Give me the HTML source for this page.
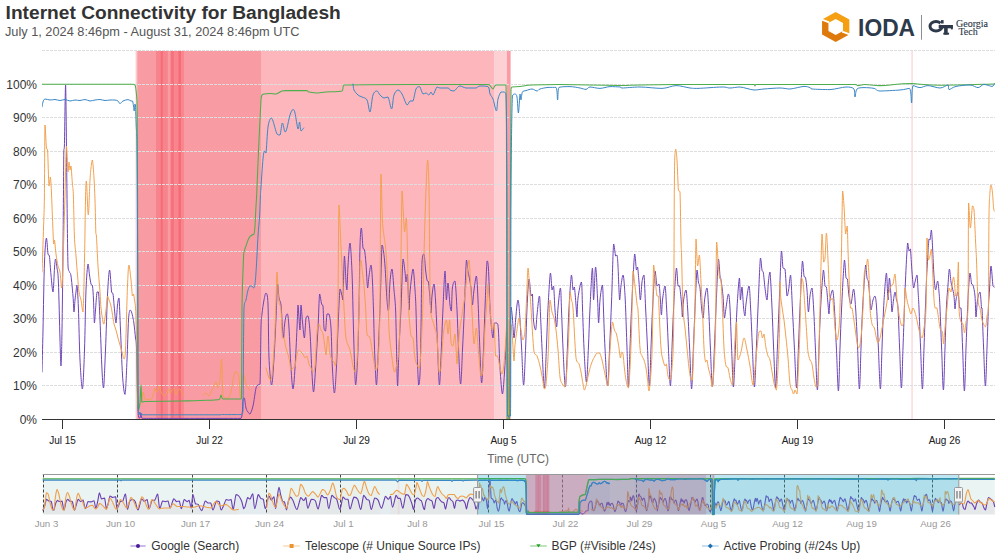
<!DOCTYPE html>
<html><head><meta charset="utf-8"><title>IODA</title>
<style>
html,body{margin:0;padding:0;background:#fff;}
body{width:1000px;height:560px;overflow:hidden;position:relative;font-family:"Liberation Sans",sans-serif;}
svg{position:absolute;left:0;top:0;}
svg text{font-family:"Liberation Sans",sans-serif;}
svg text.serif{font-family:"Liberation Serif",serif;}
</style></head><body>
<svg width="1000" height="560" viewBox="0 0 1000 560"><defs><clipPath id="plotclip"><rect x="42" y="40" width="953.5" height="380"/></clipPath><linearGradient id="bandedge" x1="0" x2="1" y1="0" y2="0"><stop offset="0" stop-color="#f99ba3" stop-opacity="0"/><stop offset="1" stop-color="#f99ba3" stop-opacity="1"/></linearGradient><clipPath id="navmaskclip"><rect x="477.6" y="470" width="481.2" height="50"/></clipPath></defs>
<text x="5.6" y="18.8" font-size="19.2" font-weight="bold" fill="#333" textLength="335.2" lengthAdjust="spacingAndGlyphs">Internet Connectivity for Bangladesh</text>
<text x="4.9" y="35.6" font-size="12.8" fill="#555" textLength="294.6" lengthAdjust="spacingAndGlyphs">July 1, 2024 8:46pm - August 31, 2024 8:46pm UTC</text>

<rect x="138" y="51" width="123" height="368.5" fill="#f99ba3"/>
<rect x="134.8" y="51" width="3.2" height="368.5" fill="url(#bandedge)"/>
<rect x="261" y="51" width="233.5" height="368.5" fill="#fdb6bc"/>
<rect x="494.4" y="51" width="12.5" height="368.5" fill="#fdd0d4"/>
<rect x="506.9" y="51" width="3.7" height="368.5" fill="#fb9ba3"/>
<rect x="911.2" y="51" width="1.8" height="368.5" fill="#fde0e2"/>
<rect x="156" y="51" width="5" height="368.5" fill="#f7838c"/>
<rect x="160.8" y="51" width="2.1" height="368.5" fill="#f56b76"/>
<rect x="162.9" y="51" width="4.9" height="368.5" fill="#f7838c"/>
<rect x="170.6" y="51" width="3.5" height="368.5" fill="#f6737e"/>
<rect x="174.1" y="51" width="4.2" height="368.5" fill="#f8858e"/>
<rect x="178.3" y="51" width="2.8" height="368.5" fill="#f56b76"/>
<rect x="181.1" y="51" width="2.8" height="368.5" fill="#f8858e"/>

<g stroke="#dedede" stroke-width="1" stroke-dasharray="3,1"><line x1="42" x2="995" y1="50.5" y2="50.5"/><line x1="42" x2="995" y1="84.5" y2="84.5"/><line x1="42" x2="995" y1="117.5" y2="117.5"/><line x1="42" x2="995" y1="151.5" y2="151.5"/><line x1="42" x2="995" y1="184.5" y2="184.5"/><line x1="42" x2="995" y1="218.5" y2="218.5"/><line x1="42" x2="995" y1="251.5" y2="251.5"/><line x1="42" x2="995" y1="285.5" y2="285.5"/><line x1="42" x2="995" y1="318.5" y2="318.5"/><line x1="42" x2="995" y1="352.5" y2="352.5"/><line x1="42" x2="995" y1="385.5" y2="385.5"/></g>
<g fill="none" stroke-linejoin="round" stroke-linecap="round" clip-path="url(#plotclip)">
<path d="M42.0 372.0 C42.2 365.0 42.6 348.3 43.0 330.0 C43.4 311.7 43.9 277.3 44.5 262.0 C45.1 246.7 45.8 239.3 46.4 238.0 C47.0 238.0 47.5 251.0 48.0 254.0 C48.5 256.0 48.9 254.0 49.4 256.0 C49.9 259.5 50.4 269.0 51.0 275.0 C51.6 281.0 52.4 292.0 53.0 292.0 C53.6 290.8 54.1 273.5 54.5 268.0 C54.9 262.5 55.2 259.0 55.6 259.0 C56.0 259.0 56.5 264.2 57.0 268.0 C57.5 271.8 57.9 270.0 58.4 282.0 C58.9 294.0 59.6 326.0 60.0 340.0 C60.4 354.0 60.7 366.0 61.0 366.0 C61.3 364.3 61.7 349.3 62.0 330.0 C62.3 310.7 62.7 279.7 63.0 250.0 C63.3 220.3 63.6 169.3 63.8 152.0 C64.0 146.0 64.1 152.0 64.4 146.0 C64.7 134.8 65.2 85.0 65.6 85.0 C65.9 85.7 66.3 131.5 66.5 150.0 C66.7 168.5 66.8 176.7 67.0 196.0 C67.2 215.3 67.6 253.3 68.0 266.0 C68.4 272.0 69.0 270.3 69.5 272.0 C70.0 273.7 70.4 272.0 71.0 276.0 C71.6 280.0 72.5 290.0 73.0 296.0 C73.5 302.0 73.7 311.3 74.0 312.0 C74.3 312.0 74.7 303.3 75.0 300.0 C75.3 296.7 75.7 294.5 76.0 292.0 C76.3 289.5 76.6 285.0 77.0 285.0 C77.4 287.7 77.9 295.5 78.4 308.0 C78.9 320.5 79.3 346.5 80.0 360.0 C80.7 373.5 81.7 389.0 82.4 389.0 C83.2 387.3 83.9 366.5 84.5 350.0 C85.1 333.5 85.4 304.3 86.0 290.0 C86.6 275.7 87.4 266.5 88.0 264.0 C88.6 264.0 89.0 271.7 89.5 275.0 C90.0 278.3 90.5 282.2 91.0 284.0 C91.5 285.8 92.1 284.0 92.5 286.0 C92.9 288.7 93.2 293.8 93.5 300.0 C93.8 306.2 94.1 321.3 94.4 323.0 C94.7 323.0 95.1 315.2 95.5 310.0 C95.9 304.8 96.5 295.0 97.0 292.0 C97.5 292.0 98.0 292.0 98.5 292.0 C99.0 296.7 99.4 307.0 100.0 320.0 C100.6 333.0 101.4 358.7 102.0 370.0 C102.6 381.3 103.0 388.0 103.6 388.0 C104.2 384.7 104.8 365.5 105.5 350.0 C106.2 334.5 106.8 308.3 107.5 295.0 C108.2 281.7 108.9 270.5 109.6 270.0 C110.3 270.0 111.0 288.0 111.6 292.0 C112.2 294.0 112.5 292.0 113.0 294.0 C113.5 297.0 114.0 305.2 114.5 310.0 C115.0 314.8 115.5 323.0 116.0 323.0 C116.5 322.2 117.0 309.2 117.5 305.0 C118.0 300.8 118.5 298.0 119.0 298.0 C119.5 302.2 119.9 317.2 120.5 330.0 C121.1 342.8 121.8 364.3 122.5 375.0 C123.2 385.7 124.2 394.4 125.0 394.4 C125.8 391.9 126.4 372.4 127.0 360.0 C127.6 347.6 128.0 328.3 128.5 320.0 C129.0 311.7 129.5 311.3 130.0 310.0 C130.5 310.0 131.0 310.7 131.5 312.0 C132.0 313.3 132.6 316.0 133.0 318.0 C133.4 320.0 133.6 320.7 134.0 324.0 C134.4 327.3 135.1 334.0 135.5 338.0 C135.9 342.0 136.2 338.5 136.5 348.0 C136.8 357.5 137.2 383.5 137.5 395.0 C137.8 406.5 138.1 413.2 138.5 417.0 C138.9 418.0 139.6 418.0 140.0 418.0 C140.4 417.3 140.7 413.0 141.0 413.0 C141.3 413.1 141.0 417.4 142.0 418.3 C145.2 418.4 150.3 418.4 160.0 418.4 C169.7 418.4 186.5 418.4 200.0 418.4 C213.5 418.4 233.8 418.4 241.0 418.4 C243.0 415.3 242.4 403.4 243.0 400.0 C243.6 398.0 243.9 398.0 244.4 398.0 C244.9 399.3 245.4 405.7 246.0 408.0 C246.6 410.3 247.3 411.0 248.0 412.0 C248.7 413.0 249.2 414.0 250.0 414.0 C250.8 413.0 252.0 410.3 253.0 406.0 C254.0 401.7 255.2 391.5 256.0 388.0 C256.8 385.0 257.3 385.7 258.0 385.0 C258.7 384.3 259.5 385.0 260.0 384.0 C260.5 374.5 260.7 339.7 261.0 328.0 C261.3 316.3 261.5 318.7 262.0 314.0 C262.5 309.3 263.3 303.5 264.0 300.0 C264.7 296.5 265.3 293.0 266.0 293.0 C266.7 293.7 267.5 293.2 268.0 304.0 C268.5 314.8 268.4 344.5 269.0 358.0 C269.6 371.5 270.8 385.0 271.6 385.0 C272.4 385.0 273.3 369.2 274.0 358.0 C274.7 346.8 275.4 330.3 276.0 318.0 C276.6 305.7 277.1 287.3 277.6 284.0 C278.1 284.0 278.4 294.5 279.0 298.0 C279.6 301.5 280.4 300.0 281.0 305.0 C281.6 310.0 282.0 322.5 282.4 328.0 C282.8 333.5 283.3 338.0 283.6 338.0 C283.9 337.7 284.0 329.7 284.4 326.0 C284.8 322.3 285.5 318.0 286.0 316.0 C286.5 314.0 287.1 314.0 287.6 314.0 C288.1 316.0 288.4 319.0 289.0 328.0 C289.6 337.0 290.3 357.8 291.0 368.0 C291.7 378.2 292.3 389.0 293.0 389.0 C293.7 389.0 294.3 378.2 295.0 368.0 C295.7 357.8 296.5 338.5 297.0 328.0 C297.5 317.5 297.7 306.7 298.0 305.0 C298.3 305.0 298.7 313.8 299.0 318.0 C299.3 322.2 299.7 330.0 300.0 330.0 C300.3 327.8 300.6 306.3 301.0 305.0 C301.4 305.0 301.9 316.5 302.5 322.0 C303.1 327.5 303.8 338.0 304.4 338.0 C305.0 337.3 305.4 321.7 306.0 318.0 C306.6 316.0 307.3 316.0 308.0 316.0 C308.7 318.3 309.3 322.3 310.0 332.0 C310.7 341.7 311.4 364.0 312.0 374.0 C312.6 384.0 313.0 392.0 313.6 392.0 C314.2 391.0 314.9 378.7 315.6 368.0 C316.3 357.3 317.3 340.3 318.0 328.0 C318.7 315.7 319.0 298.0 319.6 294.0 C320.2 294.0 321.0 302.0 321.6 304.0 C322.2 306.0 322.6 304.0 323.0 306.0 C323.4 310.0 323.6 323.8 324.0 328.0 C324.4 331.0 325.1 331.0 325.6 331.0 C326.1 328.7 326.4 316.8 327.0 314.0 C327.6 314.0 328.3 314.0 329.0 314.0 C329.7 316.3 330.4 319.0 331.0 328.0 C331.6 337.0 331.8 357.2 332.4 368.0 C333.0 378.8 333.7 393.0 334.4 393.0 C335.1 393.0 335.8 378.8 336.4 368.0 C337.0 357.2 337.4 341.2 338.0 328.0 C338.6 314.8 339.3 294.3 340.0 289.0 C340.7 289.0 341.5 294.2 342.0 296.0 C342.5 297.8 342.6 300.0 343.0 300.0 C343.4 293.3 343.9 259.0 344.4 256.0 C344.9 256.0 345.6 276.3 346.0 282.0 C346.4 287.7 346.7 290.0 347.0 290.0 C347.3 287.3 347.5 273.8 348.0 266.0 C348.5 258.2 349.3 243.0 350.0 243.0 C350.7 244.0 351.5 260.8 352.0 272.0 C352.5 283.2 352.7 297.3 353.0 310.0 C353.3 322.7 353.6 335.5 354.0 348.0 C354.4 360.5 355.0 383.3 355.6 385.0 C356.2 385.0 357.0 370.8 357.6 358.0 C358.2 345.2 358.6 326.7 359.0 308.0 C359.4 289.3 359.6 259.3 360.0 246.0 C360.4 232.7 360.9 228.0 361.4 228.0 C361.9 228.3 362.5 244.3 363.0 248.0 C363.5 250.0 364.0 248.0 364.5 250.0 C365.0 252.7 365.5 257.7 366.0 264.0 C366.5 270.3 367.1 286.0 367.6 288.0 C368.1 288.0 368.4 279.8 369.0 276.0 C369.6 272.2 370.4 265.0 371.0 265.0 C371.6 265.7 372.0 272.5 372.4 280.0 C372.8 287.5 373.1 298.7 373.5 310.0 C373.9 321.3 374.0 335.5 374.5 348.0 C375.0 360.5 375.8 383.3 376.4 385.0 C377.0 385.0 377.4 370.8 378.0 358.0 C378.6 345.2 379.3 326.8 380.0 308.0 C380.7 289.2 381.4 254.3 382.0 245.0 C382.6 245.0 383.1 248.5 383.6 252.0 C384.1 255.5 384.4 258.0 385.0 266.0 C385.6 274.0 386.4 292.5 387.0 300.0 C387.6 307.5 388.0 311.0 388.5 311.0 C389.0 308.0 389.4 289.0 390.0 282.0 C390.6 275.0 391.3 269.0 392.0 269.0 C392.7 270.3 393.4 283.2 394.0 290.0 C394.6 296.8 395.2 300.3 395.6 310.0 C396.0 319.7 396.2 335.3 396.5 348.0 C396.8 360.7 397.2 386.0 397.6 386.0 C398.0 386.0 398.4 361.0 399.0 348.0 C399.6 335.0 400.3 322.8 401.0 308.0 C401.7 293.2 402.3 265.0 403.0 259.0 C403.7 259.0 404.5 268.2 405.0 272.0 C405.5 275.8 405.6 281.7 406.0 282.0 C406.4 282.0 406.9 274.0 407.4 274.0 C407.9 278.7 408.6 307.0 409.0 310.0 C409.4 310.0 409.3 298.8 410.0 292.0 C410.7 285.2 412.2 269.3 413.0 269.0 C413.8 269.0 414.5 283.2 415.0 290.0 C415.5 296.8 415.7 300.3 416.0 310.0 C416.3 319.7 416.6 335.5 417.0 348.0 C417.4 360.5 418.1 380.7 418.6 385.0 C419.1 385.0 419.6 383.2 420.0 374.0 C420.4 364.8 420.7 348.7 421.0 330.0 C421.3 311.3 421.5 274.7 422.0 262.0 C422.5 254.0 423.4 254.0 424.0 254.0 C424.6 255.3 425.1 265.7 425.6 270.0 C426.1 274.3 426.5 278.0 427.0 280.0 C427.5 282.0 427.9 280.0 428.5 282.0 C429.1 286.2 430.0 299.8 430.4 305.0 C430.8 310.2 430.7 313.0 431.0 313.0 C431.3 311.5 431.5 300.8 432.0 296.0 C432.5 291.2 433.4 284.0 434.0 284.0 C434.6 284.7 435.1 294.0 435.5 300.0 C435.9 306.0 436.1 312.0 436.5 320.0 C436.9 328.0 437.1 337.2 437.6 348.0 C438.1 358.8 438.8 383.3 439.4 385.0 C440.0 385.0 440.4 370.8 441.0 358.0 C441.6 345.2 442.3 322.5 443.0 308.0 C443.7 293.5 444.4 272.3 445.0 271.0 C445.6 271.0 445.9 298.0 446.4 300.0 C446.9 300.0 447.4 283.0 448.0 283.0 C448.6 283.8 449.4 300.3 450.0 305.0 C450.6 309.7 451.0 311.0 451.4 311.0 C451.8 308.2 451.8 293.0 452.4 288.0 C453.0 283.0 454.2 281.0 455.0 281.0 C455.8 284.7 456.4 298.8 457.0 310.0 C457.6 321.2 457.9 335.7 458.5 348.0 C459.1 360.3 459.9 383.7 460.6 384.0 C461.3 384.0 461.9 362.7 462.5 350.0 C463.1 337.3 463.8 323.0 464.4 308.0 C465.0 293.0 465.8 266.0 466.4 260.0 C467.0 260.0 467.6 269.3 468.0 272.0 C468.4 274.7 468.5 273.3 469.0 276.0 C469.5 278.7 470.4 283.2 471.0 288.0 C471.6 292.8 471.9 304.7 472.4 305.0 C472.9 305.0 473.3 294.8 474.0 290.0 C474.7 285.2 475.7 276.0 476.4 276.0 C477.1 277.7 477.5 289.3 478.0 300.0 C478.5 310.7 478.9 326.2 479.5 340.0 C480.1 353.8 480.9 381.3 481.6 383.0 C482.3 383.0 482.9 362.5 483.5 350.0 C484.1 337.5 484.4 322.8 485.0 308.0 C485.6 293.2 486.4 267.7 487.0 261.0 C487.6 261.0 487.9 261.0 488.4 268.0 C488.9 275.8 489.5 298.0 490.0 308.0 C490.5 318.0 491.1 323.0 491.6 328.0 C492.1 333.0 492.5 338.0 493.0 338.0 C493.5 337.2 493.7 325.5 494.4 323.0 C495.1 323.0 496.3 323.0 497.0 323.0 C497.7 324.2 497.9 323.0 498.4 330.0 C498.9 337.5 499.3 357.3 500.0 368.0 C500.7 378.7 501.7 393.0 502.4 394.0 C503.1 394.0 503.7 383.3 504.4 374.0 C505.1 364.7 505.9 345.7 506.4 338.0 C506.9 330.3 507.1 328.0 507.4 328.0 C507.7 340.7 507.9 399.0 508.3 414.0 C508.7 418.0 509.2 418.0 509.5 418.0 C509.8 404.0 510.1 348.5 510.3 330.0 C510.6 311.5 510.6 309.0 511.0 307.0 C511.4 307.0 511.9 312.8 512.4 318.0 C512.9 323.2 513.5 337.7 514.0 338.0 C514.5 338.0 515.1 325.5 515.6 320.0 C516.1 314.5 516.6 308.3 517.0 305.0 C517.4 301.7 517.7 300.0 518.0 300.0 C518.3 300.2 518.7 302.7 519.0 306.0 C519.3 309.3 519.6 313.0 520.0 320.0 C520.4 327.0 521.0 337.2 521.6 348.0 C522.2 358.8 522.9 385.0 523.6 385.0 C524.3 385.0 525.0 360.8 525.6 348.0 C526.2 335.2 526.4 319.5 527.0 308.0 C527.6 296.5 528.3 281.0 529.0 279.0 C529.7 279.0 530.4 293.5 531.0 296.0 C531.6 296.0 532.0 294.0 532.4 294.0 C532.8 298.0 533.0 314.0 533.5 320.0 C534.0 326.0 535.0 330.0 535.6 330.0 C536.2 329.2 536.4 320.7 537.0 315.0 C537.6 309.3 538.8 296.0 539.4 296.0 C540.0 296.0 540.1 306.3 540.5 315.0 C540.9 323.7 541.4 335.8 542.0 348.0 C542.6 360.2 543.7 388.0 544.4 388.0 C545.1 388.0 545.8 361.3 546.4 348.0 C547.0 334.7 547.3 320.5 548.0 308.0 C548.7 295.5 549.7 276.0 550.4 273.0 C551.1 273.0 551.5 287.8 552.0 290.0 C552.5 290.0 553.1 286.0 553.6 286.0 C554.1 289.3 554.5 303.2 555.0 310.0 C555.5 316.8 556.1 327.0 556.6 327.0 C557.1 326.7 557.4 314.5 558.0 308.0 C558.6 301.5 559.8 288.0 560.4 288.0 C561.0 288.3 561.1 300.0 561.5 310.0 C561.9 320.0 562.4 335.2 563.0 348.0 C563.6 360.8 564.7 387.0 565.4 387.0 C566.1 387.0 566.8 361.2 567.4 348.0 C568.0 334.8 568.3 320.2 569.0 308.0 C569.7 295.8 570.7 278.0 571.4 275.0 C572.1 275.0 572.5 288.0 573.0 290.0 C573.5 290.0 573.9 287.0 574.4 287.0 C574.9 289.5 575.6 300.0 576.0 305.0 C576.4 310.0 576.7 317.0 577.0 317.0 C577.3 315.8 577.3 303.8 578.0 298.0 C578.7 292.2 580.6 282.0 581.4 282.0 C582.1 283.7 582.1 297.0 582.5 308.0 C582.9 319.0 583.4 335.7 584.0 348.0 C584.6 360.3 585.7 382.0 586.4 382.0 C587.1 382.0 587.8 360.3 588.4 348.0 C589.0 335.7 589.3 321.3 590.0 308.0 C590.7 294.7 591.8 269.3 592.4 268.0 C593.0 268.0 593.1 300.0 593.6 300.0 C594.1 299.8 594.9 267.0 595.6 267.0 C596.3 267.0 597.1 290.7 597.6 300.0 C598.1 309.3 598.2 323.0 598.6 323.0 C599.0 323.0 599.4 306.3 600.0 300.0 C600.6 293.7 601.8 285.0 602.4 285.0 C603.0 286.7 603.1 299.5 603.5 310.0 C603.9 320.5 604.3 335.3 605.0 348.0 C605.7 360.7 606.8 386.0 607.6 386.0 C608.4 386.0 608.9 362.3 609.6 348.0 C610.3 333.7 610.9 317.3 611.6 300.0 C612.3 282.7 612.9 251.3 613.6 244.0 C614.3 244.0 615.0 254.2 615.6 256.0 C616.2 256.0 616.6 255.0 617.0 255.0 C617.4 256.7 617.6 258.5 618.0 266.0 C618.4 273.5 619.1 296.7 619.6 300.0 C620.1 300.0 620.4 290.2 621.0 286.0 C621.6 281.8 622.4 275.0 623.0 275.0 C623.6 275.0 624.0 280.5 624.4 286.0 C624.8 291.5 625.2 297.7 625.6 308.0 C626.0 318.3 626.5 334.8 627.0 348.0 C627.5 361.2 627.9 387.0 628.4 387.0 C628.9 387.0 629.5 361.2 630.0 348.0 C630.5 334.8 630.8 323.7 631.6 308.0 C632.4 292.3 633.8 260.3 634.6 254.0 C635.4 254.0 635.9 267.8 636.4 270.0 C636.9 270.0 637.2 267.0 637.6 267.0 C638.0 269.0 638.5 276.5 639.0 282.0 C639.5 287.5 639.9 300.0 640.4 300.0 C640.9 300.0 641.4 286.2 642.0 282.0 C642.6 277.8 643.4 275.0 644.0 275.0 C644.6 279.3 645.0 295.8 645.6 308.0 C646.2 320.2 646.9 335.0 647.5 348.0 C648.1 361.0 648.8 386.0 649.4 386.0 C650.0 386.0 650.5 361.0 651.0 348.0 C651.5 335.0 651.9 320.8 652.6 308.0 C653.3 295.2 654.3 274.7 655.0 271.0 C655.7 271.0 656.3 283.8 657.0 286.0 C657.7 286.0 658.4 284.0 659.0 284.0 C659.6 286.3 660.0 294.8 660.4 300.0 C660.8 305.2 661.0 315.0 661.4 315.0 C661.8 315.0 661.9 304.8 662.5 300.0 C663.1 295.2 664.3 286.0 665.0 286.0 C665.7 287.3 666.0 297.7 666.6 308.0 C667.2 318.3 667.8 335.0 668.4 348.0 C669.0 361.0 669.8 386.0 670.4 386.0 C671.0 386.0 671.5 361.0 672.0 348.0 C672.5 335.0 672.9 321.3 673.6 308.0 C674.3 294.7 675.7 271.7 676.4 268.0 C677.1 268.0 677.5 283.0 678.0 286.0 C678.5 286.0 679.0 286.0 679.6 286.0 C680.2 289.0 681.1 298.8 681.6 304.0 C682.1 309.2 682.1 317.0 682.4 317.0 C682.7 316.3 683.0 304.5 683.6 300.0 C684.2 295.5 685.3 290.0 686.0 290.0 C686.7 291.3 687.0 298.3 687.6 308.0 C688.2 317.7 688.9 334.5 689.6 348.0 C690.3 361.5 691.0 389.0 691.6 389.0 C692.2 389.0 692.8 361.5 693.4 348.0 C694.0 334.5 694.4 321.0 695.0 308.0 C695.6 295.0 696.4 274.3 697.0 270.0 C697.6 270.0 697.9 279.0 698.4 282.0 C698.9 285.0 699.5 283.7 700.0 288.0 C700.5 292.3 701.1 303.0 701.6 308.0 C702.1 313.0 702.7 318.0 703.2 318.0 C703.7 316.7 704.0 305.0 704.6 300.0 C705.2 295.0 706.3 288.0 707.0 288.0 C707.7 289.3 708.0 298.0 708.6 308.0 C709.2 318.0 709.8 334.8 710.4 348.0 C711.0 361.2 711.7 387.0 712.4 387.0 C713.1 387.0 713.8 361.2 714.4 348.0 C715.0 334.8 715.3 322.8 716.0 308.0 C716.7 293.2 717.7 264.3 718.4 259.0 C719.1 259.0 719.6 272.5 720.0 276.0 C720.4 279.5 720.5 276.7 721.0 280.0 C721.5 283.3 722.4 289.7 723.0 296.0 C723.6 302.3 723.9 316.0 724.4 318.0 C724.9 318.0 725.3 312.0 726.0 308.0 C726.7 304.0 727.7 294.0 728.4 294.0 C729.1 294.0 729.5 299.0 730.0 308.0 C730.5 317.0 731.0 334.8 731.6 348.0 C732.2 361.2 732.8 387.0 733.4 387.0 C734.0 387.0 734.8 361.2 735.4 348.0 C736.0 334.8 736.3 319.7 737.0 308.0 C737.7 296.3 738.8 279.3 739.4 278.0 C740.0 278.0 740.0 298.5 740.4 300.0 C740.8 300.0 741.5 287.0 742.0 287.0 C742.5 288.3 743.1 303.2 743.6 308.0 C744.1 312.8 744.6 316.0 745.0 316.0 C745.4 315.3 745.3 309.0 746.0 304.0 C746.7 299.0 748.2 286.0 749.0 286.0 C749.8 286.7 750.0 297.7 750.6 308.0 C751.2 318.3 751.8 334.8 752.4 348.0 C753.0 361.2 753.7 387.0 754.4 387.0 C755.1 387.0 755.8 361.2 756.4 348.0 C757.0 334.8 757.3 323.0 758.0 308.0 C758.7 293.0 759.7 264.3 760.4 258.0 C761.1 258.0 761.5 267.5 762.0 270.0 C762.5 272.5 762.9 270.0 763.4 273.0 C763.9 276.0 764.4 283.5 765.0 288.0 C765.6 292.5 766.4 300.0 767.0 300.0 C767.6 299.0 767.9 286.7 768.4 282.0 C768.9 277.3 769.4 272.0 770.0 272.0 C770.6 276.3 771.4 295.3 772.0 308.0 C772.6 320.7 773.0 334.7 773.6 348.0 C774.2 361.3 775.0 388.0 775.6 388.0 C776.2 388.0 776.8 361.3 777.4 348.0 C778.0 334.7 778.3 324.2 779.0 308.0 C779.7 291.8 780.7 257.7 781.4 251.0 C782.1 251.0 782.4 265.0 783.0 268.0 C783.6 269.0 784.3 268.0 785.0 269.0 C785.7 273.7 786.4 292.5 787.0 296.0 C787.6 296.0 788.0 293.5 788.6 290.0 C789.2 286.5 790.0 275.0 790.6 275.0 C791.2 278.0 791.8 295.8 792.4 308.0 C793.0 320.2 793.7 334.7 794.4 348.0 C795.1 361.3 795.9 388.0 796.6 388.0 C797.3 388.0 797.8 361.3 798.4 348.0 C799.0 334.7 799.3 322.5 800.0 308.0 C800.7 293.5 801.7 266.3 802.4 261.0 C803.1 261.0 803.5 273.2 804.0 276.0 C804.5 278.0 805.1 276.0 805.6 278.0 C806.1 280.3 806.5 284.3 807.0 290.0 C807.5 295.7 807.9 311.0 808.4 312.0 C808.9 312.0 809.4 300.0 810.0 296.0 C810.6 292.0 811.4 288.0 812.0 288.0 C812.6 290.0 813.0 298.0 813.6 308.0 C814.2 318.0 814.8 334.3 815.4 348.0 C816.0 361.7 816.8 390.0 817.4 390.0 C818.0 390.0 818.5 361.7 819.0 348.0 C819.5 334.3 819.9 321.0 820.6 308.0 C821.3 295.0 822.7 273.7 823.4 270.0 C824.1 270.0 824.5 283.2 825.0 286.0 C825.5 287.0 825.9 286.0 826.4 287.0 C826.9 290.0 827.6 299.5 828.0 304.0 C828.4 308.5 828.7 314.0 829.0 314.0 C829.3 313.3 829.4 304.0 830.0 300.0 C830.6 296.0 831.9 290.0 832.6 290.0 C833.3 291.3 833.8 298.3 834.4 308.0 C835.0 317.7 835.7 334.2 836.4 348.0 C837.1 361.8 837.8 391.0 838.4 391.0 C839.0 391.0 839.5 361.8 840.0 348.0 C840.5 334.2 840.9 322.7 841.6 308.0 C842.3 293.3 843.7 265.0 844.4 260.0 C845.1 260.0 845.5 274.8 846.0 278.0 C846.5 279.0 846.9 278.0 847.4 279.0 C847.9 282.0 848.4 291.8 849.0 296.0 C849.6 300.2 850.2 304.0 851.0 304.0 C851.8 302.8 852.8 289.0 853.6 289.0 C854.4 289.7 854.9 298.2 855.6 308.0 C856.3 317.8 857.0 334.5 857.6 348.0 C858.2 361.5 858.8 389.0 859.4 389.0 C860.0 389.0 860.5 361.5 861.0 348.0 C861.5 334.5 861.8 321.8 862.6 308.0 C863.4 294.2 864.9 270.0 865.6 265.0 C866.3 265.0 866.5 275.2 867.0 278.0 C867.5 280.8 867.9 278.3 868.4 282.0 C868.9 285.7 869.6 295.3 870.0 300.0 C870.4 304.7 870.5 310.0 871.0 310.0 C871.5 310.0 872.3 302.3 873.0 300.0 C873.7 297.7 874.4 296.0 875.0 296.0 C875.6 297.3 876.0 299.3 876.6 308.0 C877.2 316.7 877.8 334.5 878.4 348.0 C879.0 361.5 879.8 389.0 880.4 389.0 C881.0 389.0 881.5 361.5 882.0 348.0 C882.5 334.5 882.9 320.5 883.6 308.0 C884.3 295.5 885.7 274.3 886.4 273.0 C887.1 273.0 887.5 299.2 888.0 300.0 C888.5 300.0 888.9 278.7 889.4 278.0 C889.9 278.0 890.6 290.3 891.0 296.0 C891.4 301.7 891.6 311.3 892.0 312.0 C892.4 312.0 893.0 303.3 893.5 300.0 C894.0 296.7 894.5 292.0 895.0 292.0 C895.5 292.0 896.0 297.3 896.5 300.0 C897.0 302.7 897.5 300.0 898.0 308.0 C898.5 316.0 899.0 334.7 899.6 348.0 C900.2 361.3 900.8 388.0 901.4 388.0 C902.0 388.0 902.5 361.3 903.0 348.0 C903.5 334.7 904.0 319.3 904.4 308.0 C904.8 296.7 905.0 290.8 905.5 280.0 C906.0 269.2 907.0 247.8 907.6 243.0 C908.2 243.0 908.5 250.0 909.0 251.0 C909.5 251.0 909.9 249.0 910.4 249.0 C910.9 252.5 911.5 265.5 912.0 272.0 C912.5 278.5 913.1 286.3 913.6 288.0 C914.1 288.0 914.4 284.2 915.0 282.0 C915.6 279.8 916.5 275.0 917.0 275.0 C917.5 276.3 917.7 284.5 918.0 290.0 C918.3 295.5 918.6 298.3 919.0 308.0 C919.4 317.7 920.0 334.5 920.6 348.0 C921.2 361.5 921.8 389.0 922.4 389.0 C923.0 389.0 923.5 361.5 924.0 348.0 C924.5 334.5 925.0 319.3 925.4 308.0 C925.8 296.7 926.1 289.3 926.5 280.0 C926.9 270.7 927.6 258.8 928.0 252.0 C928.4 245.2 928.7 241.0 929.0 239.0 C929.3 239.0 929.6 240.0 930.0 240.0 C930.4 238.5 931.0 230.0 931.4 230.0 C931.8 231.3 932.2 240.3 932.6 248.0 C933.0 255.7 933.5 269.0 934.0 276.0 C934.5 283.0 935.0 289.2 935.6 290.0 C936.2 290.0 937.0 281.0 937.6 281.0 C938.2 281.3 938.6 287.5 939.0 292.0 C939.4 296.5 939.6 298.7 940.0 308.0 C940.4 317.3 941.0 334.3 941.6 348.0 C942.2 361.7 942.8 390.0 943.4 390.0 C944.0 390.0 944.5 361.7 945.0 348.0 C945.5 334.3 945.9 318.5 946.4 308.0 C946.9 297.5 947.5 291.5 948.0 285.0 C948.5 278.5 948.9 269.5 949.4 269.0 C949.9 269.0 950.5 278.8 951.0 282.0 C951.5 285.2 951.9 285.7 952.4 288.0 C952.9 290.3 953.6 292.5 954.0 296.0 C954.4 299.5 954.7 308.3 955.0 309.0 C955.3 309.0 955.5 302.8 956.0 300.0 C956.5 297.2 957.4 292.0 958.0 292.0 C958.6 293.3 959.1 305.3 959.6 308.0 C960.1 308.0 960.5 308.0 961.0 308.0 C961.5 314.7 962.0 334.2 962.6 348.0 C963.2 361.8 963.8 391.0 964.4 391.0 C965.0 391.0 965.5 361.8 966.0 348.0 C966.5 334.2 967.2 317.7 967.6 308.0 C968.0 298.3 968.1 295.8 968.5 290.0 C968.9 284.2 969.5 274.0 970.0 273.0 C970.5 273.0 971.1 282.0 971.6 284.0 C972.1 285.0 972.4 284.0 973.0 285.0 C973.6 287.0 974.5 290.7 975.0 296.0 C975.5 301.3 975.6 316.3 976.0 317.0 C976.4 317.0 976.8 304.2 977.5 300.0 C978.2 295.8 979.3 292.0 980.0 292.0 C980.7 293.3 981.2 305.3 981.5 308.0 C981.8 308.0 981.6 308.0 982.0 308.0 C982.4 314.7 983.0 335.0 983.6 348.0 C984.2 361.0 984.8 386.0 985.4 386.0 C986.0 386.0 986.5 361.0 987.0 348.0 C987.5 335.0 988.0 317.7 988.4 308.0 C988.8 298.3 989.1 297.0 989.5 290.0 C989.9 283.0 990.4 266.7 991.0 266.0 C991.6 266.0 992.4 282.5 993.0 286.0 C993.6 287.0 994.2 286.8 994.4 287.0" stroke="#6d45b8" stroke-width="1.0"/>
<path d="M42.0 272.0 C42.3 264.3 43.2 238.7 43.6 226.0 C44.0 213.3 44.2 212.8 44.4 196.0 C44.6 179.2 44.7 133.0 45.0 125.0 C45.3 125.0 46.0 143.8 46.4 148.0 C46.8 150.0 47.2 148.0 47.6 150.0 C48.0 156.3 48.5 181.5 49.0 186.0 C49.5 186.0 50.0 177.0 50.4 177.0 C50.8 178.7 51.1 184.8 51.6 196.0 C52.1 207.2 53.1 236.7 53.6 244.0 C54.1 244.0 54.1 240.0 54.5 240.0 C54.9 241.7 55.4 249.7 56.0 254.0 C56.6 258.3 57.3 263.0 58.0 266.0 C58.7 269.0 59.4 268.3 60.0 272.0 C60.6 275.7 61.2 286.7 61.6 288.0 C62.0 288.0 62.0 288.0 62.4 280.0 C62.8 270.3 63.6 244.0 64.0 230.0 C64.4 216.0 64.6 210.0 65.0 196.0 C65.4 182.0 65.9 150.0 66.4 146.0 C66.9 146.0 67.6 169.3 68.0 172.0 C68.4 172.0 68.7 162.3 69.0 162.0 C69.3 162.0 69.7 169.3 70.0 170.0 C70.3 170.0 70.6 166.0 71.0 166.0 C71.4 168.3 72.0 179.0 72.4 184.0 C72.8 189.0 73.1 187.3 73.4 196.0 C73.7 204.7 74.0 226.0 74.4 236.0 C74.8 246.0 75.5 249.3 76.0 256.0 C76.5 262.7 77.1 270.0 77.6 276.0 C78.1 282.0 78.4 288.0 79.0 292.0 C79.6 296.0 80.3 296.7 81.0 300.0 C81.7 303.3 82.4 312.0 83.0 312.0 C83.6 305.3 84.1 278.7 84.5 260.0 C84.9 241.3 85.2 213.2 85.5 200.0 C85.8 186.8 85.9 181.0 86.4 181.0 C86.9 183.5 87.7 215.0 88.3 215.0 C88.9 214.8 89.5 187.8 90.0 180.0 C90.5 172.2 90.6 171.3 91.0 168.0 C91.4 164.7 91.9 160.0 92.4 160.0 C92.9 161.7 93.6 171.3 94.0 178.0 C94.4 184.7 94.7 191.0 95.0 200.0 C95.3 209.0 95.6 226.0 95.8 232.0 C96.0 236.0 96.0 232.0 96.4 236.0 C96.8 241.7 97.4 256.7 98.0 266.0 C98.6 275.3 99.5 285.0 100.0 292.0 C100.5 299.0 100.5 303.0 101.0 308.0 C101.5 313.0 102.5 319.3 103.0 322.0 C103.5 324.0 103.5 324.0 104.0 324.0 C104.5 322.0 105.4 314.7 106.0 310.0 C106.6 305.3 107.1 297.7 107.6 296.0 C108.1 296.0 108.4 298.3 109.0 300.0 C109.6 301.7 110.3 303.0 111.0 306.0 C111.7 309.0 112.5 315.0 113.0 318.0 C113.5 321.0 113.5 322.0 114.0 324.0 C114.5 326.0 115.3 327.7 116.0 330.0 C116.7 332.3 117.3 335.5 118.0 338.0 C118.7 340.5 119.3 342.7 120.0 345.0 C120.7 347.3 121.3 349.7 122.0 352.0 C122.7 354.3 123.4 359.0 124.0 359.0 C124.6 358.7 125.0 359.0 125.5 350.0 C126.0 340.2 126.6 312.5 127.0 300.0 C127.4 287.5 127.7 280.8 128.0 275.0 C128.3 269.2 128.5 265.0 129.0 265.0 C129.5 265.8 130.4 274.8 131.0 280.0 C131.6 285.2 132.0 293.7 132.4 296.0 C132.8 296.0 133.2 294.0 133.5 294.0 C133.8 294.7 134.2 297.7 134.5 300.0 C134.8 302.3 135.3 304.0 135.6 308.0 C135.9 312.0 136.0 318.7 136.2 324.0 C136.4 329.3 136.6 327.3 136.8 340.0 C137.0 352.7 137.1 388.7 137.5 400.0 C137.9 408.0 138.6 407.2 139.0 408.0 C139.4 408.0 139.5 406.7 140.0 405.0 C140.5 403.3 141.5 400.2 142.0 398.0 C142.5 395.8 142.6 392.0 143.0 392.0 C143.4 392.0 144.0 396.7 144.5 398.0 C145.0 399.3 145.4 399.8 146.0 400.0 C146.6 400.0 147.3 399.0 148.0 399.0 C148.7 399.0 149.3 400.0 150.0 400.0 C150.7 399.8 151.3 399.3 152.0 398.0 C152.7 396.7 153.5 393.7 154.0 392.0 C154.5 390.3 154.6 388.0 155.0 388.0 C155.4 388.0 156.0 391.7 156.5 392.0 C157.0 392.0 157.5 391.0 158.0 390.0 C158.5 389.0 159.0 386.0 159.5 386.0 C160.0 386.3 160.4 390.5 161.0 392.0 C161.6 393.5 162.3 394.3 163.0 395.0 C163.7 395.7 164.3 396.0 165.0 396.0 C165.7 395.5 166.3 393.2 167.0 392.0 C167.7 390.8 168.4 389.0 169.0 389.0 C169.6 389.2 170.0 392.8 170.5 393.0 C171.0 393.0 171.4 390.8 172.0 390.0 C172.6 389.2 173.3 388.0 174.0 388.0 C174.7 388.8 175.3 394.7 176.0 395.0 C176.7 395.0 177.3 391.0 178.0 390.0 C178.7 389.0 179.3 389.0 180.0 389.0 C180.7 389.5 181.3 391.8 182.0 393.0 C182.7 394.2 183.7 395.5 184.0 396.0 M203.0 395.0 C203.5 394.7 205.0 393.0 206.0 393.0 C207.0 393.2 208.0 396.0 209.0 396.0 C210.0 395.5 211.0 392.0 212.0 390.0 C213.0 388.0 214.3 385.3 215.0 384.0 C215.7 382.7 215.5 382.0 216.0 382.0 C216.5 382.7 217.3 388.0 218.0 388.0 C218.7 387.7 219.4 384.8 220.0 380.0 C220.6 375.2 221.2 359.0 221.6 359.0 C222.0 359.8 222.3 378.8 222.5 385.0 C222.7 391.2 222.5 393.8 223.0 396.0 C223.6 398.0 225.0 397.8 226.0 398.0 C227.0 398.0 228.2 398.0 229.0 397.0 C229.8 396.0 230.3 394.8 231.0 392.0 C231.7 389.2 232.3 383.3 233.0 380.0 C233.7 376.7 234.3 373.3 235.0 372.0 C235.7 372.0 236.3 372.0 237.0 372.0 C237.7 373.0 238.4 373.7 239.0 378.0 C239.6 382.3 240.0 396.0 240.4 398.0 C240.8 398.0 241.0 394.0 241.5 390.0 C242.0 386.0 242.8 375.0 243.6 374.0 C244.3 374.0 245.1 381.5 246.0 384.0 C246.9 386.5 248.3 388.0 249.0 389.0 C249.7 390.0 249.8 389.8 250.0 390.0 M266.0 368.0 C266.5 369.7 268.2 376.0 269.0 378.0 C269.8 380.0 270.3 380.0 271.0 380.0 C271.7 377.7 272.3 372.7 273.0 364.0 C273.7 355.3 274.5 338.7 275.0 328.0 C275.5 317.3 275.7 309.3 276.0 300.0 C276.3 290.7 276.7 273.7 277.0 272.0 C277.3 272.0 277.7 285.0 278.0 290.0 C278.3 295.0 278.5 298.7 279.0 302.0 C279.5 305.3 280.4 304.0 281.0 310.0 C281.6 316.0 281.9 333.3 282.4 338.0 C282.9 338.0 283.4 338.0 284.0 338.0 C284.6 339.7 285.2 344.7 286.0 348.0 C286.8 351.3 288.2 354.3 289.0 358.0 C289.8 361.7 290.3 368.3 291.0 370.0 C291.7 370.0 292.3 368.7 293.0 368.0 C293.7 367.3 294.3 368.0 295.0 366.0 C295.7 363.7 296.3 356.7 297.0 354.0 C297.7 351.3 298.3 350.3 299.0 350.0 C299.7 350.0 300.3 351.3 301.0 352.0 C301.7 352.7 302.3 353.0 303.0 354.0 C303.7 355.0 304.3 357.7 305.0 358.0 C305.7 358.0 306.3 356.0 307.0 356.0 C307.7 357.0 308.3 362.0 309.0 364.0 C309.7 366.0 310.3 366.7 311.0 368.0 C311.7 369.3 312.3 372.0 313.0 372.0 C313.7 371.7 314.3 372.0 315.0 366.0 C315.7 359.3 316.3 339.0 317.0 332.0 C317.7 325.0 318.3 324.3 319.0 324.0 C319.7 324.0 320.3 328.3 321.0 330.0 C321.7 331.7 322.3 331.0 323.0 334.0 C323.7 337.0 324.5 344.5 325.0 348.0 C325.5 351.5 325.5 355.0 326.0 355.0 C326.5 353.0 327.3 336.2 328.0 336.0 C328.7 336.0 329.3 350.0 330.0 354.0 C330.7 358.0 331.3 358.7 332.0 360.0 C332.7 361.3 333.4 361.0 334.0 362.0 C334.6 363.0 335.1 366.0 335.6 366.0 C336.1 362.3 336.6 351.0 337.0 340.0 C337.4 329.0 337.7 322.5 338.0 300.0 C338.3 277.5 338.5 213.7 339.0 205.0 C339.5 205.0 340.3 234.5 341.0 248.0 C341.7 261.5 342.5 276.0 343.0 286.0 C343.5 296.0 343.5 299.3 344.0 308.0 C344.5 316.7 345.0 331.0 346.0 338.0 C347.0 345.0 348.8 345.3 350.0 350.0 C351.2 354.7 352.2 362.3 353.0 366.0 C353.8 369.7 354.3 372.0 355.0 372.0 C355.7 371.0 356.4 367.3 357.0 360.0 C357.6 352.7 358.0 339.7 358.4 328.0 C358.8 316.3 359.3 301.0 359.6 290.0 C359.9 279.0 359.8 267.0 360.0 262.0 C360.2 260.0 360.6 260.0 361.0 260.0 C361.4 261.7 361.9 267.7 362.4 272.0 C362.9 276.3 363.5 280.0 364.0 286.0 C364.5 292.0 365.1 300.0 365.6 308.0 C366.1 316.0 366.3 329.0 367.0 334.0 C367.7 338.0 369.0 334.3 370.0 338.0 C371.0 341.7 372.1 350.7 373.0 356.0 C373.9 361.3 374.8 368.3 375.6 370.0 C376.4 370.0 376.9 370.0 377.6 366.0 C378.3 359.0 379.2 347.3 379.6 328.0 C380.1 308.7 380.1 275.7 380.3 250.0 C380.5 224.3 380.6 179.0 381.0 174.0 C381.4 174.0 381.9 209.7 382.4 220.0 C382.9 230.3 383.4 230.7 384.0 236.0 C384.6 241.3 385.3 242.7 386.0 252.0 C386.7 261.3 387.5 279.0 388.0 292.0 C388.5 305.0 388.3 319.0 389.0 330.0 C389.7 341.0 391.1 351.0 392.0 358.0 C392.9 365.0 393.7 370.3 394.4 372.0 C395.1 372.0 395.2 372.0 396.0 368.0 C396.8 364.0 398.3 359.3 399.0 348.0 C399.7 336.7 399.9 326.2 400.4 300.0 C400.9 273.8 401.5 205.3 402.0 191.0 C402.5 191.0 403.0 207.2 403.4 214.0 C403.8 220.8 404.1 231.3 404.6 232.0 C405.1 232.0 405.9 218.0 406.4 218.0 C406.9 222.0 407.2 241.0 407.6 256.0 C408.0 271.0 408.0 294.7 408.6 308.0 C409.2 321.3 410.3 331.0 411.0 336.0 C411.7 338.0 412.3 336.0 413.0 338.0 C413.7 341.7 414.2 353.3 415.0 358.0 C415.8 362.7 416.8 364.3 417.6 366.0 C418.4 367.7 418.9 368.0 419.6 368.0 C420.3 363.3 421.0 349.3 421.6 338.0 C422.2 326.7 422.6 313.7 423.0 300.0 C423.4 286.3 423.6 272.7 424.0 256.0 C424.4 239.3 425.0 216.0 425.6 200.0 C426.2 184.0 427.0 161.7 427.6 160.0 C428.2 160.0 428.7 175.0 429.0 190.0 C429.3 205.0 429.4 230.3 429.6 250.0 C429.9 269.7 429.8 295.5 430.5 308.0 C431.2 320.5 432.9 320.0 434.0 325.0 C435.1 330.0 436.2 330.2 437.0 338.0 C437.8 345.8 438.3 367.0 439.0 372.0 C439.7 372.0 440.3 372.0 441.0 368.0 C441.7 362.3 442.3 345.3 443.0 338.0 C443.7 330.7 444.4 327.0 445.0 324.0 C445.6 321.0 446.1 320.0 446.6 320.0 C447.1 321.7 447.5 334.0 448.0 334.0 C448.5 334.0 449.1 320.0 449.6 320.0 C450.1 321.3 450.4 337.7 451.0 342.0 C451.6 346.0 452.3 346.0 453.0 346.0 C453.7 344.7 454.3 334.0 455.0 334.0 C455.7 337.0 456.5 361.3 457.0 364.0 C457.5 364.0 457.5 356.0 458.0 350.0 C458.5 344.0 459.3 333.8 460.0 328.0 C460.7 322.2 461.5 318.3 462.0 315.0 C462.5 311.7 462.5 311.3 463.0 308.0 C463.5 304.7 464.3 300.5 465.0 295.0 C465.7 289.5 466.3 280.8 467.0 275.0 C467.7 269.2 468.4 260.0 469.0 260.0 C469.6 260.8 469.9 271.3 470.4 280.0 C470.9 288.7 471.4 301.3 472.0 312.0 C472.6 322.7 473.3 341.3 474.0 344.0 C474.7 344.0 475.6 328.0 476.4 328.0 C477.2 330.3 478.2 350.0 479.0 358.0 C479.8 366.0 480.3 374.3 481.0 376.0 C481.7 376.0 482.3 376.0 483.0 368.0 C483.7 360.0 484.3 339.3 485.0 328.0 C485.7 316.7 486.5 307.3 487.0 300.0 C487.5 292.7 487.7 284.8 488.0 284.0 C488.3 284.0 488.7 291.0 489.0 295.0 C489.3 299.0 489.5 302.2 490.0 308.0 C490.5 313.8 491.3 327.5 492.0 330.0 C492.7 330.0 493.4 323.0 494.0 323.0 C494.6 327.3 495.0 350.5 495.6 356.0 C496.2 356.0 496.9 356.0 497.6 356.0 C498.3 357.7 498.9 363.0 499.6 366.0 C500.3 369.0 501.3 374.0 502.0 374.0 C502.7 373.7 503.3 370.3 504.0 364.0 C504.7 357.7 505.5 343.7 506.0 336.0 C506.5 328.3 506.9 318.0 507.2 318.0 C507.5 328.7 507.7 383.7 508.0 400.0 C508.3 416.0 508.6 416.0 509.0 416.0 C509.4 404.3 510.0 345.3 510.3 330.0 C510.6 324.0 510.6 324.0 511.0 324.0 C511.4 325.3 511.9 331.8 512.4 338.0 C512.9 344.2 513.6 359.8 514.0 361.0 C514.4 361.0 514.5 350.2 515.0 345.0 C515.5 339.8 516.3 334.5 517.0 330.0 C517.7 325.5 518.3 318.0 519.0 318.0 C519.7 318.0 520.3 326.3 521.0 330.0 C521.7 333.7 522.3 340.0 523.0 340.0 C523.7 340.0 524.4 336.7 525.0 330.0 C525.6 323.3 526.0 310.3 526.5 300.0 C527.0 289.7 527.5 270.0 528.0 268.0 C528.5 268.0 529.1 281.3 529.6 288.0 C530.1 294.7 530.3 297.3 531.0 308.0 C531.7 318.7 533.0 344.0 534.0 352.0 C535.0 356.0 536.0 353.7 537.0 356.0 C538.0 358.3 539.1 362.3 540.0 366.0 C540.9 369.7 541.7 374.2 542.4 378.0 C543.1 381.8 543.8 388.0 544.4 389.0 C545.0 389.0 545.4 389.0 546.0 384.0 C546.6 378.8 547.5 367.0 548.0 358.0 C548.5 349.0 548.7 339.7 549.0 330.0 C549.3 320.3 549.5 303.0 550.0 300.0 C550.5 300.0 551.3 309.0 552.0 312.0 C552.7 315.0 553.3 315.0 554.0 318.0 C554.7 321.0 555.3 324.7 556.0 330.0 C556.7 335.3 557.3 342.2 558.0 350.0 C558.7 357.8 559.3 371.3 560.0 377.0 C560.7 382.7 561.6 382.3 562.4 384.0 C563.2 385.7 564.2 387.0 565.0 387.0 C565.8 384.3 566.3 377.8 567.0 368.0 C567.7 358.2 568.5 340.7 569.0 328.0 C569.5 315.3 569.6 296.7 570.0 292.0 C570.4 292.0 571.0 297.3 571.5 300.0 C572.0 302.7 572.2 300.0 573.0 308.0 C573.8 317.7 575.0 348.7 576.0 358.0 C577.0 364.0 578.2 361.7 579.0 364.0 C579.8 366.3 580.3 368.7 581.0 372.0 C581.7 375.3 582.4 381.0 583.0 384.0 C583.6 387.0 583.8 390.0 584.4 390.0 C585.0 390.0 585.6 387.0 586.4 384.0 C587.2 381.0 588.1 375.7 589.0 372.0 C589.9 368.3 591.0 364.7 592.0 362.0 C593.0 359.3 594.2 357.5 595.0 356.0 C595.8 354.5 596.2 353.5 597.0 353.0 C597.8 353.0 598.8 353.0 599.6 353.0 C600.4 354.2 601.1 356.5 602.0 360.0 C602.9 363.5 604.0 369.7 605.0 374.0 C606.0 378.3 607.2 386.0 608.0 386.0 C608.8 382.0 609.3 360.7 610.0 350.0 C610.7 339.3 611.7 325.3 612.4 322.0 C613.1 322.0 613.7 328.0 614.4 330.0 C615.1 332.0 615.7 331.7 616.4 334.0 C617.1 336.3 617.7 340.0 618.4 344.0 C619.1 348.0 619.9 356.7 620.4 358.0 C620.9 358.0 621.2 352.7 621.6 352.0 C622.0 352.0 622.5 352.0 623.0 354.0 C623.5 356.7 623.9 363.7 624.4 368.0 C624.9 372.3 625.3 376.7 626.0 380.0 C626.7 383.3 627.7 388.0 628.4 388.0 C629.1 386.0 629.5 378.0 630.0 368.0 C630.5 358.0 631.1 344.2 631.6 328.0 C632.1 311.8 632.4 278.0 633.0 271.0 C633.6 271.0 634.3 280.5 635.0 286.0 C635.7 291.5 636.5 300.0 637.0 304.0 C637.5 308.0 637.5 304.0 638.0 310.0 C638.5 317.3 639.3 340.3 640.0 348.0 C640.7 355.7 641.3 354.0 642.0 356.0 C642.7 358.0 643.3 358.0 644.0 360.0 C644.7 362.0 645.4 364.7 646.0 368.0 C646.6 371.3 647.1 376.2 647.6 380.0 C648.1 383.8 648.4 391.0 649.0 391.0 C649.6 389.7 650.4 380.8 651.0 372.0 C651.6 363.2 652.0 355.8 652.4 338.0 C652.8 320.2 653.1 274.0 653.6 265.0 C654.1 265.0 655.0 278.8 655.6 284.0 C656.2 289.2 656.5 294.0 657.0 296.0 C657.5 296.0 658.1 296.0 658.4 296.0 C658.7 298.0 658.6 299.3 659.0 308.0 C659.4 316.7 660.3 339.3 661.0 348.0 C661.7 356.7 662.3 357.0 663.0 360.0 C663.7 363.0 664.4 365.3 665.0 366.0 C665.6 366.0 665.9 364.0 666.4 364.0 C666.9 365.7 667.4 373.3 668.0 376.0 C668.6 378.7 669.3 380.0 670.0 380.0 C670.7 378.7 671.4 376.7 672.0 368.0 C672.6 359.3 673.2 359.3 673.6 328.0 C674.0 296.7 674.1 209.8 674.4 180.0 C674.7 150.2 675.2 152.3 675.6 149.0 C676.0 149.0 676.5 153.2 677.0 160.0 C677.5 166.8 677.9 184.7 678.4 190.0 C678.9 192.0 679.6 190.0 680.0 192.0 C680.4 200.7 680.7 231.3 681.0 242.0 C681.3 252.7 681.3 245.0 681.6 256.0 C681.9 267.0 682.4 296.0 683.0 308.0 C683.6 320.0 684.3 321.3 685.0 328.0 C685.7 334.7 686.3 341.3 687.0 348.0 C687.7 354.7 688.3 362.7 689.0 368.0 C689.7 373.3 690.4 378.0 691.0 380.0 C691.6 380.0 691.9 380.0 692.4 380.0 C692.9 373.0 693.6 350.0 694.0 338.0 C694.4 326.0 694.7 324.5 695.0 308.0 C695.3 291.5 695.6 246.0 696.0 239.0 C696.4 239.0 697.0 263.3 697.6 266.0 C698.2 266.0 698.8 255.0 699.4 255.0 C700.0 257.7 700.5 273.2 701.0 282.0 C701.5 290.8 701.9 297.0 702.4 308.0 C702.9 319.0 703.5 339.0 704.0 348.0 C704.5 357.0 705.1 360.0 705.6 362.0 C706.1 362.0 706.5 360.0 707.0 360.0 C707.5 361.0 707.8 365.3 708.4 368.0 C709.0 370.7 709.7 372.8 710.4 376.0 C711.1 379.2 711.8 387.0 712.4 387.0 C713.0 385.7 713.5 377.8 714.0 368.0 C714.5 358.2 715.2 349.0 715.6 328.0 C716.0 307.0 716.1 252.3 716.6 242.0 C717.1 242.0 717.9 260.0 718.4 266.0 C718.9 272.0 719.2 275.7 719.6 278.0 C720.0 280.0 720.5 278.0 721.0 280.0 C721.5 285.0 721.9 296.7 722.4 308.0 C722.9 319.3 723.4 338.3 724.0 348.0 C724.6 357.7 725.3 362.7 726.0 366.0 C726.7 368.0 727.3 366.0 728.0 368.0 C728.7 370.0 729.3 375.2 730.0 378.0 C730.7 380.8 731.7 385.0 732.4 385.0 C733.1 382.0 733.6 367.5 734.0 360.0 C734.4 352.5 734.6 346.3 735.0 340.0 C735.4 333.7 736.0 322.0 736.5 322.0 C737.0 325.3 737.2 355.0 738.0 360.0 C738.8 360.0 740.0 355.7 741.0 352.0 C742.0 348.3 743.0 338.3 744.0 338.0 C745.0 338.0 746.0 345.3 747.0 350.0 C748.0 354.7 749.0 360.2 750.0 366.0 C751.0 371.8 752.2 384.7 753.0 385.0 C753.8 385.0 754.3 374.2 755.0 368.0 C755.7 361.8 756.3 354.0 757.0 348.0 C757.7 342.0 758.3 334.8 759.0 332.0 C759.7 331.0 760.4 331.0 761.0 331.0 C761.6 332.0 761.9 337.5 762.4 338.0 C762.9 338.0 763.4 334.0 764.0 334.0 C764.6 335.7 765.3 344.3 766.0 348.0 C766.7 351.7 767.3 354.0 768.0 356.0 C768.7 358.0 769.3 357.0 770.0 360.0 C770.7 363.0 771.7 369.8 772.4 374.0 C773.1 378.2 773.7 382.3 774.4 385.0 C775.1 387.7 775.8 390.0 776.4 390.0 C777.0 387.2 777.5 378.3 778.0 368.0 C778.5 357.7 779.3 342.3 779.6 328.0 C779.9 313.7 779.8 286.7 780.0 282.0 C780.2 282.0 780.3 293.7 781.0 300.0 C781.7 306.3 783.2 313.7 784.0 320.0 C784.8 326.3 785.3 331.7 786.0 338.0 C786.7 344.3 787.3 350.3 788.0 358.0 C788.7 365.7 789.3 378.7 790.0 384.0 C790.7 389.3 791.4 388.3 792.0 390.0 C792.6 391.7 793.1 394.0 793.6 394.0 C794.1 394.0 794.4 390.0 795.0 390.0 C795.6 390.0 796.4 394.0 797.0 394.0 C797.6 390.3 797.9 379.0 798.4 368.0 C798.9 357.0 799.6 343.0 800.0 328.0 C800.4 313.0 800.5 285.7 801.0 278.0 C801.5 278.0 802.3 278.0 803.0 282.0 C803.7 287.0 804.3 298.7 805.0 308.0 C805.7 317.3 806.5 330.7 807.0 338.0 C807.5 345.3 807.5 348.3 808.0 352.0 C808.5 355.7 809.3 358.0 810.0 360.0 C810.7 362.0 811.3 361.0 812.0 364.0 C812.7 367.0 813.3 374.2 814.0 378.0 C814.7 381.8 815.3 386.0 816.0 387.0 C816.7 387.0 817.5 387.0 818.0 384.0 C818.5 377.8 818.7 362.7 819.0 350.0 C819.3 337.3 819.5 327.3 820.0 308.0 C820.5 288.7 821.4 241.7 822.0 234.0 C822.6 234.0 823.1 258.0 823.6 262.0 C824.1 262.0 824.5 262.0 825.0 258.0 C825.5 253.2 825.9 233.0 826.4 233.0 C826.9 233.3 827.5 249.5 828.0 260.0 C828.5 270.5 829.1 289.3 829.6 296.0 C830.1 300.0 830.5 299.7 831.0 300.0 C831.5 300.0 832.0 298.0 832.4 298.0 C832.8 299.3 833.2 303.0 833.6 308.0 C834.0 313.0 834.4 322.7 835.0 328.0 C835.6 333.3 836.3 340.0 837.0 340.0 C837.7 340.0 838.5 333.3 839.0 328.0 C839.5 322.7 839.6 321.0 840.0 308.0 C840.4 295.0 841.1 269.5 841.5 250.0 C841.9 230.5 842.2 198.3 842.6 191.0 C843.0 191.0 843.5 198.8 844.0 206.0 C844.5 213.2 845.1 230.7 845.6 234.0 C846.1 234.0 846.8 226.0 847.2 226.0 C847.6 228.7 847.7 241.7 848.0 250.0 C848.3 258.3 848.6 266.3 849.0 276.0 C849.4 285.7 849.9 302.7 850.4 308.0 C850.9 308.0 851.2 308.0 852.0 308.0 C852.8 311.3 854.2 322.3 855.0 328.0 C855.8 333.7 856.4 338.7 857.0 342.0 C857.6 345.3 857.9 348.0 858.6 348.0 C859.3 347.3 860.3 344.7 861.0 338.0 C861.7 331.3 862.4 319.0 863.0 308.0 C863.6 297.0 863.9 278.3 864.4 272.0 C864.9 270.0 865.5 272.0 866.0 270.0 C866.5 267.8 867.1 259.0 867.6 259.0 C868.1 260.0 868.6 267.8 869.0 276.0 C869.4 284.2 869.5 300.0 870.0 308.0 C870.5 316.0 871.3 320.7 872.0 324.0 C872.7 327.3 873.7 325.7 874.4 328.0 C875.1 330.3 875.8 335.5 876.4 338.0 C877.0 340.5 877.4 343.0 878.0 343.0 C878.6 343.0 879.3 340.5 880.0 338.0 C880.7 335.5 881.3 331.3 882.0 328.0 C882.7 324.7 883.3 321.3 884.0 318.0 C884.7 314.7 885.3 311.7 886.0 308.0 C886.7 304.3 887.2 299.7 888.0 296.0 C888.8 292.3 890.2 288.0 891.0 286.0 C891.8 284.0 892.3 286.0 893.0 284.0 C893.7 282.0 894.3 274.0 895.0 274.0 C895.7 276.7 896.5 294.3 897.0 300.0 C897.5 305.7 897.5 304.7 898.0 308.0 C898.5 311.3 899.3 317.0 900.0 320.0 C900.7 323.0 901.3 326.0 902.0 326.0 C902.7 325.7 903.5 324.3 904.0 318.0 C904.5 311.7 904.5 291.0 905.0 288.0 C905.5 288.0 906.3 296.7 907.0 300.0 C907.7 303.3 908.3 305.7 909.0 308.0 C909.7 310.3 910.3 314.0 911.0 314.0 C911.7 314.0 912.2 308.0 913.0 308.0 C913.8 308.3 915.0 312.3 916.0 316.0 C917.0 319.7 918.0 326.3 919.0 330.0 C920.0 333.7 921.2 338.0 922.0 338.0 C922.8 337.7 923.3 333.0 924.0 328.0 C924.7 323.0 925.5 323.0 926.0 308.0 C926.5 293.0 926.6 246.0 927.0 238.0 C927.4 238.0 927.9 257.0 928.4 260.0 C928.9 260.0 929.5 257.8 930.0 256.0 C930.5 254.2 931.0 249.0 931.4 249.0 C931.8 250.7 932.0 258.2 932.4 266.0 C932.8 273.8 933.4 289.0 933.8 296.0 C934.2 303.0 934.5 306.0 935.0 308.0 C935.5 308.0 936.2 308.0 937.0 308.0 C937.8 311.3 939.1 324.0 940.0 328.0 C940.9 332.0 941.8 329.3 942.4 332.0 C943.0 334.7 943.2 344.0 943.6 344.0 C944.0 343.3 944.4 334.0 945.0 328.0 C945.6 322.0 946.3 314.7 947.0 308.0 C947.7 301.3 948.3 290.7 949.0 288.0 C949.7 288.0 950.2 292.0 951.0 292.0 C951.8 290.2 952.8 277.0 953.6 277.0 C954.4 277.7 955.0 292.8 955.6 296.0 C956.2 296.0 956.5 296.0 957.0 296.0 C957.5 290.3 958.1 262.0 958.4 262.0 C958.7 264.0 958.6 298.0 959.0 308.0 C959.4 318.0 960.3 319.3 961.0 322.0 C961.7 324.0 962.4 322.2 963.0 324.0 C963.6 325.8 964.1 333.0 964.6 333.0 C965.1 332.7 965.4 326.2 966.0 322.0 C966.6 317.8 967.6 322.0 968.0 308.0 C968.4 288.2 968.2 216.3 968.6 203.0 C969.0 203.0 969.8 227.5 970.4 228.0 C971.0 228.0 971.8 209.0 972.4 206.0 C973.0 206.0 973.5 206.0 974.0 210.0 C974.5 216.0 975.2 233.7 975.6 242.0 C976.0 250.3 976.1 250.3 976.5 260.0 C976.9 269.7 977.4 292.0 978.0 300.0 C978.6 308.0 979.4 305.0 980.0 308.0 C980.6 311.0 981.1 315.5 981.6 318.0 C982.1 320.5 982.3 321.5 983.0 323.0 C983.7 324.5 984.9 327.0 985.6 327.0 C986.3 325.8 986.5 319.2 987.0 316.0 C987.5 312.8 988.1 316.0 988.4 308.0 C988.7 291.3 988.7 235.3 989.0 216.0 C989.3 196.7 989.7 197.2 990.0 192.0 C990.3 186.8 990.6 185.0 991.0 185.0 C991.4 185.0 992.0 188.2 992.4 192.0 C992.8 195.8 993.3 204.8 993.6 208.0 C993.9 211.0 994.3 210.5 994.4 211.0" stroke="#f2a04e" stroke-width="1"/>
<path d="M42.0 84.3 C56.7 84.3 114.8 84.3 130.0 84.3 C133.0 84.3 132.2 84.3 133.0 84.3 C133.8 84.4 134.1 84.4 134.5 84.8 C134.9 85.2 135.2 84.8 135.5 86.5 C135.8 88.2 136.2 90.8 136.5 95.0 C136.8 99.2 137.0 95.0 137.2 112.0 C137.4 129.5 137.5 152.0 137.6 200.0 C137.7 248.0 137.8 365.0 137.9 400.0 C138.1 410.0 138.2 409.7 138.5 410.0 C138.8 410.0 139.6 406.2 140.0 402.0 C140.4 397.8 140.7 385.0 141.0 385.0 C141.3 385.0 141.3 399.2 142.0 402.0 C142.7 402.0 142.0 401.7 145.0 401.5 C151.3 401.3 170.8 401.2 180.0 401.0 C189.2 400.8 193.5 400.8 200.0 400.5 C206.5 400.2 215.5 400.4 219.0 399.5 C221.0 398.6 220.3 395.1 221.0 395.0 C221.7 395.0 221.0 398.3 223.0 399.0 C226.2 399.0 236.9 399.0 240.0 399.0 C241.5 398.8 241.2 399.0 241.5 398.0 C241.8 382.8 241.7 331.7 242.0 308.0 C242.3 284.3 243.2 265.7 243.6 256.0 C244.0 250.0 244.2 251.7 244.6 250.0 C245.0 248.3 245.3 248.0 246.0 246.0 C246.7 244.0 248.0 239.8 249.0 238.0 C250.0 236.2 251.2 235.7 252.0 235.0 C252.8 234.3 253.5 235.0 254.0 234.0 C254.5 232.5 254.7 230.7 255.0 226.0 C255.3 221.3 255.7 211.0 256.0 206.0 C256.3 201.0 256.4 199.2 256.6 196.0 C256.8 192.8 256.6 196.0 257.0 187.0 C257.4 177.7 258.3 154.5 259.0 140.0 C259.7 125.5 260.5 107.5 261.0 100.0 C261.5 95.0 261.5 96.0 262.0 95.0 C262.5 94.0 262.7 94.3 264.0 94.0 C265.3 93.7 268.0 93.4 270.0 93.4 C272.0 93.4 274.0 94.0 276.0 94.0 C278.0 93.6 280.0 91.6 282.0 91.0 C284.0 90.6 284.0 90.7 288.0 90.6 C292.0 90.6 302.5 90.6 306.0 90.6 C309.0 90.8 307.0 91.6 309.0 92.0 C311.0 92.4 315.2 93.0 318.0 93.0 C320.8 93.0 322.0 92.3 326.0 92.0 C330.0 91.7 339.0 92.0 342.0 91.0 C344.0 89.8 342.0 86.1 344.0 85.0 C358.7 84.4 406.0 84.5 430.0 84.4 C454.0 84.4 478.0 84.4 488.0 84.4 C490.0 84.6 489.2 84.7 490.0 85.5 C490.8 86.3 492.0 89.0 493.0 89.0 C494.0 88.9 493.8 85.7 496.0 85.0 C498.2 85.0 504.2 85.0 506.0 85.0 C506.6 104.2 506.4 144.3 506.6 200.0 C506.8 255.7 506.6 382.5 507.0 419.0 C507.5 419.0 508.9 419.0 509.5 419.0 C510.1 382.5 510.1 254.8 510.4 200.0 C510.6 145.2 510.7 108.8 511.0 90.0 C511.3 87.0 511.0 87.6 512.0 87.0 C513.5 86.6 516.7 86.9 520.0 86.6 C523.3 86.3 525.3 85.3 532.0 85.0 C538.7 84.7 545.3 84.5 560.0 84.5 C574.7 84.6 606.7 85.4 620.0 85.5 C633.3 85.5 626.7 85.2 640.0 85.0 C653.3 84.8 681.0 84.5 700.0 84.4 C719.0 84.4 744.8 84.4 754.0 84.4 C755.0 84.7 754.7 86.0 755.0 86.0 C755.3 86.0 755.0 84.7 756.0 84.4 C772.7 84.4 838.0 84.4 855.0 84.4 C858.0 84.6 856.3 85.6 858.0 85.6 C859.7 85.6 861.3 84.5 865.0 84.5 C868.7 84.5 874.2 85.6 880.0 85.6 C885.8 85.5 894.7 84.3 900.0 84.0 C905.3 83.7 905.3 83.6 912.0 83.6 C918.7 83.8 926.3 85.1 940.0 85.2 C953.7 85.2 985.3 84.2 994.4 84.0" stroke="#4cae4c" stroke-width="1.05"/>
<path d="M42.0 107.0 C42.2 106.2 42.5 103.3 43.0 102.0 C43.5 100.7 43.8 99.3 45.0 99.0 C46.2 99.0 48.3 99.9 50.0 100.0 C51.7 100.0 53.3 99.5 55.0 99.5 C56.7 99.6 58.3 100.5 60.0 100.5 C61.7 100.5 63.3 99.5 65.0 99.5 C66.7 99.6 68.3 100.9 70.0 101.0 C71.7 101.0 73.3 100.1 75.0 100.0 C76.7 100.0 78.3 100.5 80.0 100.5 C81.7 100.4 83.3 99.5 85.0 99.5 C86.7 99.6 88.3 100.9 90.0 101.0 C91.7 101.0 93.3 100.2 95.0 100.0 C96.7 99.8 98.3 99.5 100.0 99.5 C101.7 99.6 103.3 100.4 105.0 100.5 C106.7 100.5 108.3 100.1 110.0 100.0 C111.7 100.0 113.7 100.0 115.0 100.0 C116.3 100.2 117.2 100.4 118.0 101.0 C118.8 101.6 119.2 103.6 120.0 103.6 C120.8 103.6 121.7 101.7 123.0 101.0 C124.3 100.3 126.7 99.6 128.0 99.6 C129.3 99.6 130.2 100.8 131.0 101.0 C131.8 101.0 132.1 101.0 132.5 101.0 C132.9 101.8 133.2 104.3 133.5 106.0 C133.8 107.7 134.0 111.0 134.2 111.0 C134.4 110.7 134.6 104.8 134.8 104.0 C135.0 104.0 135.3 104.0 135.5 106.0 C135.7 109.5 135.9 117.7 136.2 125.0 C136.4 132.3 136.8 129.2 137.0 150.0 C137.2 170.8 137.4 208.3 137.6 250.0 C137.8 291.7 138.0 372.5 138.2 400.0 C138.4 414.8 138.7 412.8 139.0 414.8 C139.3 414.8 139.7 412.0 140.0 412.0 C140.3 412.0 140.0 414.3 141.0 414.8 C154.5 414.8 207.5 414.8 221.0 414.8 C222.0 414.7 221.7 414.0 222.0 414.0 C222.3 414.0 222.0 414.5 223.0 414.6 C226.0 414.6 236.8 414.6 240.0 414.6 C242.0 414.5 241.5 414.6 242.0 413.8 C242.5 413.0 242.7 413.8 243.0 410.0 C243.3 392.4 243.5 326.3 244.0 308.0 C244.5 300.0 245.3 303.0 246.0 300.0 C246.7 297.0 247.3 292.3 248.0 290.0 C248.7 287.7 249.3 286.7 250.0 286.0 C250.7 286.0 251.4 286.0 252.0 286.0 C252.6 286.3 253.1 288.0 253.6 288.0 C254.1 287.7 254.5 287.7 255.0 284.0 C255.5 280.3 255.9 274.0 256.4 266.0 C256.9 258.0 257.5 244.3 258.0 236.0 C258.5 227.7 259.2 222.7 259.6 216.0 C260.0 209.3 260.2 200.8 260.4 196.0 C260.6 191.2 260.6 193.2 261.0 187.0 C261.4 180.8 262.4 165.0 263.0 159.0 C263.6 153.0 263.9 152.0 264.4 151.0 C264.9 151.0 265.4 153.0 266.0 153.0 C266.6 149.0 267.2 132.8 268.0 127.0 C268.8 121.2 270.2 119.0 271.0 118.0 C271.8 118.0 272.0 118.3 273.0 121.0 C274.0 123.7 275.8 131.7 277.0 134.0 C278.2 135.0 279.1 135.0 280.0 135.0 C280.9 133.2 281.6 123.5 282.4 123.0 C283.2 123.0 284.2 131.2 285.0 132.0 C285.8 132.0 286.2 130.8 287.0 128.0 C287.8 125.2 289.0 118.1 290.0 115.0 C291.0 111.9 292.2 109.7 293.0 109.4 C293.8 109.4 294.2 109.7 295.0 113.0 C295.8 116.3 297.2 127.5 298.0 129.0 C298.8 129.0 299.1 122.0 299.6 122.0 C300.1 122.3 300.3 130.0 301.0 131.0 C301.7 131.0 303.2 128.5 303.6 128.0 M353.0 84.0 C353.2 85.0 353.2 88.2 354.0 90.0 C354.8 91.8 356.7 93.8 358.0 95.0 C359.3 96.2 360.5 96.2 362.0 97.0 C363.5 97.8 365.7 97.5 367.0 100.0 C368.3 102.5 369.0 112.0 370.0 112.0 C371.0 111.2 371.8 98.5 373.0 95.0 C374.2 91.5 375.8 91.0 377.0 91.0 C378.2 91.0 378.8 93.8 380.0 95.0 C381.2 96.2 382.7 97.7 384.0 98.0 C385.3 98.0 386.7 97.0 388.0 97.0 C389.3 98.8 390.6 109.0 391.6 109.0 C392.6 108.7 392.9 98.2 394.0 95.0 C395.1 91.8 396.7 90.2 398.0 90.0 C399.3 90.0 400.5 91.5 402.0 94.0 C403.5 96.5 405.7 103.8 407.0 105.0 C408.3 105.0 409.0 101.7 410.0 101.0 C411.0 101.0 412.0 101.0 413.0 101.0 C414.0 99.0 415.0 91.4 416.0 89.0 C417.0 86.6 418.3 86.9 419.0 86.6 C419.7 86.6 419.3 86.6 420.0 87.0 C420.7 88.2 422.0 93.0 423.0 94.0 C424.0 94.0 425.0 93.0 426.0 93.0 C427.0 93.2 428.2 95.0 429.0 95.0 C429.8 94.8 430.3 92.0 431.0 92.0 C431.7 92.0 432.0 95.0 433.0 95.0 C434.0 94.2 435.8 88.2 437.0 87.0 C438.2 87.0 438.2 87.8 440.0 88.0 C441.8 88.0 446.3 88.0 448.0 88.0 C449.7 88.3 449.0 89.5 450.0 90.0 C451.0 90.5 452.8 91.0 454.0 91.0 C455.2 90.7 456.0 88.8 457.0 88.0 C458.0 87.2 458.5 86.0 460.0 86.0 C461.5 86.0 464.0 87.7 466.0 88.0 C468.0 88.0 470.3 88.0 472.0 88.0 C473.7 88.0 474.7 88.0 476.0 88.0 C477.3 87.7 478.0 86.2 480.0 86.0 C482.0 86.0 486.3 86.0 488.0 86.6 C489.7 87.9 489.2 91.9 490.0 94.0 C490.8 96.1 491.9 96.2 493.0 99.0 C494.1 101.8 495.6 111.0 496.4 111.0 C497.2 111.0 497.2 102.2 498.0 99.0 C498.8 95.8 500.0 93.2 501.0 92.0 C502.0 92.0 503.2 92.0 504.0 92.0 C504.8 92.5 505.5 92.0 506.0 95.0 C506.5 113.0 506.8 146.5 507.0 200.0 C507.2 253.5 507.0 380.0 507.5 416.0 C508.1 416.0 509.9 416.0 510.5 416.0 C511.0 380.0 510.7 253.3 511.0 200.0 C511.3 146.7 511.7 113.7 512.4 96.0 C513.1 94.0 514.2 94.0 515.0 94.0 C515.8 94.2 516.4 94.0 517.0 97.0 C517.6 100.2 517.9 113.0 518.4 113.0 C518.9 112.5 519.6 96.2 520.0 94.0 C520.4 94.0 520.6 100.0 521.0 100.0 C521.4 99.7 521.6 93.6 522.4 92.0 C523.2 90.6 524.4 91.1 526.0 90.6 C527.6 90.1 530.2 89.0 532.0 89.0 C533.8 89.1 535.7 91.0 537.0 91.0 C538.3 91.0 538.2 89.6 540.0 89.0 C541.8 88.4 545.3 87.7 548.0 87.4 C550.7 87.4 554.4 87.4 556.0 87.4 C557.6 89.5 557.1 100.0 557.6 100.0 C558.1 100.0 557.6 89.6 559.0 87.4 C561.1 86.6 566.5 86.6 570.0 86.6 C573.5 86.7 577.3 87.5 580.0 88.0 C582.7 88.5 584.3 89.4 586.0 89.4 C587.7 89.2 587.7 87.2 590.0 87.0 C592.3 87.0 596.7 88.4 600.0 88.4 C603.3 88.3 606.7 86.8 610.0 86.6 C613.3 86.6 618.0 86.8 620.0 87.0 C622.0 87.2 620.0 88.0 622.0 88.0 C625.3 88.0 633.3 87.0 640.0 87.0 C646.7 87.1 656.0 88.4 662.0 88.4 C668.0 88.2 671.3 85.7 676.0 85.6 C680.7 85.6 686.3 87.5 690.0 88.0 C693.7 88.4 692.7 88.4 698.0 88.4 C703.3 88.2 716.7 87.1 722.0 87.0 C727.3 87.0 727.0 88.0 730.0 88.0 C733.0 88.0 736.0 87.0 740.0 87.0 C744.0 87.3 750.0 89.7 754.0 90.0 C758.0 90.0 759.7 89.3 764.0 89.0 C768.3 88.7 775.7 88.0 780.0 88.0 C784.3 88.0 786.0 89.0 790.0 89.0 C794.0 88.7 800.7 86.6 804.0 86.4 C807.3 86.4 808.7 87.2 810.0 87.6 C811.3 88.0 810.0 88.7 812.0 89.0 C815.3 89.3 824.3 89.6 830.0 89.6 C835.7 89.3 842.0 87.1 846.0 87.0 C850.0 87.0 852.5 87.3 854.0 89.0 C855.0 90.7 854.5 97.0 855.0 97.0 C855.5 97.0 855.5 90.6 857.0 89.0 C858.5 87.6 861.2 87.7 864.0 87.6 C866.8 87.6 871.3 87.8 874.0 88.4 C876.7 89.0 875.7 90.7 880.0 91.0 C884.3 91.0 895.1 90.4 900.0 90.0 C904.9 89.6 907.7 88.4 909.6 88.4 C911.5 90.6 911.0 103.0 911.6 103.0 C912.2 102.5 911.6 88.2 913.0 85.6 C914.4 85.6 917.5 87.6 920.0 87.6 C922.5 87.6 924.7 85.6 928.0 85.6 C931.3 85.7 936.7 88.0 940.0 88.0 C943.3 87.9 946.5 85.0 948.0 85.0 C949.0 85.3 948.0 89.4 949.0 89.6 C950.3 89.6 952.5 87.2 956.0 86.4 C959.5 85.6 966.3 85.0 970.0 85.0 C973.7 85.2 975.7 87.6 978.0 87.6 C980.3 87.5 981.7 84.6 984.0 84.4 C986.3 84.4 990.3 86.4 992.0 86.4 C993.7 86.3 994.0 84.1 994.4 83.6" stroke="#3a87c6" stroke-width="1"/>
</g>
<g font-size="12" fill="#333" text-anchor="end"><text x="37" y="424.1">0%</text><text x="37" y="390.1">10%</text><text x="37" y="357.1">20%</text><text x="37" y="323.1">30%</text><text x="37" y="290.1">40%</text><text x="37" y="256.1">50%</text><text x="37" y="223.1">60%</text><text x="37" y="189.1">70%</text><text x="37" y="156.1">80%</text><text x="37" y="122.1">90%</text><text x="37" y="89.1">100%</text></g>
<line x1="42" x2="995" y1="419.5" y2="419.5" stroke="#333" stroke-width="1"/>
<line x1="62.5" x2="62.5" y1="419" y2="429" stroke="#333" stroke-width="1"/><text x="62.5" y="443.6" text-anchor="middle" font-size="10" fill="#222" stroke="#222" stroke-width="0.05">Jul 15</text><line x1="209.5" x2="209.5" y1="419" y2="429" stroke="#333" stroke-width="1"/><text x="209.5" y="443.6" text-anchor="middle" font-size="10" fill="#222" stroke="#222" stroke-width="0.05">Jul 22</text><line x1="356.5" x2="356.5" y1="419" y2="429" stroke="#333" stroke-width="1"/><text x="356.5" y="443.6" text-anchor="middle" font-size="10" fill="#222" stroke="#222" stroke-width="0.05">Jul 29</text><line x1="503.5" x2="503.5" y1="419" y2="429" stroke="#333" stroke-width="1"/><text x="503.5" y="443.6" text-anchor="middle" font-size="10" fill="#222" stroke="#222" stroke-width="0.05">Aug 5</text><line x1="650.5" x2="650.5" y1="419" y2="429" stroke="#333" stroke-width="1"/><text x="650.5" y="443.6" text-anchor="middle" font-size="10" fill="#222" stroke="#222" stroke-width="0.05">Aug 12</text><line x1="797.5" x2="797.5" y1="419" y2="429" stroke="#333" stroke-width="1"/><text x="797.5" y="443.6" text-anchor="middle" font-size="10" fill="#222" stroke="#222" stroke-width="0.05">Aug 19</text><line x1="944.5" x2="944.5" y1="419" y2="429" stroke="#333" stroke-width="1"/><text x="944.5" y="443.6" text-anchor="middle" font-size="10" fill="#222" stroke="#222" stroke-width="0.05">Aug 26</text>
<text x="518.2" y="463" text-anchor="middle" font-size="11.9" fill="#666">Time (UTC)</text>
<polygon points="822.06,19.50 835.70,12.00 849.34,19.50 849.34,34.50 842.97,31.00 842.97,23.00 835.70,19.00 828.43,23.00" fill="#f4a012"/>
<polygon points="849.34,34.50 835.70,42.00 822.06,34.50 822.06,19.50 828.43,23.00 828.43,31.00 835.70,35.00 842.97,31.00" fill="#de7a0c"/>
<line x1="821.06" y1="19.30" x2="829.23" y2="22.40" stroke="#fff" stroke-width="1.9"/>
<line x1="850.34" y1="34.70" x2="842.17" y2="31.60" stroke="#fff" stroke-width="1.9"/>
<text x="858.1" y="36" font-size="23.4" font-weight="bold" fill="#2d3a4b" textLength="57" lengthAdjust="spacingAndGlyphs">IODA</text>
<line x1="921.5" x2="921.5" y1="15" y2="39.7" stroke="#8a8f96" stroke-width="1"/>
<g fill="#2e3a4b"><ellipse cx="936.0" cy="26.3" rx="6.0" ry="4.8" fill="none" stroke="#2e3a4b" stroke-width="3.0"/><rect x="940.2" y="22.9" width="4.4" height="2.1" fill="#fff"/><rect x="941.0" y="20.1" width="2.6" height="3.4"/><rect x="938.7" y="25" width="14.1" height="3.3"/><rect x="950.9" y="25" width="1.9" height="4.4"/><rect x="944.1" y="28" width="3.6" height="6.6"/><rect x="943.3" y="32.7" width="5.8" height="1.9"/></g>
<g font-size="10" fill="#2e3a4b" stroke="#2e3a4b" stroke-width="0.12"><text class="serif" x="956" y="27.1">Georgia</text><text class="serif" x="958.4" y="34.8">Tech</text></g>
<rect x="42.7" y="474.5" width="952.3" height="40.0" fill="#fff"/>
<g stroke="none">
<path d="M42.7 514.5 L42.7 478.8 L477.6 478.8 L477.6 514.5 Z M478.1 514.5 L478.1 478.6 L522.4 478.6 L523.9 478.6 L524.7 478.7 L525.2 478.8 L525.7 479.7 L526.1 481.6 L526.3 491.0 L526.4 512.4 L526.7 513.5 L527.5 512.6 L528.0 510.8 L528.5 512.6 L530.0 512.6 L547.6 512.5 L557.7 512.5 L567.3 512.4 L568.3 511.9 L569.3 512.3 L577.9 512.3 L578.6 512.2 L578.9 502.6 L579.7 497.0 L580.2 496.4 L580.9 495.9 L582.4 495.1 L583.9 494.7 L584.9 494.6 L585.4 493.8 L585.9 491.6 L586.2 490.6 L586.4 489.6 L587.5 484.6 L588.5 480.3 L589.0 479.7 L590.0 479.6 L593.0 479.6 L596.0 479.6 L599.0 479.3 L602.1 479.3 L611.1 479.3 L612.7 479.4 L617.2 479.5 L621.2 479.4 L629.3 479.3 L630.3 478.7 L673.7 478.6 L702.9 478.6 L703.9 478.7 L705.4 479.1 L706.9 478.7 L712.0 478.7 L712.3 491.0 L712.5 514.5 L713.7 514.5 L714.2 491.0 L714.5 479.2 L715.0 478.9 L719.0 478.8 L725.1 478.7 L739.2 478.6 L769.4 478.7 L779.5 478.7 L809.8 478.6 L837.0 478.6 L837.5 478.8 L838.0 478.6 L887.9 478.6 L889.4 478.7 L892.9 478.6 L900.5 478.7 L910.6 478.6 L916.6 478.5 L930.7 478.7 L958.2 478.6 L958.2 514.5 Z M958.8 514.5 L958.8 478.5 L994.8 478.5 L994.8 514.5 Z" fill="rgba(76,174,76,0.05)"/>
<path d="M42.7 514.5 L42.7 480.1 L120.0 480.1 L121.0 480.8 L122.0 480.1 L396.0 480.1 L397.6 481.8 L399.0 480.1 L421.0 480.3 L422.0 481.3 L423.0 480.3 L451.0 480.3 L452.0 481.3 L453.0 480.3 L462.0 480.3 L463.0 481.1 L464.0 480.3 L477.6 480.1 L477.6 514.5 Z M478.1 514.5 L478.1 481.0 L478.6 480.5 L479.6 480.2 L482.1 480.3 L484.6 480.2 L487.1 480.3 L489.7 480.2 L492.2 480.4 L494.7 480.3 L497.2 480.3 L499.7 480.2 L502.3 480.4 L504.8 480.3 L507.3 480.2 L509.8 480.3 L512.3 480.3 L514.9 480.3 L516.4 480.4 L517.4 480.7 L518.9 480.4 L521.4 480.2 L522.9 480.4 L523.7 480.4 L524.2 480.9 L524.5 481.5 L524.8 480.7 L525.2 480.9 L525.6 483.0 L526.0 485.6 L526.3 496.4 L526.6 512.4 L527.0 514.0 L527.5 513.7 L528.0 514.0 L568.3 514.0 L568.8 513.9 L569.3 514.0 L577.9 514.0 L578.9 513.9 L579.4 513.5 L579.9 502.6 L580.9 501.7 L581.9 500.6 L582.9 500.2 L583.9 500.2 L584.7 500.4 L585.4 500.0 L586.1 498.1 L587.0 494.9 L587.8 492.7 L588.2 490.6 L588.5 489.6 L589.5 486.6 L590.2 485.7 L591.0 486.0 L592.0 483.2 L593.5 482.2 L594.5 482.5 L596.5 483.9 L598.0 484.0 L599.3 482.7 L600.6 483.7 L601.6 483.3 L603.1 481.9 L604.6 481.3 L605.6 481.7 L607.1 483.4 L607.9 482.6 L608.6 483.6 L609.9 483.3 L609.9 514.5 Z M634.8 514.5 L634.8 478.6 L635.3 479.2 L637.4 479.7 L639.4 480.0 L641.9 480.3 L643.4 481.6 L644.9 479.7 L646.9 479.3 L648.5 479.7 L650.5 480.1 L652.5 480.0 L654.3 481.2 L655.5 479.7 L657.5 479.2 L659.5 479.6 L662.1 480.8 L663.6 480.4 L665.1 480.4 L666.6 479.1 L668.1 478.8 L668.6 478.9 L670.1 479.6 L671.6 479.5 L673.2 479.7 L674.2 479.4 L675.2 479.7 L677.2 478.9 L678.7 479.0 L682.7 479.0 L683.7 479.2 L685.8 479.3 L687.3 479.0 L688.8 478.8 L691.8 479.0 L694.8 479.0 L696.8 479.0 L698.9 478.8 L702.9 478.8 L703.9 479.6 L705.4 480.2 L707.1 481.5 L707.9 480.2 L709.4 479.4 L711.0 479.4 L712.0 479.7 L712.5 491.0 L712.7 514.1 L714.2 514.1 L714.5 491.0 L715.2 479.9 L716.5 479.6 L717.5 480.0 L718.2 481.7 L719.0 479.6 L719.5 480.3 L720.2 479.4 L722.0 479.3 L725.1 479.1 L727.6 479.3 L729.1 479.1 L733.1 478.9 L737.2 478.9 L738.0 480.3 L738.7 478.9 L744.2 478.8 L749.3 479.0 L752.3 479.1 L754.3 478.9 L759.4 479.0 L764.4 478.8 L769.4 478.9 L770.4 479.0 L779.5 478.9 L790.6 479.0 L797.7 478.7 L804.7 479.0 L808.8 479.0 L820.9 478.9 L824.9 479.0 L829.9 478.9 L837.0 479.2 L842.0 479.1 L850.1 479.0 L855.1 479.1 L862.2 478.8 L865.2 479.0 L866.2 479.1 L875.3 479.2 L883.4 478.9 L887.4 479.1 L887.9 480.0 L888.9 479.1 L892.4 479.0 L897.5 479.0 L900.5 479.3 L910.6 479.2 L915.4 479.0 L916.4 480.6 L917.1 478.7 L920.7 479.0 L924.7 478.7 L930.7 479.0 L934.8 478.7 L935.3 479.2 L938.8 478.8 L945.9 478.7 L949.9 479.0 L952.9 478.6 L957.0 478.8 L958.2 478.5 L958.2 514.5 Z M958.8 514.5 L958.8 479.3 L994.8 479.3 L994.8 514.5 Z" fill="rgba(58,135,198,0.06)"/>
<path d="M42.7 514.5 L42.7 510.5 L44.5 506.5 L46.4 499.3 L48.3 500.8 L51.3 501.5 L52.8 509.8 L53.9 510.1 L55.8 503.0 L57.3 500.4 L59.1 501.5 L61.0 501.5 L62.1 501.1 L64.0 510.1 L65.9 502.3 L67.8 499.3 L69.6 501.1 L72.3 501.5 L74.5 510.1 L76.8 503.0 L78.3 499.3 L80.5 501.5 L83.1 500.0 L85.4 508.6 L88.0 501.5 L91.0 501.9 L94.0 500.8 L95.9 508.3 L97.8 500.8 L99.4 492.9 L101.5 498.9 L104.5 498.1 L106.4 508.6 L108.3 503.0 L110.0 496.0 L112.8 497.5 L115.6 496.7 L117.0 508.6 L120.5 501.0 L122.6 501.5 L125.4 494.0 L127.5 509.3 L129.6 501.6 L132.4 499.5 L135.2 501.6 L138.0 510.0 L141.5 498.8 L144.3 501.5 L147.1 499.5 L149.2 508.6 L152.0 500.2 L154.8 500.2 L157.6 494.0 L159.7 508.6 L162.5 501.0 L165.3 501.6 L168.1 501.0 L170.2 508.0 L173.7 498.8 L176.5 501.6 L179.3 501.0 L181.4 508.6 L184.2 499.5 L187.0 501.6 L189.1 500.2 L191.2 508.0 L192.9 494.6 L195.4 503.7 L198.2 504.4 L201.7 510.7 L205.2 501.0 L208.0 503.0 L210.8 503.0 L213.0 510.0 L216.4 501.0 L219.2 501.6 L221.3 510.0 L226.2 499.5 L229.0 500.2 L231.1 499.5 L233.2 509.3 L236.0 494.6 L238.8 496.0 L241.6 501.0 L243.7 508.6 L245.0 506.9 L247.6 497.6 L250.0 499.0 L252.7 493.7 L254.8 508.6 L258.2 494.6 L260.7 498.4 L263.3 499.3 L265.4 508.6 L268.8 495.9 L271.4 500.1 L273.9 496.7 L275.6 508.6 L277.3 496.7 L279.0 487.4 L280.7 495.0 L282.8 501.8 L284.5 501.8 L286.5 509.9 L288.4 501.0 L290.5 497.1 L293.0 500.5 L296.9 509.5 L300.7 497.6 L303.7 500.5 L305.8 497.6 L307.9 508.2 L311.3 499.3 L315.2 500.5 L318.1 509.0 L321.5 495.4 L324.1 497.6 L326.7 497.6 L328.8 508.6 L331.8 495.4 L334.4 497.6 L336.9 499.7 L339.9 509.5 L342.9 497.1 L345.4 499.3 L348.0 499.3 L350.1 509.0 L353.9 497.1 L357.7 499.3 L360.7 509.5 L363.7 495.4 L366.7 499.3 L369.2 500.5 L371.3 509.5 L374.7 498.0 L378.1 500.1 L381.5 508.2 L385.4 496.3 L388.3 499.3 L390.5 496.3 L392.6 507.3 L396.0 495.4 L398.0 498.4 L400.3 498.4 L402.8 508.2 L405.8 494.6 L408.0 495.0 L410.0 498.4 L412.0 504.0 L413.5 509.5 L415.5 500.0 L417.5 498.0 L420.0 500.0 L421.5 501.0 L423.5 508.0 L424.5 509.5 L426.0 501.0 L428.0 498.5 L430.0 500.0 L432.0 501.0 L434.0 508.5 L436.0 499.0 L438.0 497.5 L440.0 500.0 L442.0 502.0 L444.0 503.0 L445.5 509.0 L447.5 500.0 L449.0 497.5 L451.0 500.0 L453.0 502.0 L454.5 508.5 L456.0 501.0 L458.0 500.0 L460.0 501.0 L462.5 500.0 L465.0 503.0 L466.5 509.0 L468.0 502.0 L470.0 497.5 L472.0 499.0 L474.5 503.0 L476.0 509.0 L477.6 505.0 L477.6 514.5 Z M478.1 514.5 L478.1 509.4 L478.6 504.9 L479.3 497.6 L480.3 495.1 L481.1 496.8 L481.8 497.0 L482.6 499.0 L483.6 500.9 L484.4 498.3 L484.9 497.3 L485.6 498.3 L486.3 499.8 L487.1 506.0 L487.6 508.8 L488.1 504.9 L488.7 496.4 L489.1 485.9 L489.4 485.2 L490.0 478.7 L490.4 485.6 L490.7 490.6 L491.2 498.1 L491.9 498.7 L492.7 499.1 L493.7 501.3 L494.2 503.0 L494.7 501.7 L495.2 500.9 L495.7 500.1 L496.4 502.6 L497.2 508.1 L498.4 511.3 L499.5 507.1 L500.2 500.6 L501.3 497.9 L502.0 499.0 L502.8 500.0 L503.5 500.2 L504.0 501.7 L504.5 504.2 L505.0 502.8 L505.8 500.9 L506.5 500.9 L507.3 503.9 L508.3 509.2 L509.1 511.1 L510.1 507.1 L511.1 501.2 L512.1 498.5 L513.2 500.9 L513.9 501.1 L514.6 502.8 L515.4 504.2 L516.1 502.3 L516.9 501.5 L517.6 504.9 L518.6 509.8 L519.9 511.8 L520.9 508.1 L521.7 503.9 L522.4 502.8 L523.2 503.0 L523.9 503.6 L524.4 504.3 L525.2 505.8 L525.7 506.9 L526.2 511.9 L526.7 514.3 L527.5 514.4 L528.0 513.8 L528.5 514.4 L537.5 514.4 L557.7 514.4 L578.4 514.4 L579.4 512.4 L580.1 512.2 L580.9 513.3 L581.9 513.7 L582.9 513.9 L584.4 513.1 L585.9 511.1 L587.0 510.8 L588.0 510.7 L588.5 504.7 L589.0 503.2 L590.0 501.7 L591.0 501.0 L592.0 502.1 L592.5 507.9 L593.8 510.8 L595.0 507.9 L596.0 503.6 L596.8 500.0 L597.5 501.5 L598.5 502.3 L599.3 504.7 L599.9 505.8 L600.3 504.5 L601.1 503.4 L601.9 503.2 L602.6 504.7 L603.6 509.0 L604.6 511.3 L605.6 509.0 L606.6 504.7 L607.1 502.3 L607.6 503.6 L608.1 504.9 L608.6 502.3 L609.4 504.1 L610.3 505.8 L611.1 503.6 L612.2 503.4 L613.2 505.1 L614.2 509.6 L615.0 511.6 L616.0 509.0 L617.2 504.7 L618.0 501.1 L619.0 502.1 L619.7 502.4 L620.2 504.7 L621.0 505.0 L621.7 503.2 L622.7 503.2 L623.7 504.7 L624.5 509.0 L625.5 511.7 L626.5 509.0 L627.3 504.7 L628.3 500.5 L629.3 501.3 L629.8 501.7 L630.5 497.0 L631.3 499.8 L631.8 500.6 L632.3 498.1 L633.3 495.6 L634.3 498.7 L634.8 502.8 L635.3 506.9 L636.2 510.8 L637.2 507.9 L637.9 502.6 L638.4 495.9 L639.1 494.0 L639.9 496.1 L640.6 496.4 L641.4 497.9 L642.2 500.4 L642.9 499.1 L643.9 498.0 L644.6 499.6 L645.2 502.8 L645.7 506.9 L646.6 510.8 L647.4 507.9 L648.5 502.6 L649.5 495.8 L650.3 496.6 L651.0 498.1 L652.0 501.7 L652.7 502.9 L653.5 499.8 L654.5 498.4 L655.5 500.6 L656.3 502.8 L656.8 506.9 L657.3 510.9 L658.0 506.9 L659.0 502.6 L660.0 497.3 L661.1 498.7 L661.6 499.8 L662.3 498.9 L663.1 502.8 L663.6 500.9 L665.1 498.4 L666.1 500.6 L666.6 502.8 L667.1 506.9 L667.9 510.8 L668.6 509.6 L669.1 504.9 L669.6 497.6 L670.6 496.8 L671.4 498.5 L672.1 499.6 L672.9 499.8 L673.9 502.3 L674.2 503.1 L674.7 501.3 L675.7 500.0 L676.4 501.7 L676.9 503.9 L677.5 506.9 L678.4 510.8 L679.2 507.9 L680.2 502.6 L681.2 498.6 L681.9 501.7 L682.7 499.9 L683.7 502.3 L684.4 502.9 L684.9 500.4 L686.3 499.7 L687.3 502.8 L688.0 506.9 L689.1 510.7 L690.0 507.1 L691.0 502.6 L692.0 497.4 L692.8 498.7 L693.3 499.1 L694.3 500.4 L695.0 502.3 L695.8 500.6 L697.0 499.1 L697.9 501.7 L698.6 506.0 L699.7 510.6 L700.6 507.1 L701.4 502.6 L702.4 497.5 L703.1 498.3 L703.9 502.6 L704.7 504.7 L705.4 505.8 L706.1 504.2 L707.4 504.2 L708.1 504.9 L708.9 509.0 L710.2 511.8 L711.2 509.6 L712.2 505.8 L712.7 504.7 L713.1 513.9 L713.7 514.4 L714.1 504.9 L714.5 502.5 L715.2 503.6 L716.0 505.8 L716.8 503.9 L717.5 502.3 L718.0 501.7 L718.5 502.4 L719.0 503.9 L719.8 506.9 L720.8 510.8 L721.8 506.9 L722.6 502.6 L723.6 499.5 L724.6 501.3 L725.3 501.1 L725.8 503.9 L726.9 504.9 L727.6 503.3 L728.8 501.3 L729.4 503.3 L730.1 506.9 L731.3 511.1 L732.3 506.9 L733.1 502.6 L734.3 498.8 L735.2 500.6 L736.0 500.2 L736.7 502.8 L737.5 504.6 L738.2 502.6 L739.4 500.4 L739.9 502.8 L740.7 506.9 L741.9 511.0 L742.9 506.9 L743.7 502.6 L744.9 499.0 L745.7 500.6 L746.4 500.3 L747.3 502.3 L747.8 503.5 L748.3 501.5 L750.0 499.8 L750.5 502.6 L751.3 506.9 L752.5 510.5 L753.5 506.9 L754.3 502.6 L755.5 498.3 L756.1 501.7 L757.1 498.2 L758.1 501.7 L758.6 504.2 L759.4 501.7 L760.6 500.1 L761.1 502.8 L761.9 506.9 L763.2 510.9 L764.2 506.9 L765.2 501.7 L766.2 495.7 L767.2 497.0 L767.9 496.9 L768.4 498.1 L769.2 501.7 L769.9 500.2 L770.9 499.0 L771.7 500.2 L772.3 502.6 L773.0 506.9 L773.7 511.0 L774.5 506.9 L775.3 502.6 L776.8 496.8 L777.7 498.5 L778.3 498.2 L779.0 499.8 L779.7 501.7 L780.5 499.8 L781.5 499.0 L782.3 502.6 L783.3 506.9 L784.3 510.9 L785.1 506.9 L785.9 502.6 L787.1 498.6 L788.1 500.2 L789.1 500.0 L789.8 501.7 L790.3 503.3 L790.9 501.7 L792.1 500.2 L792.9 502.6 L793.8 506.9 L794.8 510.9 L795.6 506.9 L796.5 502.6 L797.9 498.3 L798.7 500.2 L799.5 500.2 L800.5 502.1 L800.9 503.5 L801.5 501.7 L802.7 500.6 L803.5 502.6 L804.5 506.9 L805.5 511.3 L806.4 506.9 L807.2 502.6 L808.2 498.5 L809.0 499.8 L809.8 500.4 L810.6 502.6 L811.4 503.6 L812.1 501.7 L813.3 500.4 L814.1 502.6 L815.0 506.9 L816.0 511.0 L817.0 506.9 L817.8 502.6 L819.0 497.3 L819.8 499.1 L820.3 499.6 L821.4 501.3 L822.1 503.6 L822.9 502.6 L824.1 501.1 L824.9 502.6 L825.7 506.9 L826.6 511.0 L827.6 506.9 L828.4 502.6 L829.6 499.4 L830.1 501.7 L830.9 500.3 L831.7 502.6 L832.4 503.4 L832.9 502.1 L834.5 500.2 L835.3 502.6 L836.2 506.9 L837.2 511.0 L838.2 506.9 L839.0 502.6 L840.2 497.2 L841.0 498.5 L841.7 498.8 L842.5 500.4 L843.5 501.7 L844.2 499.8 L845.0 498.7 L846.1 502.6 L846.9 506.9 L847.9 511.1 L848.8 506.9 L849.6 502.6 L850.8 496.5 L851.6 498.3 L852.6 498.4 L853.6 501.3 L854.4 500.6 L855.4 499.0 L856.3 502.6 L857.3 506.9 L858.5 511.1 L859.4 506.9 L860.2 502.6 L861.4 497.5 L862.2 499.1 L863.0 499.4 L863.7 500.6 L864.4 503.0 L865.2 501.3 L866.2 500.4 L867.0 502.6 L867.9 506.9 L868.9 511.4 L869.7 506.9 L870.6 502.6 L872.0 498.5 L872.8 500.2 L873.5 500.3 L874.3 502.1 L874.8 503.2 L875.3 501.7 L876.6 500.6 L877.5 502.6 L878.5 506.9 L879.5 511.5 L880.3 506.9 L881.1 502.6 L882.6 497.4 L883.4 499.4 L884.1 499.5 L884.9 501.3 L885.9 502.1 L887.2 500.5 L888.2 502.6 L889.2 506.9 L890.1 511.3 L890.9 506.9 L891.7 502.6 L893.2 498.0 L893.9 499.4 L894.7 499.8 L895.5 501.7 L896.0 502.8 L897.0 501.7 L898.0 501.3 L898.8 502.6 L899.7 506.9 L900.7 511.3 L901.5 506.9 L902.3 502.6 L903.7 498.8 L904.5 501.7 L905.2 499.4 L906.0 501.3 L906.5 503.0 L907.3 501.7 L908.1 500.9 L908.8 501.7 L909.6 502.6 L910.4 506.9 L911.3 511.1 L912.1 506.9 L912.8 502.6 L913.4 499.6 L914.4 495.6 L915.1 496.5 L915.8 496.2 L916.6 498.7 L917.4 500.4 L918.1 499.8 L919.1 499.0 L919.7 500.6 L920.2 502.6 L921.0 506.9 L921.9 511.3 L922.7 506.9 L923.4 502.6 L923.9 499.6 L924.7 496.6 L925.2 495.2 L925.7 495.3 L926.4 494.2 L927.0 496.1 L927.7 499.1 L928.5 500.6 L929.5 499.7 L930.2 500.9 L930.7 502.6 L931.6 506.9 L932.5 511.4 L933.3 506.9 L934.0 502.6 L934.8 500.1 L935.5 498.4 L936.3 499.8 L937.0 500.4 L937.8 501.3 L938.3 502.7 L938.8 501.7 L939.8 500.9 L940.6 502.6 L941.3 502.6 L942.1 506.9 L943.0 511.5 L943.9 506.9 L944.7 502.6 L945.1 500.6 L945.9 498.8 L946.7 500.0 L947.4 500.1 L948.4 501.3 L948.9 503.5 L949.6 501.7 L950.9 500.9 L951.7 502.6 L951.9 502.6 L952.7 506.9 L953.6 510.9 L954.4 506.9 L955.1 502.6 L955.7 500.6 L956.5 498.1 L957.5 500.2 L958.2 500.3 L958.2 514.5 Z M958.8 514.5 L958.8 505.0 L960.0 504.0 L962.0 503.0 L963.5 508.0 L965.0 509.5 L966.5 504.0 L968.0 501.0 L970.0 503.0 L971.5 503.0 L974.0 507.0 L975.0 509.5 L976.5 504.0 L978.5 500.0 L980.0 502.0 L982.0 503.0 L984.0 508.0 L985.5 510.0 L987.0 503.0 L988.5 497.5 L990.0 498.5 L992.0 500.0 L993.5 502.0 L994.8 507.0 L994.8 514.5 Z" fill="rgba(106,63,176,0.04)"/>
<path d="M42.7 514.5 L42.7 509.8 L44.5 506.8 L46.4 492.9 L48.3 494.4 L50.1 503.0 L52.4 509.8 L53.9 509.8 L55.4 497.0 L57.1 489.5 L58.8 494.0 L60.6 503.0 L62.9 509.8 L64.0 510.1 L65.9 497.0 L67.6 492.5 L69.6 497.0 L71.5 503.8 L73.8 509.8 L74.9 509.8 L76.8 497.0 L78.3 493.3 L80.5 498.5 L82.8 502.3 L85.0 508.3 L87.3 507.5 L89.5 506.0 L92.5 505.3 L95.5 509.0 L97.8 506.8 L99.6 503.4 L102.3 505.3 L104.5 507.5 L106.4 509.4 L108.3 503.8 L110.0 498.0 L113.0 503.0 L116.3 509.3 L120.5 499.5 L123.5 503.0 L126.8 508.0 L131.0 497.4 L134.0 502.0 L137.3 508.6 L142.0 496.7 L145.0 502.0 L148.5 509.3 L152.0 499.5 L155.5 504.0 L159.0 508.6 L164.6 508.0 L170.0 508.0 L173.0 503.7 L177.2 506.5 L182.8 506.5 L188.4 507.0 L194.0 507.2 L199.6 505.8 L206.6 507.2 L210.8 508.0 L215.7 501.6 L220.6 505.8 L226.2 504.4 L233.2 510.0 L238.8 509.3 L238.8 514.5 Z M266.7 514.5 L266.7 507.8 L268.8 493.3 L270.5 495.0 L272.6 501.8 L275.6 507.3 L279.0 494.2 L281.6 500.1 L284.1 505.2 L286.7 508.2 L289.2 497.6 L291.3 488.2 L293.9 492.5 L296.4 496.3 L298.5 495.0 L300.7 484.4 L303.2 487.4 L305.4 493.3 L308.4 496.3 L312.6 491.6 L315.6 494.2 L318.1 497.1 L322.4 489.5 L324.9 490.8 L327.6 495.0 L330.1 490.8 L332.7 483.1 L334.8 489.0 L336.9 497.6 L339.9 499.7 L342.4 489.0 L344.1 488.2 L346.3 490.8 L348.8 495.4 L350.5 495.0 L354.3 485.2 L356.9 489.0 L360.7 493.7 L364.3 481.4 L366.7 488.2 L369.2 494.2 L371.3 495.4 L374.7 486.5 L377.3 491.6 L379.8 494.6 L379.8 514.5 Z M390.0 514.5 L390.0 494.6 L393.0 494.0 L396.4 490.3 L399.0 491.6 L402.0 493.7 L404.5 494.2 L406.6 484.4 L409.2 488.2 L412.0 493.5 L414.0 495.0 L416.0 487.5 L417.0 482.5 L418.5 486.0 L420.0 490.0 L422.0 495.0 L424.0 496.5 L426.0 490.0 L427.5 481.5 L429.0 486.0 L431.0 491.0 L433.0 495.0 L435.0 496.5 L436.5 490.0 L437.8 486.5 L439.5 490.0 L442.0 494.0 L444.5 496.0 L446.5 498.5 L448.0 495.0 L450.0 494.5 L454.0 494.5 L456.0 497.0 L458.0 498.5 L460.0 496.5 L462.0 496.0 L464.0 496.5 L466.0 498.0 L469.0 495.0 L471.0 494.0 L473.0 494.5 L475.0 496.0 L477.6 495.0 L477.6 514.5 Z M478.1 514.5 L478.1 498.7 L478.9 493.8 L479.3 490.6 L479.6 483.0 L480.3 485.4 L480.9 485.6 L481.6 489.5 L482.3 488.5 L482.9 490.6 L483.9 495.7 L484.4 495.3 L485.1 496.8 L486.1 498.1 L487.1 498.7 L487.9 500.4 L488.3 499.6 L489.2 494.2 L489.7 490.6 L490.4 485.2 L491.2 488.0 L491.7 486.9 L492.2 487.8 L492.7 487.4 L493.4 489.3 L493.9 490.6 L494.4 494.9 L495.2 497.0 L496.0 499.1 L496.7 500.9 L497.7 501.7 L498.7 503.0 L499.5 497.4 L500.0 491.0 L500.4 489.0 L501.4 492.6 L502.3 488.9 L502.8 487.6 L503.5 486.7 L504.3 488.6 L504.8 491.0 L505.2 494.4 L505.5 494.9 L506.3 498.1 L507.3 500.9 L507.8 502.6 L508.8 504.1 L509.3 504.3 L510.3 502.8 L511.1 501.3 L511.8 501.7 L512.8 502.4 L513.9 503.6 L514.4 504.3 L515.4 504.9 L516.4 505.8 L517.4 506.5 L518.4 507.3 L519.4 508.0 L520.2 507.1 L520.9 501.7 L521.4 499.0 L521.9 498.0 L522.9 499.6 L523.6 501.3 L524.2 501.1 L524.7 501.7 L525.2 502.6 L525.6 504.3 L525.9 506.0 L526.2 512.4 L527.0 513.3 L527.5 513.0 L528.5 512.2 L529.0 511.6 L529.7 512.2 L530.5 512.4 L531.5 512.3 L532.5 512.4 L533.5 512.2 L534.5 511.6 L535.0 511.1 L535.8 511.6 L536.5 511.4 L537.3 510.9 L538.1 511.6 L539.1 511.9 L540.1 512.0 L541.1 511.6 L542.1 511.3 L542.8 511.7 L543.6 511.4 L544.6 511.1 L545.6 511.9 L546.6 511.4 L547.6 511.3 L548.6 511.7 L549.6 512.0 L549.6 514.5 Z M559.2 514.5 L559.2 511.9 L560.7 511.7 L562.2 512.0 L563.8 511.4 L565.3 510.7 L565.8 510.5 L566.8 511.1 L567.8 510.3 L568.6 508.0 L569.1 510.8 L569.3 512.0 L570.8 512.2 L572.3 512.1 L573.3 511.6 L574.3 510.3 L575.4 509.4 L576.4 509.4 L577.4 510.1 L578.1 512.2 L578.6 511.4 L579.7 509.6 L580.9 510.7 L582.4 511.3 L582.9 511.4 L582.9 514.5 Z M591.0 514.5 L591.0 509.0 L592.5 510.1 L593.5 510.3 L594.5 508.6 L595.5 504.7 L596.0 501.7 L596.5 498.7 L597.0 500.6 L597.5 501.9 L598.5 502.8 L599.3 505.8 L600.1 505.8 L601.1 506.9 L602.6 507.9 L603.6 509.2 L604.6 509.0 L605.6 508.8 L606.6 507.5 L607.6 507.1 L608.6 507.3 L609.6 507.5 L610.6 507.9 L611.7 507.7 L612.7 508.6 L613.7 509.0 L614.7 509.4 L615.7 508.8 L616.7 505.1 L617.7 504.3 L618.7 504.9 L619.7 505.4 L620.7 506.9 L621.2 507.6 L622.2 505.6 L623.2 507.5 L624.3 508.1 L625.3 508.4 L626.1 508.8 L626.8 506.0 L627.3 501.7 L627.8 491.5 L628.8 496.1 L629.8 500.2 L630.3 502.6 L631.3 505.8 L633.3 507.1 L634.8 508.8 L635.8 509.4 L636.9 508.1 L637.6 504.7 L638.2 500.6 L638.4 497.6 L638.9 497.4 L639.6 498.7 L640.4 500.2 L641.2 502.6 L641.9 505.4 L643.4 505.8 L644.9 507.7 L646.2 509.2 L647.2 508.8 L648.2 504.7 L648.6 496.4 L649.0 488.2 L649.7 493.1 L650.5 494.9 L651.5 496.6 L652.5 500.9 L653.0 504.9 L654.5 507.9 L655.7 509.4 L656.5 509.0 L658.0 506.9 L658.7 501.7 L659.5 490.0 L660.2 492.5 L660.9 494.4 L661.8 492.9 L662.4 497.0 L662.9 502.6 L664.1 505.6 L665.1 505.8 L666.1 507.9 L667.4 508.8 L668.4 509.0 L669.4 505.8 L670.1 501.7 L670.6 497.0 L671.4 491.0 L672.4 486.7 L673.2 489.9 L673.5 496.4 L673.9 502.6 L675.7 504.4 L677.2 505.8 L678.2 509.4 L679.2 509.0 L680.2 505.8 L681.2 504.3 L682.0 503.9 L682.7 505.4 L683.5 503.9 L684.2 506.2 L685.2 506.6 L686.3 505.4 L687.3 508.6 L687.8 507.1 L688.8 504.7 L689.8 503.3 L690.3 502.6 L691.3 501.2 L692.3 499.0 L693.3 497.4 L694.0 499.6 L694.8 503.0 L695.8 506.4 L697.0 504.7 L698.4 507.9 L699.4 509.9 L700.4 509.0 L701.4 504.7 L702.4 501.7 L702.9 500.0 L703.4 501.2 L703.9 502.6 L704.9 504.9 L705.9 504.2 L706.7 507.7 L707.7 507.7 L708.7 508.8 L709.9 509.6 L711.0 508.6 L712.0 505.6 L712.6 503.6 L713.0 512.4 L713.5 514.1 L714.1 504.9 L714.5 504.3 L715.2 505.8 L716.0 508.3 L716.5 506.5 L717.5 504.9 L718.5 503.6 L719.5 504.9 L720.5 506.0 L721.5 504.9 L722.3 501.7 L723.1 498.3 L723.9 500.4 L724.6 502.6 L726.1 507.3 L727.6 507.7 L729.1 508.8 L730.3 510.1 L731.3 511.3 L732.1 510.7 L733.1 507.9 L733.6 504.9 L734.1 501.7 L735.2 503.0 L736.2 503.6 L737.2 504.9 L738.2 507.1 L739.2 510.0 L740.4 510.7 L741.7 511.0 L742.7 509.0 L743.7 504.7 L744.2 500.9 L745.0 501.7 L745.7 502.6 L747.3 507.9 L748.8 508.6 L749.8 509.4 L750.8 510.7 L751.5 511.4 L752.5 510.7 L753.8 509.4 L755.3 508.4 L756.8 507.7 L757.8 507.4 L759.1 507.4 L760.4 508.1 L761.9 509.6 L763.4 510.9 L764.4 507.1 L765.6 504.1 L766.6 504.9 L767.6 505.4 L768.6 506.4 L769.6 507.9 L770.2 507.3 L770.9 507.5 L771.7 509.0 L772.5 510.3 L773.7 511.1 L774.5 509.0 L775.3 504.7 L776.0 498.6 L777.0 500.2 L778.0 502.1 L778.5 502.8 L779.5 506.9 L780.5 507.7 L781.5 508.1 L782.5 509.0 L783.3 510.3 L784.1 511.5 L785.1 509.4 L785.8 505.8 L786.4 498.0 L787.4 500.0 L788.1 501.3 L788.8 501.3 L789.1 502.6 L790.1 506.9 L791.1 508.1 L792.1 508.8 L792.8 508.6 L793.6 509.9 L794.6 510.3 L795.6 509.0 L796.5 504.7 L796.9 488.9 L797.5 485.5 L798.2 486.7 L798.9 489.9 L799.7 490.1 L800.2 495.5 L800.5 497.0 L801.2 502.6 L802.2 504.7 L803.2 506.9 L804.2 509.0 L805.2 510.3 L805.9 510.3 L806.7 505.8 L807.2 502.6 L807.7 495.2 L808.6 498.1 L809.5 496.9 L810.3 499.8 L811.0 502.6 L811.8 506.9 L812.6 508.4 L813.3 508.1 L814.0 509.0 L815.0 509.9 L816.0 511.0 L816.8 509.0 L817.6 504.7 L818.1 495.5 L819.0 498.1 L819.6 499.4 L820.3 499.6 L821.1 502.6 L821.9 506.9 L822.9 508.8 L823.9 509.0 L824.9 510.1 L826.1 510.8 L826.9 508.1 L827.4 506.0 L828.2 504.1 L828.9 508.1 L830.4 507.3 L831.9 505.8 L833.5 507.1 L835.0 508.8 L836.5 510.8 L837.5 509.0 L838.5 506.9 L839.5 505.1 L840.5 505.0 L841.2 505.8 L842.0 505.4 L843.0 506.9 L844.0 507.7 L845.0 508.1 L846.3 509.6 L847.3 510.8 L848.3 511.4 L849.1 509.0 L849.9 504.7 L850.1 499.8 L850.6 501.7 L852.1 503.9 L853.1 505.8 L854.1 507.9 L855.1 510.7 L856.1 511.4 L856.9 511.8 L857.6 511.4 L858.7 511.8 L859.4 509.0 L860.2 504.7 L860.7 499.4 L861.7 499.8 L862.7 502.6 L863.7 505.8 L864.2 507.3 L865.2 508.1 L866.2 508.6 L867.2 510.1 L868.2 511.0 L869.2 510.7 L869.7 507.1 L870.3 502.6 L871.3 494.6 L872.1 497.6 L872.8 497.2 L873.5 494.5 L874.3 497.4 L875.1 501.3 L875.8 501.7 L876.5 501.5 L877.1 502.6 L877.8 504.7 L878.8 506.0 L879.8 504.7 L880.3 502.6 L881.1 496.4 L881.6 490.0 L882.4 491.6 L883.2 494.6 L884.0 493.8 L884.4 496.4 L884.9 499.1 L885.6 502.6 L886.4 502.6 L887.9 504.7 L888.9 506.2 L889.7 506.9 L890.9 505.8 L891.9 502.6 L892.6 498.7 L893.4 498.5 L894.2 497.3 L895.0 499.1 L895.5 502.6 L896.5 504.3 L897.7 504.7 L898.7 505.8 L899.5 506.3 L900.5 505.8 L901.5 504.7 L902.5 503.6 L903.5 502.6 L904.5 501.3 L906.0 500.2 L907.1 500.0 L908.1 498.9 L909.1 501.7 L909.6 502.6 L910.6 503.9 L911.6 504.5 L912.6 503.6 L913.1 500.4 L914.1 501.7 L915.1 502.6 L916.1 503.2 L917.1 502.6 L918.6 503.4 L920.2 504.9 L921.7 505.8 L922.7 504.7 L923.7 502.6 L924.2 495.1 L924.9 497.4 L925.7 497.0 L926.4 496.2 L926.9 498.1 L927.6 501.3 L928.2 502.6 L929.2 502.6 L930.7 504.7 L932.0 505.1 L932.6 506.4 L933.3 504.7 L934.3 502.6 L935.3 500.4 L936.3 500.9 L937.6 499.3 L938.6 501.3 L939.3 501.3 L940.0 497.6 L940.3 502.6 L941.3 504.1 L942.3 504.3 L943.1 505.3 L943.9 504.1 L944.9 502.6 L945.2 491.3 L946.1 494.0 L947.1 491.6 L947.9 492.1 L948.7 495.5 L949.1 497.4 L949.9 501.7 L950.9 502.6 L951.7 503.6 L952.4 504.2 L953.7 504.6 L954.4 503.4 L955.1 502.6 L955.4 492.7 L955.9 490.1 L956.5 489.4 L957.2 490.1 L957.8 491.9 L958.2 492.2 L958.2 514.5 Z M958.8 514.5 L958.8 502.0 L960.0 503.0 L964.0 504.0 L966.5 493.0 L968.0 489.5 L969.5 494.0 L971.0 499.0 L973.0 501.0 L974.5 503.0 L976.0 502.0 L978.0 500.5 L980.0 502.0 L983.0 504.0 L985.0 505.0 L987.0 503.0 L988.5 498.5 L990.0 499.0 L992.0 500.5 L994.8 502.0 L994.8 514.5 Z" fill="rgba(240,160,75,0.04)"/>
</g>
<line x1="43.5" x2="43.5" y1="474.5" y2="514.5" stroke="#444" stroke-width="1" stroke-dasharray="3,2"/><text x="46.5" y="526.5" text-anchor="middle" font-size="9.7" fill="#999">Jun 3</text><line x1="117.5" x2="117.5" y1="474.5" y2="514.5" stroke="#444" stroke-width="1" stroke-dasharray="3,2"/><text x="120.5" y="526.5" text-anchor="middle" font-size="9.7" fill="#999">Jun 10</text><line x1="192.5" x2="192.5" y1="474.5" y2="514.5" stroke="#444" stroke-width="1" stroke-dasharray="3,2"/><text x="195.5" y="526.5" text-anchor="middle" font-size="9.7" fill="#999">Jun 17</text><line x1="266.5" x2="266.5" y1="474.5" y2="514.5" stroke="#444" stroke-width="1" stroke-dasharray="3,2"/><text x="269.5" y="526.5" text-anchor="middle" font-size="9.7" fill="#999">Jun 24</text><line x1="340.5" x2="340.5" y1="474.5" y2="514.5" stroke="#444" stroke-width="1" stroke-dasharray="3,2"/><text x="343.5" y="526.5" text-anchor="middle" font-size="9.7" fill="#999">Jul 1</text><line x1="414.5" x2="414.5" y1="474.5" y2="514.5" stroke="#444" stroke-width="1" stroke-dasharray="3,2"/><text x="417.5" y="526.5" text-anchor="middle" font-size="9.7" fill="#999">Jul 8</text><line x1="488.5" x2="488.5" y1="474.5" y2="514.5" stroke="#444" stroke-width="1" stroke-dasharray="3,2"/><text x="491.5" y="526.5" text-anchor="middle" font-size="9.7" fill="#999">Jul 15</text><line x1="562.5" x2="562.5" y1="474.5" y2="514.5" stroke="#444" stroke-width="1" stroke-dasharray="3,2"/><text x="565.5" y="526.5" text-anchor="middle" font-size="9.7" fill="#999">Jul 22</text><line x1="636.5" x2="636.5" y1="474.5" y2="514.5" stroke="#444" stroke-width="1" stroke-dasharray="3,2"/><text x="639.5" y="526.5" text-anchor="middle" font-size="9.7" fill="#999">Jul 29</text><line x1="710.5" x2="710.5" y1="474.5" y2="514.5" stroke="#444" stroke-width="1" stroke-dasharray="3,2"/><text x="713.5" y="526.5" text-anchor="middle" font-size="9.7" fill="#999">Aug 5</text><line x1="784.5" x2="784.5" y1="474.5" y2="514.5" stroke="#444" stroke-width="1" stroke-dasharray="3,2"/><text x="787.5" y="526.5" text-anchor="middle" font-size="9.7" fill="#999">Aug 12</text><line x1="858.5" x2="858.5" y1="474.5" y2="514.5" stroke="#444" stroke-width="1" stroke-dasharray="3,2"/><text x="861.5" y="526.5" text-anchor="middle" font-size="9.7" fill="#999">Aug 19</text><line x1="932.5" x2="932.5" y1="474.5" y2="514.5" stroke="#444" stroke-width="1" stroke-dasharray="3,2"/><text x="935.5" y="526.5" text-anchor="middle" font-size="9.7" fill="#999">Aug 26</text>
<rect x="397.6" y="474.5" width="2" height="40.0" fill="rgba(250,120,130,0.12)"/>
<g fill="none" stroke-linejoin="round">
<path d="M42.7 510.5 C43.0 509.8 43.9 508.4 44.5 506.5 C45.1 504.6 45.8 500.2 46.4 499.3 C47.0 499.3 47.5 500.4 48.3 500.8 C49.1 501.2 50.5 500.8 51.3 501.5 C52.0 503.0 52.4 508.4 52.8 509.8 C53.2 510.1 53.4 510.1 53.9 510.1 C54.4 509.0 55.2 504.6 55.8 503.0 C56.4 501.4 56.8 500.6 57.3 500.4 C57.8 500.4 58.5 501.3 59.1 501.5 C59.7 501.5 60.5 501.5 61.0 501.5 C61.5 501.4 61.6 501.1 62.1 501.1 C62.6 502.5 63.4 509.9 64.0 510.1 C64.6 510.1 65.3 504.1 65.9 502.3 C66.5 500.5 67.2 499.5 67.8 499.3 C68.4 499.3 68.8 500.7 69.6 501.1 C70.3 501.5 71.5 501.1 72.3 501.5 C73.1 503.0 73.8 509.9 74.5 510.1 C75.2 510.1 76.2 504.8 76.8 503.0 C77.4 501.2 77.7 499.6 78.3 499.3 C78.9 499.3 79.7 501.4 80.5 501.5 C81.3 501.5 82.3 500.0 83.1 500.0 C83.9 501.2 84.6 508.4 85.4 508.6 C86.2 508.6 87.1 502.6 88.0 501.5 C88.9 501.5 90.0 501.9 91.0 501.9 C92.0 501.8 93.2 500.8 94.0 500.8 C94.8 501.9 95.3 508.3 95.9 508.3 C96.5 508.3 97.2 503.4 97.8 500.8 C98.4 498.2 98.8 493.2 99.4 492.9 C100.0 492.9 100.7 498.0 101.5 498.9 C102.3 498.9 103.7 498.1 104.5 498.1 C105.3 499.7 105.8 507.8 106.4 508.6 C107.0 508.6 107.7 505.1 108.3 503.0 C108.9 500.9 109.2 496.9 110.0 496.0 C110.8 496.0 111.9 497.4 112.8 497.5 C113.7 497.5 114.9 496.7 115.6 496.7 C116.3 498.6 116.2 507.9 117.0 508.6 C117.8 508.6 119.6 502.2 120.5 501.0 C121.4 501.0 121.8 501.5 122.6 501.5 C123.4 500.3 124.6 494.0 125.4 494.0 C126.2 495.3 126.8 508.0 127.5 509.3 C128.2 509.3 128.8 503.2 129.6 501.6 C130.4 500.0 131.5 499.5 132.4 499.5 C133.3 499.5 134.3 499.9 135.2 501.6 C136.1 503.4 136.9 510.0 138.0 510.0 C139.1 509.5 140.4 500.2 141.5 498.8 C142.6 498.8 143.4 501.4 144.3 501.5 C145.2 501.5 146.3 499.5 147.1 499.5 C147.9 500.7 148.4 508.5 149.2 508.6 C150.0 508.6 151.1 501.6 152.0 500.2 C152.9 500.2 153.9 500.2 154.8 500.2 C155.7 499.2 156.8 494.0 157.6 494.0 C158.4 495.4 158.9 507.4 159.7 508.6 C160.5 508.6 161.6 502.2 162.5 501.0 C163.4 501.0 164.4 501.6 165.3 501.6 C166.2 501.6 167.3 501.0 168.1 501.0 C168.9 502.1 169.3 508.0 170.2 508.0 C171.1 507.6 172.6 499.9 173.7 498.8 C174.8 498.8 175.6 501.2 176.5 501.6 C177.4 501.6 178.5 501.0 179.3 501.0 C180.1 502.2 180.6 508.6 181.4 508.6 C182.2 508.4 183.3 500.7 184.2 499.5 C185.1 499.5 186.2 501.5 187.0 501.6 C187.8 501.6 188.4 500.2 189.1 500.2 C189.8 501.3 190.6 508.0 191.2 508.0 C191.8 507.1 192.2 495.3 192.9 494.6 C193.6 494.6 194.5 502.1 195.4 503.7 C196.3 504.4 197.1 503.7 198.2 504.4 C199.2 505.6 200.5 510.7 201.7 510.7 C202.9 510.1 204.1 502.3 205.2 501.0 C206.2 501.0 207.1 502.7 208.0 503.0 C208.9 503.0 210.0 503.0 210.8 503.0 C211.6 504.2 212.1 510.0 213.0 510.0 C213.9 509.7 215.4 502.4 216.4 501.0 C217.4 501.0 218.4 501.0 219.2 501.6 C220.0 503.1 220.1 510.0 221.3 510.0 C222.5 509.6 224.9 501.1 226.2 499.5 C227.5 499.5 228.2 500.2 229.0 500.2 C229.8 500.2 230.4 499.5 231.1 499.5 C231.8 501.0 232.4 509.3 233.2 509.3 C234.0 508.5 235.1 496.8 236.0 494.6 C236.9 494.6 237.9 494.9 238.8 496.0 C239.7 497.1 240.8 498.9 241.6 501.0 C242.4 503.1 243.1 507.6 243.7 508.6 C244.3 508.6 244.3 508.6 245.0 506.9 C245.7 505.1 246.8 498.9 247.6 497.6 C248.4 497.6 249.2 499.0 250.0 499.0 C250.8 498.4 251.9 493.7 252.7 493.7 C253.5 495.3 253.9 508.5 254.8 508.6 C255.7 508.6 257.2 496.3 258.2 494.6 C259.2 494.6 259.8 497.6 260.7 498.4 C261.6 499.2 262.5 498.4 263.3 499.3 C264.1 501.0 264.5 508.6 265.4 508.6 C266.3 508.0 267.8 497.3 268.8 495.9 C269.8 495.9 270.5 500.0 271.4 500.1 C272.2 500.1 273.2 496.7 273.9 496.7 C274.6 498.1 275.0 508.6 275.6 508.6 C276.2 508.6 276.7 500.2 277.3 496.7 C277.9 493.2 278.4 487.7 279.0 487.4 C279.6 487.4 280.1 492.6 280.7 495.0 C281.3 497.4 282.2 500.7 282.8 501.8 C283.4 501.8 283.9 501.8 284.5 501.8 C285.1 503.1 285.9 509.9 286.5 509.9 C287.1 509.8 287.7 503.1 288.4 501.0 C289.1 498.9 289.7 497.2 290.5 497.1 C291.3 497.1 291.9 498.4 293.0 500.5 C294.1 502.6 295.6 509.5 296.9 509.5 C298.2 509.0 299.6 499.1 300.7 497.6 C301.8 497.6 302.8 500.5 303.7 500.5 C304.6 500.5 305.1 497.6 305.8 497.6 C306.5 498.9 307.0 507.9 307.9 508.2 C308.8 508.2 310.1 500.6 311.3 499.3 C312.5 499.3 314.1 499.3 315.2 500.5 C316.3 502.1 317.1 509.0 318.1 509.0 C319.2 508.1 320.5 497.3 321.5 495.4 C322.5 495.4 323.2 497.2 324.1 497.6 C325.0 497.6 325.9 497.6 326.7 497.6 C327.5 499.4 327.9 508.6 328.8 508.6 C329.7 508.2 330.9 497.2 331.8 495.4 C332.7 495.4 333.5 496.9 334.4 497.6 C335.2 498.3 336.0 497.7 336.9 499.7 C337.8 501.7 338.9 509.5 339.9 509.5 C340.9 509.1 342.0 498.8 342.9 497.1 C343.8 497.1 344.5 498.9 345.4 499.3 C346.2 499.3 347.2 499.3 348.0 499.3 C348.8 500.9 349.1 509.0 350.1 509.0 C351.1 508.6 352.6 498.7 353.9 497.1 C355.2 497.1 356.6 497.2 357.7 499.3 C358.8 501.4 359.7 509.5 360.7 509.5 C361.7 508.9 362.7 497.1 363.7 495.4 C364.7 495.4 365.8 498.4 366.7 499.3 C367.6 500.2 368.4 499.3 369.2 500.5 C370.0 502.2 370.4 509.5 371.3 509.5 C372.2 509.1 373.6 499.6 374.7 498.0 C375.8 498.0 377.0 498.4 378.1 500.1 C379.2 501.8 380.3 508.2 381.5 508.2 C382.7 507.6 384.3 497.8 385.4 496.3 C386.5 496.3 387.4 499.3 388.3 499.3 C389.2 499.3 389.8 496.3 390.5 496.3 C391.2 497.6 391.7 507.3 392.6 507.3 C393.5 507.1 395.1 496.9 396.0 495.4 C396.9 495.4 397.3 497.9 398.0 498.4 C398.7 498.4 399.5 498.4 400.3 498.4 C401.1 500.0 401.9 508.2 402.8 508.2 C403.7 507.6 404.9 496.8 405.8 494.6 C406.7 494.6 407.3 494.6 408.0 495.0 C408.7 495.6 409.3 496.9 410.0 498.4 C410.7 499.9 411.4 502.1 412.0 504.0 C412.6 505.9 412.9 509.5 413.5 509.5 C414.1 508.8 414.8 501.9 415.5 500.0 C416.2 498.1 416.8 498.0 417.5 498.0 C418.2 498.0 419.3 499.5 420.0 500.0 C420.7 500.5 420.9 500.0 421.5 501.0 C422.1 502.3 423.0 506.6 423.5 508.0 C424.0 509.4 424.1 509.5 424.5 509.5 C424.9 508.3 425.4 502.8 426.0 501.0 C426.6 499.2 427.3 498.7 428.0 498.5 C428.7 498.5 429.3 499.6 430.0 500.0 C430.7 500.4 431.3 500.0 432.0 501.0 C432.7 502.4 433.3 508.5 434.0 508.5 C434.7 508.2 435.3 500.8 436.0 499.0 C436.7 497.5 437.3 497.5 438.0 497.5 C438.7 497.7 439.3 499.2 440.0 500.0 C440.7 500.8 441.3 501.5 442.0 502.0 C442.7 502.5 443.4 502.0 444.0 503.0 C444.6 504.2 444.9 509.0 445.5 509.0 C446.1 508.5 446.9 501.9 447.5 500.0 C448.1 498.1 448.4 497.5 449.0 497.5 C449.6 497.5 450.3 499.2 451.0 500.0 C451.7 500.8 452.4 500.6 453.0 502.0 C453.6 503.4 454.0 508.5 454.5 508.5 C455.0 508.3 455.4 502.4 456.0 501.0 C456.6 500.0 457.3 500.0 458.0 500.0 C458.7 500.0 459.2 501.0 460.0 501.0 C460.8 501.0 461.7 500.0 462.5 500.0 C463.3 500.3 464.3 501.5 465.0 503.0 C465.7 504.5 466.0 509.0 466.5 509.0 C467.0 508.8 467.4 503.9 468.0 502.0 C468.6 500.1 469.3 498.0 470.0 497.5 C470.7 497.5 471.2 498.1 472.0 499.0 C472.8 499.9 473.8 501.3 474.5 503.0 C475.2 504.7 475.5 508.7 476.0 509.0 C476.5 509.0 477.3 505.7 477.6 505.0 M478.1 509.4 C478.2 508.7 478.4 506.9 478.6 504.9 C478.8 503.0 479.0 499.3 479.3 497.6 C479.6 496.0 480.0 495.2 480.3 495.1 C480.6 495.1 480.8 496.5 481.1 496.8 C481.3 497.0 481.5 496.8 481.8 497.0 C482.0 497.4 482.3 498.4 482.6 499.0 C482.9 499.7 483.3 500.9 483.6 500.9 C483.9 500.7 484.1 498.9 484.4 498.3 C484.6 497.7 484.7 497.3 484.9 497.3 C485.1 497.3 485.4 497.9 485.6 498.3 C485.9 498.7 486.1 498.5 486.3 499.8 C486.6 501.1 486.9 504.5 487.1 506.0 C487.4 507.5 487.5 508.8 487.6 508.8 C487.8 508.6 488.0 507.0 488.1 504.9 C488.3 502.9 488.5 499.5 488.7 496.4 C488.8 493.2 488.9 487.7 489.1 485.9 C489.2 485.2 489.2 485.9 489.4 485.2 C489.5 484.0 489.8 478.7 490.0 478.7 C490.1 478.7 490.3 483.7 490.4 485.6 C490.5 487.6 490.5 488.5 490.7 490.6 C490.8 492.6 491.0 496.7 491.2 498.1 C491.4 498.7 491.7 498.5 491.9 498.7 C492.2 498.9 492.4 498.7 492.7 499.1 C493.0 499.6 493.4 500.6 493.7 501.3 C493.9 501.9 494.0 502.9 494.2 503.0 C494.4 503.0 494.5 502.1 494.7 501.7 C494.9 501.4 495.0 501.1 495.2 500.9 C495.4 500.6 495.5 500.1 495.7 500.1 C495.9 500.4 496.2 501.2 496.4 502.6 C496.7 503.9 496.9 506.7 497.2 508.1 C497.6 509.6 498.1 511.3 498.4 511.3 C498.8 511.1 499.2 508.8 499.5 507.1 C499.8 505.3 500.0 502.2 500.2 500.6 C500.5 499.1 501.0 498.1 501.3 497.9 C501.5 497.9 501.8 498.7 502.0 499.0 C502.3 499.4 502.5 499.8 502.8 500.0 C503.0 500.2 503.3 500.0 503.5 500.2 C503.7 500.5 503.9 501.1 504.0 501.7 C504.2 502.4 504.3 504.0 504.5 504.2 C504.6 504.2 504.8 503.3 505.0 502.8 C505.3 502.2 505.5 501.2 505.8 500.9 C506.0 500.9 506.3 500.9 506.5 500.9 C506.8 501.4 507.0 502.5 507.3 503.9 C507.6 505.3 508.0 508.0 508.3 509.2 C508.6 510.4 508.8 511.1 509.1 511.1 C509.4 510.8 509.7 508.7 510.1 507.1 C510.4 505.4 510.7 502.6 511.1 501.2 C511.4 499.8 511.8 498.6 512.1 498.5 C512.5 498.5 512.9 500.4 513.2 500.9 C513.4 501.1 513.6 500.9 513.9 501.1 C514.1 501.4 514.4 502.3 514.6 502.8 C514.9 503.3 515.1 504.2 515.4 504.2 C515.6 504.1 515.9 502.7 516.1 502.3 C516.4 501.8 516.6 501.5 516.9 501.5 C517.1 501.9 517.3 503.6 517.6 504.9 C517.9 506.3 518.3 508.6 518.6 509.8 C519.0 510.9 519.5 511.8 519.9 511.8 C520.3 511.6 520.6 509.5 520.9 508.1 C521.2 506.8 521.4 504.8 521.7 503.9 C521.9 503.0 522.2 502.9 522.4 502.8 C522.7 502.8 522.9 502.9 523.2 503.0 C523.4 503.1 523.7 503.4 523.9 503.6 C524.1 503.9 524.2 503.9 524.4 504.3 C524.7 504.6 525.0 505.4 525.2 505.8 C525.4 506.2 525.5 505.8 525.7 506.9 C525.9 507.9 526.0 510.7 526.2 511.9 C526.4 513.1 526.5 513.8 526.7 514.3 C526.9 514.4 527.3 514.4 527.5 514.4 C527.7 514.3 527.8 513.8 528.0 513.8 C528.1 513.8 528.0 514.3 528.5 514.4 C530.1 514.4 532.7 514.4 537.5 514.4 C542.4 514.4 550.9 514.4 557.7 514.4 C564.5 514.4 574.8 514.4 578.4 514.4 C579.4 514.1 579.1 512.8 579.4 512.4 C579.7 512.2 579.8 512.2 580.1 512.2 C580.3 512.4 580.6 513.0 580.9 513.3 C581.2 513.5 581.6 513.6 581.9 513.7 C582.2 513.8 582.5 513.9 582.9 513.9 C583.3 513.8 583.9 513.5 584.4 513.1 C584.9 512.6 585.5 511.5 585.9 511.1 C586.4 510.8 586.6 510.9 587.0 510.8 C587.3 510.8 587.7 510.8 588.0 510.7 C588.2 509.7 588.3 506.0 588.5 504.7 C588.6 503.5 588.7 503.7 589.0 503.2 C589.2 502.7 589.6 502.1 590.0 501.7 C590.3 501.3 590.6 501.0 591.0 501.0 C591.3 501.0 591.7 501.0 592.0 502.1 C592.2 503.3 592.2 506.5 592.5 507.9 C592.8 509.4 593.4 510.8 593.8 510.8 C594.2 510.8 594.6 509.1 595.0 507.9 C595.4 506.7 595.7 505.0 596.0 503.6 C596.3 502.3 596.6 500.4 596.8 500.0 C597.1 500.0 597.3 501.1 597.5 501.5 C597.8 501.9 598.3 501.7 598.5 502.3 C598.8 502.8 599.0 504.1 599.3 504.7 C599.5 505.3 599.7 505.8 599.9 505.8 C600.0 505.8 600.1 504.9 600.3 504.5 C600.5 504.1 600.8 503.6 601.1 503.4 C601.3 503.2 601.6 503.2 601.9 503.2 C602.1 503.4 602.3 503.8 602.6 504.7 C602.9 505.7 603.2 507.9 603.6 509.0 C603.9 510.1 604.3 511.3 604.6 511.3 C604.9 511.3 605.3 510.1 605.6 509.0 C605.9 507.9 606.4 505.8 606.6 504.7 C606.9 503.6 606.9 502.4 607.1 502.3 C607.3 502.3 607.5 503.2 607.6 503.6 C607.8 504.1 608.0 504.9 608.1 504.9 C608.3 504.7 608.4 502.4 608.6 502.3 C608.8 502.3 609.1 503.5 609.4 504.1 C609.7 504.7 610.0 505.8 610.3 505.8 C610.6 505.7 610.8 504.0 611.1 503.6 C611.4 503.4 611.8 503.4 612.2 503.4 C612.5 503.7 612.8 504.1 613.2 505.1 C613.5 506.2 613.9 508.6 614.2 509.6 C614.5 510.7 614.7 511.6 615.0 511.6 C615.3 511.5 615.6 510.1 616.0 509.0 C616.4 507.9 616.9 506.0 617.2 504.7 C617.5 503.4 617.7 501.5 618.0 501.1 C618.3 501.1 618.7 501.9 619.0 502.1 C619.3 502.4 619.5 502.1 619.7 502.4 C619.9 502.8 620.0 504.3 620.2 504.7 C620.4 505.0 620.8 505.0 621.0 505.0 C621.3 504.8 621.4 503.5 621.7 503.2 C622.0 503.2 622.4 503.2 622.7 503.2 C623.1 503.5 623.5 503.8 623.7 504.7 C624.0 505.7 624.2 507.8 624.5 509.0 C624.7 510.2 625.1 511.7 625.5 511.7 C625.8 511.7 626.2 510.2 626.5 509.0 C626.8 507.8 627.0 506.1 627.3 504.7 C627.6 503.3 628.0 501.1 628.3 500.5 C628.6 500.5 629.0 501.1 629.3 501.3 C629.5 501.5 629.6 501.7 629.8 501.7 C630.0 501.0 630.3 497.3 630.5 497.0 C630.8 497.0 631.1 499.2 631.3 499.8 C631.5 500.4 631.6 500.6 631.8 500.6 C632.0 500.4 632.1 498.9 632.3 498.1 C632.6 497.2 633.0 495.6 633.3 495.6 C633.7 495.7 634.1 497.5 634.3 498.7 C634.6 499.9 634.7 501.4 634.8 502.8 C635.0 504.1 635.1 505.5 635.3 506.9 C635.6 508.2 635.8 510.6 636.2 510.8 C636.5 510.8 636.9 509.3 637.2 507.9 C637.4 506.6 637.7 504.6 637.9 502.6 C638.1 500.6 638.2 497.4 638.4 495.9 C638.6 494.5 638.8 494.0 639.1 494.0 C639.3 494.0 639.6 495.7 639.9 496.1 C640.1 496.4 640.4 496.1 640.6 496.4 C640.9 496.6 641.1 497.2 641.4 497.9 C641.7 498.5 641.9 500.2 642.2 500.4 C642.5 500.4 642.6 499.6 642.9 499.1 C643.2 498.7 643.6 498.0 643.9 498.0 C644.2 498.0 644.4 498.8 644.6 499.6 C644.8 500.4 645.0 501.6 645.2 502.8 C645.4 504.0 645.4 505.5 645.7 506.9 C645.9 508.2 646.3 510.6 646.6 510.8 C646.9 510.8 647.1 509.3 647.4 507.9 C647.7 506.6 648.1 504.6 648.5 502.6 C648.8 500.6 649.2 496.8 649.5 495.8 C649.8 495.8 650.0 496.2 650.3 496.6 C650.5 496.9 650.7 497.2 651.0 498.1 C651.3 498.9 651.7 500.9 652.0 501.7 C652.3 502.5 652.5 502.9 652.7 502.9 C653.0 502.6 653.2 500.5 653.5 499.8 C653.8 499.0 654.2 498.4 654.5 498.4 C654.8 498.5 655.2 499.9 655.5 500.6 C655.8 501.4 656.1 501.8 656.3 502.8 C656.5 503.8 656.6 505.5 656.8 506.9 C656.9 508.2 657.1 510.9 657.3 510.9 C657.5 510.9 657.7 508.3 658.0 506.9 C658.3 505.5 658.7 504.2 659.0 502.6 C659.4 501.0 659.7 498.0 660.0 497.3 C660.4 497.3 660.8 498.3 661.1 498.7 C661.3 499.1 661.4 499.8 661.6 499.8 C661.8 499.8 662.0 498.9 662.3 498.9 C662.5 499.4 662.9 502.5 663.1 502.8 C663.3 502.8 663.2 501.6 663.6 500.9 C663.9 500.1 664.7 498.4 665.1 498.4 C665.5 498.4 665.8 499.9 666.1 500.6 C666.3 501.4 666.4 501.8 666.6 502.8 C666.8 503.8 666.9 505.5 667.1 506.9 C667.3 508.2 667.7 510.4 667.9 510.8 C668.2 510.8 668.4 510.6 668.6 509.6 C668.8 508.7 669.0 506.9 669.1 504.9 C669.3 502.9 669.4 499.0 669.6 497.6 C669.9 496.8 670.3 496.8 670.6 496.8 C670.9 496.9 671.2 498.0 671.4 498.5 C671.7 499.0 671.9 499.4 672.1 499.6 C672.4 499.8 672.6 499.6 672.9 499.8 C673.2 500.2 673.6 501.7 673.9 502.3 C674.1 502.8 674.0 503.1 674.2 503.1 C674.3 502.9 674.4 501.8 674.7 501.3 C674.9 500.8 675.4 500.0 675.7 500.0 C676.0 500.1 676.2 501.1 676.4 501.7 C676.6 502.4 676.8 503.0 676.9 503.9 C677.1 504.7 677.2 505.7 677.5 506.9 C677.7 508.0 678.1 510.6 678.4 510.8 C678.7 510.8 678.9 509.3 679.2 507.9 C679.5 506.6 679.9 504.1 680.2 502.6 C680.5 501.0 680.9 498.8 681.2 498.6 C681.5 498.6 681.7 501.5 681.9 501.7 C682.2 501.7 682.4 499.9 682.7 499.9 C683.0 500.0 683.5 501.8 683.7 502.3 C684.0 502.8 684.2 502.9 684.4 502.9 C684.6 502.6 684.6 501.0 684.9 500.4 C685.2 499.9 685.9 499.7 686.3 499.7 C686.6 500.1 687.0 501.6 687.3 502.8 C687.6 504.0 687.7 505.5 688.0 506.9 C688.3 508.2 688.7 510.7 689.1 510.7 C689.4 510.7 689.7 508.4 690.0 507.1 C690.4 505.7 690.7 504.2 691.0 502.6 C691.3 501.0 691.7 498.1 692.0 497.4 C692.3 497.4 692.6 498.4 692.8 498.7 C693.0 499.0 693.1 498.9 693.3 499.1 C693.6 499.4 694.0 499.9 694.3 500.4 C694.6 500.9 694.8 502.2 695.0 502.3 C695.3 502.3 695.5 501.2 695.8 500.6 C696.2 500.1 696.7 499.1 697.0 499.1 C697.4 499.3 697.6 500.6 697.9 501.7 C698.1 502.9 698.3 504.5 698.6 506.0 C698.9 507.5 699.3 510.4 699.7 510.6 C700.0 510.6 700.3 508.4 700.6 507.1 C700.9 505.7 701.1 504.2 701.4 502.6 C701.7 501.0 702.1 498.3 702.4 497.5 C702.7 497.5 702.8 497.5 703.1 498.3 C703.3 499.1 703.6 501.5 703.9 502.6 C704.2 503.6 704.5 504.2 704.7 504.7 C705.0 505.3 705.2 505.8 705.4 505.8 C705.6 505.7 705.8 504.4 706.1 504.2 C706.5 504.2 707.1 504.2 707.4 504.2 C707.8 504.3 707.9 504.2 708.1 504.9 C708.4 505.7 708.6 507.9 708.9 509.0 C709.3 510.1 709.8 511.7 710.2 511.8 C710.5 511.8 710.8 510.6 711.2 509.6 C711.5 508.6 711.9 506.6 712.2 505.8 C712.4 505.0 712.5 504.7 712.7 504.7 C712.8 506.1 712.9 512.3 713.1 513.9 C713.3 514.4 713.6 514.4 713.7 514.4 C713.9 512.9 714.0 506.9 714.1 504.9 C714.3 502.9 714.3 502.7 714.5 502.5 C714.7 502.5 714.9 503.1 715.2 503.6 C715.4 504.2 715.7 505.8 716.0 505.8 C716.3 505.8 716.6 504.4 716.8 503.9 C717.1 503.3 717.3 502.6 717.5 502.3 C717.7 501.9 717.8 501.7 718.0 501.7 C718.2 501.7 718.4 502.0 718.5 502.4 C718.7 502.7 718.8 503.1 719.0 503.9 C719.2 504.6 719.5 505.7 719.8 506.9 C720.1 508.0 720.5 510.8 720.8 510.8 C721.2 510.8 721.6 508.2 721.8 506.9 C722.1 505.5 722.3 503.8 722.6 502.6 C722.8 501.3 723.2 499.7 723.6 499.5 C723.9 499.5 724.3 501.0 724.6 501.3 C724.9 501.3 725.1 501.1 725.3 501.1 C725.5 501.5 725.6 503.2 725.8 503.9 C726.1 504.5 726.6 504.9 726.9 504.9 C727.2 504.8 727.3 503.9 727.6 503.3 C727.9 502.7 728.5 501.3 728.8 501.3 C729.1 501.3 729.1 502.4 729.4 503.3 C729.6 504.3 729.8 505.6 730.1 506.9 C730.4 508.2 731.0 511.1 731.3 511.1 C731.7 511.1 732.0 508.3 732.3 506.9 C732.6 505.4 732.8 503.9 733.1 502.6 C733.5 501.2 734.0 499.1 734.3 498.8 C734.7 498.8 734.9 500.4 735.2 500.6 C735.4 500.6 735.7 500.2 736.0 500.2 C736.2 500.6 736.4 502.1 736.7 502.8 C736.9 503.5 737.2 504.6 737.5 504.6 C737.7 504.6 737.9 503.3 738.2 502.6 C738.5 501.9 739.1 500.4 739.4 500.4 C739.7 500.5 739.7 501.7 739.9 502.8 C740.2 503.9 740.4 505.5 740.7 506.9 C741.0 508.2 741.5 511.0 741.9 511.0 C742.3 511.0 742.6 508.3 742.9 506.9 C743.2 505.4 743.4 503.9 743.7 502.6 C744.1 501.3 744.6 499.4 744.9 499.0 C745.3 499.0 745.5 500.4 745.7 500.6 C746.0 500.6 746.2 500.3 746.4 500.3 C746.7 500.6 747.0 501.7 747.3 502.3 C747.5 502.8 747.6 503.5 747.8 503.5 C747.9 503.4 747.9 502.1 748.3 501.5 C748.6 500.9 749.6 499.8 750.0 499.8 C750.4 500.0 750.3 501.4 750.5 502.6 C750.7 503.8 751.0 505.5 751.3 506.9 C751.6 508.2 752.1 510.5 752.5 510.5 C752.9 510.5 753.2 508.2 753.5 506.9 C753.8 505.5 754.0 504.0 754.3 502.6 C754.6 501.1 755.2 498.4 755.5 498.3 C755.8 498.3 755.9 501.7 756.1 501.7 C756.4 501.7 756.8 498.2 757.1 498.2 C757.5 498.2 757.9 500.7 758.1 501.7 C758.4 502.7 758.4 504.2 758.6 504.2 C758.8 504.2 759.0 502.4 759.4 501.7 C759.7 501.0 760.3 500.1 760.6 500.1 C760.9 500.3 760.9 501.7 761.1 502.8 C761.3 503.9 761.5 505.5 761.9 506.9 C762.2 508.2 762.8 510.9 763.2 510.9 C763.6 510.9 763.9 508.4 764.2 506.9 C764.5 505.3 764.9 503.6 765.2 501.7 C765.5 499.9 765.9 496.5 766.2 495.7 C766.5 495.7 766.9 496.8 767.2 497.0 C767.5 497.0 767.7 496.9 767.9 496.9 C768.1 497.1 768.2 497.3 768.4 498.1 C768.6 498.9 769.0 501.4 769.2 501.7 C769.5 501.7 769.7 500.7 769.9 500.2 C770.2 499.8 770.7 499.0 770.9 499.0 C771.2 499.0 771.4 499.6 771.7 500.2 C771.9 500.8 772.0 501.5 772.3 502.6 C772.5 503.7 772.7 505.4 773.0 506.9 C773.2 508.3 773.4 511.0 773.7 511.0 C773.9 511.0 774.2 508.3 774.5 506.9 C774.7 505.4 774.9 504.3 775.3 502.6 C775.7 500.9 776.4 497.5 776.8 496.8 C777.2 496.8 777.4 498.3 777.7 498.5 C778.0 498.5 778.1 498.2 778.3 498.2 C778.5 498.4 778.8 499.2 779.0 499.8 C779.2 500.4 779.5 501.7 779.7 501.7 C780.0 501.7 780.2 500.2 780.5 499.8 C780.8 499.3 781.2 499.0 781.5 499.0 C781.8 499.5 782.0 501.3 782.3 502.6 C782.6 503.9 783.0 505.5 783.3 506.9 C783.6 508.3 784.0 510.9 784.3 510.9 C784.5 510.9 784.8 508.3 785.1 506.9 C785.3 505.5 785.5 503.9 785.9 502.6 C786.2 501.2 786.7 499.0 787.1 498.6 C787.4 498.6 787.7 500.0 788.1 500.2 C788.4 500.2 788.8 500.0 789.1 500.0 C789.4 500.3 789.6 501.2 789.8 501.7 C790.0 502.3 790.1 503.3 790.3 503.3 C790.5 503.3 790.6 502.2 790.9 501.7 C791.2 501.2 791.8 500.2 792.1 500.2 C792.5 500.4 792.6 501.5 792.9 502.6 C793.2 503.7 793.5 505.5 793.8 506.9 C794.2 508.3 794.5 510.9 794.8 510.9 C795.1 510.9 795.4 508.3 795.6 506.9 C795.9 505.5 796.1 504.0 796.5 502.6 C796.8 501.1 797.5 498.7 797.9 498.3 C798.2 498.3 798.4 499.9 798.7 500.2 C798.9 500.2 799.2 500.2 799.5 500.2 C799.8 500.5 800.3 501.6 800.5 502.1 C800.7 502.7 800.7 503.5 800.9 503.5 C801.1 503.5 801.2 502.2 801.5 501.7 C801.8 501.2 802.4 500.6 802.7 500.6 C803.0 500.8 803.2 501.5 803.5 502.6 C803.8 503.6 804.2 505.4 804.5 506.9 C804.9 508.3 805.2 511.3 805.5 511.3 C805.8 511.3 806.1 508.3 806.4 506.9 C806.7 505.4 806.9 504.0 807.2 502.6 C807.5 501.2 808.0 499.0 808.2 498.5 C808.5 498.5 808.7 499.5 809.0 499.8 C809.2 500.1 809.5 500.0 809.8 500.4 C810.0 500.9 810.3 502.0 810.6 502.6 C810.8 503.1 811.1 503.6 811.4 503.6 C811.6 503.5 811.8 502.3 812.1 501.7 C812.4 501.2 813.0 500.4 813.3 500.4 C813.6 500.6 813.8 501.5 814.1 502.6 C814.4 503.6 814.7 505.4 815.0 506.9 C815.3 508.3 815.7 511.0 816.0 511.0 C816.3 511.0 816.7 508.3 817.0 506.9 C817.3 505.4 817.5 504.2 817.8 502.6 C818.2 501.0 818.7 497.9 819.0 497.3 C819.4 497.3 819.6 498.8 819.8 499.1 C820.1 499.5 820.1 499.2 820.3 499.6 C820.6 499.9 821.1 500.6 821.4 501.3 C821.6 502.0 821.8 503.4 822.1 503.6 C822.3 503.6 822.5 503.0 822.9 502.6 C823.2 502.1 823.7 501.1 824.1 501.1 C824.4 501.1 824.6 501.6 824.9 502.6 C825.2 503.5 825.4 505.4 825.7 506.9 C826.0 508.3 826.3 511.0 826.6 511.0 C826.9 511.0 827.3 508.3 827.6 506.9 C827.9 505.4 828.1 503.8 828.4 502.6 C828.7 501.3 829.3 499.5 829.6 499.4 C829.9 499.4 829.9 501.6 830.1 501.7 C830.3 501.7 830.7 500.3 830.9 500.3 C831.2 500.5 831.5 502.1 831.7 502.6 C832.0 503.1 832.2 503.4 832.4 503.4 C832.6 503.4 832.6 502.7 832.9 502.1 C833.3 501.6 834.1 500.2 834.5 500.2 C834.8 500.3 835.0 501.5 835.3 502.6 C835.6 503.7 835.9 505.4 836.2 506.9 C836.5 508.3 836.8 511.0 837.2 511.0 C837.5 511.0 837.9 508.3 838.2 506.9 C838.5 505.4 838.7 504.2 839.0 502.6 C839.3 501.0 839.9 497.9 840.2 497.2 C840.5 497.2 840.8 498.2 841.0 498.5 C841.3 498.8 841.5 498.5 841.7 498.8 C842.0 499.1 842.2 499.9 842.5 500.4 C842.8 500.9 843.2 501.7 843.5 501.7 C843.8 501.6 844.0 500.3 844.2 499.8 C844.5 499.3 844.7 498.7 845.0 498.7 C845.3 499.2 845.8 501.2 846.1 502.6 C846.4 503.9 846.6 505.4 846.9 506.9 C847.2 508.3 847.6 511.1 847.9 511.1 C848.2 511.1 848.5 508.3 848.8 506.9 C849.1 505.4 849.2 504.3 849.6 502.6 C849.9 500.8 850.5 497.2 850.8 496.5 C851.1 496.5 851.3 498.0 851.6 498.3 C851.9 498.4 852.3 498.3 852.6 498.4 C852.9 498.9 853.3 500.9 853.6 501.3 C853.9 501.3 854.1 501.0 854.4 500.6 C854.7 500.3 855.1 499.0 855.4 499.0 C855.8 499.4 856.0 501.3 856.3 502.6 C856.7 503.9 857.0 505.4 857.3 506.9 C857.7 508.3 858.1 511.1 858.5 511.1 C858.8 511.1 859.1 508.3 859.4 506.9 C859.6 505.4 859.8 504.1 860.2 502.6 C860.5 501.0 861.0 498.1 861.4 497.5 C861.7 497.5 861.9 498.8 862.2 499.1 C862.5 499.4 862.7 499.1 863.0 499.4 C863.2 499.6 863.5 500.0 863.7 500.6 C863.9 501.3 864.2 502.9 864.4 503.0 C864.7 503.0 864.9 501.7 865.2 501.3 C865.5 500.9 865.9 500.4 866.2 500.4 C866.5 500.6 866.7 501.5 867.0 502.6 C867.3 503.6 867.6 505.4 867.9 506.9 C868.3 508.3 868.6 511.4 868.9 511.4 C869.2 511.4 869.5 508.3 869.7 506.9 C870.0 505.4 870.2 504.0 870.6 502.6 C870.9 501.2 871.6 498.9 872.0 498.5 C872.3 498.5 872.5 499.9 872.8 500.2 C873.0 500.3 873.2 500.2 873.5 500.3 C873.7 500.6 874.1 501.7 874.3 502.1 C874.5 502.6 874.6 503.2 874.8 503.2 C875.0 503.1 875.0 502.1 875.3 501.7 C875.6 501.3 876.2 500.6 876.6 500.6 C877.0 500.8 877.2 501.5 877.5 502.6 C877.8 503.6 878.2 505.4 878.5 506.9 C878.9 508.3 879.2 511.5 879.5 511.5 C879.8 511.5 880.1 508.3 880.3 506.9 C880.6 505.4 880.8 504.1 881.1 502.6 C881.5 501.0 882.2 498.0 882.6 497.4 C882.9 497.4 883.1 499.0 883.4 499.4 C883.6 499.5 883.8 499.4 884.1 499.5 C884.3 499.8 884.6 500.8 884.9 501.3 C885.2 501.7 885.5 502.1 885.9 502.1 C886.3 502.0 886.8 500.5 887.2 500.5 C887.6 500.6 887.9 501.5 888.2 502.6 C888.5 503.6 888.9 505.4 889.2 506.9 C889.5 508.3 889.8 511.3 890.1 511.3 C890.4 511.3 890.7 508.3 890.9 506.9 C891.2 505.4 891.3 504.1 891.7 502.6 C892.1 501.1 892.9 498.5 893.2 498.0 C893.6 498.0 893.7 499.1 893.9 499.4 C894.2 499.7 894.4 499.4 894.7 499.8 C894.9 500.2 895.2 501.2 895.5 501.7 C895.7 502.2 895.7 502.8 896.0 502.8 C896.2 502.8 896.6 502.0 897.0 501.7 C897.3 501.5 897.7 501.3 898.0 501.3 C898.3 501.4 898.5 501.6 898.8 502.6 C899.1 503.5 899.4 505.4 899.7 506.9 C900.0 508.3 900.4 511.3 900.7 511.3 C901.0 511.3 901.2 508.3 901.5 506.9 C901.8 505.4 901.9 503.9 902.3 502.6 C902.7 501.2 903.4 499.0 903.7 498.8 C904.1 498.8 904.3 501.6 904.5 501.7 C904.8 501.7 905.0 499.4 905.2 499.4 C905.5 499.4 905.8 500.7 906.0 501.3 C906.3 501.9 906.3 502.9 906.5 503.0 C906.8 503.0 907.1 502.1 907.3 501.7 C907.6 501.4 907.8 500.9 908.1 500.9 C908.3 500.9 908.6 501.4 908.8 501.7 C909.1 502.0 909.3 501.7 909.6 502.6 C909.8 503.4 910.1 505.4 910.4 506.9 C910.7 508.3 911.0 511.1 911.3 511.1 C911.6 511.1 911.8 508.3 912.1 506.9 C912.3 505.4 912.6 503.8 912.8 502.6 C913.0 501.4 913.1 500.7 913.4 499.6 C913.6 498.4 914.1 496.1 914.4 495.6 C914.7 495.6 914.9 496.4 915.1 496.5 C915.4 496.5 915.6 496.2 915.8 496.2 C916.1 496.6 916.4 498.0 916.6 498.7 C916.9 499.4 917.2 500.3 917.4 500.4 C917.7 500.4 917.9 500.0 918.1 499.8 C918.4 499.6 918.9 499.0 919.1 499.0 C919.4 499.2 919.5 500.1 919.7 500.6 C919.8 501.2 919.9 501.5 920.2 502.6 C920.4 503.6 920.7 505.4 921.0 506.9 C921.2 508.3 921.6 511.3 921.9 511.3 C922.2 511.3 922.4 508.3 922.7 506.9 C922.9 505.4 923.2 503.8 923.4 502.6 C923.6 501.4 923.7 500.6 923.9 499.6 C924.2 498.6 924.5 497.3 924.7 496.6 C924.9 495.8 925.0 495.4 925.2 495.2 C925.4 495.2 925.5 495.3 925.7 495.3 C925.9 495.1 926.2 494.2 926.4 494.2 C926.6 494.4 926.8 495.3 927.0 496.1 C927.2 497.0 927.5 498.4 927.7 499.1 C928.0 499.9 928.2 500.6 928.5 500.6 C928.8 500.6 929.2 499.7 929.5 499.7 C929.8 499.7 930.0 500.4 930.2 500.9 C930.4 501.3 930.5 501.6 930.7 502.6 C931.0 503.6 931.3 505.4 931.6 506.9 C931.8 508.3 932.2 511.4 932.5 511.4 C932.7 511.4 933.0 508.3 933.3 506.9 C933.5 505.4 933.7 503.7 934.0 502.6 C934.2 501.4 934.5 500.8 934.8 500.1 C935.0 499.4 935.2 498.4 935.5 498.4 C935.7 498.4 936.0 499.4 936.3 499.8 C936.5 500.1 936.7 500.2 937.0 500.4 C937.2 500.7 937.6 500.9 937.8 501.3 C938.0 501.7 938.1 502.6 938.3 502.7 C938.5 502.7 938.6 502.0 938.8 501.7 C939.1 501.4 939.5 500.9 939.8 500.9 C940.1 501.0 940.4 502.3 940.6 502.6 C940.9 502.6 941.1 502.6 941.3 502.6 C941.6 503.3 941.9 505.4 942.1 506.9 C942.4 508.3 942.8 511.5 943.0 511.5 C943.3 511.5 943.6 508.3 943.9 506.9 C944.1 505.4 944.4 503.6 944.7 502.6 C944.9 501.5 944.9 501.3 945.1 500.6 C945.3 500.0 945.6 498.9 945.9 498.8 C946.1 498.8 946.4 499.8 946.7 500.0 C946.9 500.1 947.1 500.0 947.4 500.1 C947.7 500.3 948.1 500.7 948.4 501.3 C948.6 501.9 948.7 503.5 948.9 503.5 C949.1 503.5 949.3 502.2 949.6 501.7 C950.0 501.3 950.6 500.9 950.9 500.9 C951.2 501.0 951.5 502.3 951.7 502.6 C951.8 502.6 951.7 502.6 951.9 502.6 C952.1 503.3 952.4 505.5 952.7 506.9 C953.0 508.3 953.3 510.9 953.6 510.9 C953.9 510.9 954.2 508.3 954.4 506.9 C954.7 505.5 954.9 503.6 955.1 502.6 C955.4 501.5 955.5 501.4 955.7 500.6 C955.9 499.9 956.2 498.1 956.5 498.1 C956.7 498.1 957.2 499.8 957.5 500.2 C957.7 500.3 958.0 500.3 958.2 500.3 M958.8 505.0 C959.0 504.8 959.5 504.3 960.0 504.0 C960.5 503.7 961.4 503.0 962.0 503.0 C962.6 503.7 963.0 506.9 963.5 508.0 C964.0 509.1 964.5 509.5 965.0 509.5 C965.5 508.8 966.0 505.4 966.5 504.0 C967.0 502.6 967.4 501.2 968.0 501.0 C968.6 501.0 969.4 502.7 970.0 503.0 C970.6 503.0 970.8 503.0 971.5 503.0 C972.2 503.7 973.4 505.9 974.0 507.0 C974.6 508.1 974.6 509.5 975.0 509.5 C975.4 509.0 975.9 505.6 976.5 504.0 C977.1 502.4 977.9 500.3 978.5 500.0 C979.1 500.0 979.4 501.5 980.0 502.0 C980.6 502.5 981.3 502.0 982.0 503.0 C982.7 504.0 983.4 506.8 984.0 508.0 C984.6 509.2 985.0 510.0 985.5 510.0 C986.0 509.2 986.5 505.1 987.0 503.0 C987.5 500.9 988.0 498.2 988.5 497.5 C989.0 497.5 989.4 498.1 990.0 498.5 C990.6 498.9 991.4 499.4 992.0 500.0 C992.6 500.6 993.0 500.8 993.5 502.0 C994.0 503.2 994.6 506.2 994.8 507.0" stroke="#6a3fb0" stroke-width="1.1"/>
<path d="M42.7 509.8 C43.0 509.3 43.9 509.6 44.5 506.8 C45.1 504.0 45.8 495.0 46.4 492.9 C47.0 492.9 47.7 492.9 48.3 494.4 C48.9 496.1 49.4 500.4 50.1 503.0 C50.8 505.6 51.8 508.7 52.4 509.8 C53.0 509.8 53.4 509.8 53.9 509.8 C54.4 507.7 54.9 500.4 55.4 497.0 C55.9 493.6 56.5 490.0 57.1 489.5 C57.7 489.5 58.2 491.8 58.8 494.0 C59.4 496.2 59.9 500.4 60.6 503.0 C61.3 505.6 62.3 508.6 62.9 509.8 C63.5 510.1 63.5 510.1 64.0 510.1 C64.5 508.0 65.3 499.9 65.9 497.0 C66.5 494.1 67.0 492.5 67.6 492.5 C68.2 492.5 68.9 495.1 69.6 497.0 C70.2 498.9 70.8 501.7 71.5 503.8 C72.2 505.9 73.2 508.8 73.8 509.8 C74.4 509.8 74.4 509.8 74.9 509.8 C75.4 507.7 76.2 499.8 76.8 497.0 C77.4 494.2 77.7 493.3 78.3 493.3 C78.9 493.6 79.8 497.0 80.5 498.5 C81.2 500.0 82.0 500.7 82.8 502.3 C83.5 503.9 84.2 507.4 85.0 508.3 C85.8 508.3 86.5 507.9 87.3 507.5 C88.0 507.1 88.6 506.4 89.5 506.0 C90.4 505.6 91.5 505.3 92.5 505.3 C93.5 505.8 94.6 508.8 95.5 509.0 C96.4 509.0 97.1 507.7 97.8 506.8 C98.5 505.9 98.8 503.6 99.6 503.4 C100.3 503.4 101.5 504.6 102.3 505.3 C103.1 506.0 103.8 506.8 104.5 507.5 C105.2 508.2 105.8 509.4 106.4 509.4 C107.0 508.8 107.7 505.7 108.3 503.8 C108.9 501.9 109.2 498.1 110.0 498.0 C110.8 498.0 112.0 501.1 113.0 503.0 C114.0 504.9 115.0 509.3 116.3 509.3 C117.5 508.7 119.3 500.6 120.5 499.5 C121.7 499.5 122.5 501.6 123.5 503.0 C124.5 504.4 125.5 508.0 126.8 508.0 C128.1 507.1 129.8 498.4 131.0 497.4 C132.2 497.4 132.9 500.1 134.0 502.0 C135.1 503.9 136.0 508.6 137.3 508.6 C138.6 507.7 140.7 497.8 142.0 496.7 C143.3 496.7 143.9 499.9 145.0 502.0 C146.1 504.1 147.3 509.3 148.5 509.3 C149.7 508.9 150.8 500.4 152.0 499.5 C153.2 499.5 154.3 502.5 155.5 504.0 C156.7 505.5 157.5 507.9 159.0 508.6 C160.5 508.6 162.8 508.1 164.6 508.0 C166.4 508.0 168.6 508.0 170.0 508.0 C171.4 507.3 171.8 503.9 173.0 503.7 C174.2 503.7 175.6 506.0 177.2 506.5 C178.8 506.5 180.9 506.5 182.8 506.5 C184.7 506.6 186.5 506.9 188.4 507.0 C190.3 507.1 192.1 507.2 194.0 507.2 C195.9 507.0 197.5 505.8 199.6 505.8 C201.7 505.8 204.7 506.8 206.6 507.2 C208.5 507.6 209.3 508.0 210.8 508.0 C212.3 507.1 214.1 502.0 215.7 501.6 C217.3 501.6 218.8 505.3 220.6 505.8 C222.3 505.8 224.1 504.4 226.2 504.4 C228.3 505.1 231.1 509.2 233.2 510.0 C235.3 510.0 237.9 509.4 238.8 509.3 M266.7 507.8 C267.1 505.4 268.2 495.4 268.8 493.3 C269.4 493.3 269.9 493.6 270.5 495.0 C271.1 496.4 271.8 499.8 272.6 501.8 C273.5 503.9 274.5 507.3 275.6 507.3 C276.7 506.0 278.0 495.4 279.0 494.2 C280.0 494.2 280.8 498.3 281.6 500.1 C282.5 501.9 283.2 503.9 284.1 505.2 C285.0 506.5 285.9 508.2 286.7 508.2 C287.5 506.9 288.4 500.9 289.2 497.6 C290.0 494.3 290.5 489.1 291.3 488.2 C292.1 488.2 293.0 491.1 293.9 492.5 C294.8 493.9 295.6 495.9 296.4 496.3 C297.2 496.3 297.8 496.3 298.5 495.0 C299.2 493.0 299.9 485.7 300.7 484.4 C301.5 484.4 302.4 485.9 303.2 487.4 C304.0 488.9 304.5 491.8 305.4 493.3 C306.3 494.8 307.2 496.3 308.4 496.3 C309.6 496.0 311.4 492.0 312.6 491.6 C313.8 491.6 314.7 493.3 315.6 494.2 C316.5 495.1 317.0 497.1 318.1 497.1 C319.2 496.3 321.3 490.6 322.4 489.5 C323.5 489.5 324.0 489.9 324.9 490.8 C325.8 491.7 326.7 495.0 327.6 495.0 C328.5 495.0 329.2 492.8 330.1 490.8 C331.0 488.8 331.9 483.4 332.7 483.1 C333.5 483.1 334.1 486.6 334.8 489.0 C335.5 491.4 336.0 495.8 336.9 497.6 C337.8 499.4 339.0 499.7 339.9 499.7 C340.8 498.3 341.7 490.9 342.4 489.0 C343.1 488.2 343.5 488.2 344.1 488.2 C344.8 488.5 345.5 489.6 346.3 490.8 C347.1 492.0 348.1 494.7 348.8 495.4 C349.5 495.4 349.6 495.4 350.5 495.0 C351.4 493.3 353.2 486.2 354.3 485.2 C355.4 485.2 355.8 487.6 356.9 489.0 C358.0 490.4 359.5 493.7 360.7 493.7 C361.9 492.4 363.3 482.3 364.3 481.4 C365.3 481.4 365.9 486.1 366.7 488.2 C367.5 490.3 368.4 493.0 369.2 494.2 C370.0 495.4 370.4 495.4 371.3 495.4 C372.2 494.1 373.7 487.1 374.7 486.5 C375.7 486.5 376.4 490.2 377.3 491.6 C378.2 493.0 379.4 494.1 379.8 494.6 M390.0 494.6 C390.5 494.5 391.9 494.6 393.0 494.0 C394.1 493.3 395.4 490.7 396.4 490.3 C397.4 490.3 398.1 491.0 399.0 491.6 C399.9 492.2 401.1 493.3 402.0 493.7 C402.9 494.1 403.7 494.2 404.5 494.2 C405.3 492.6 405.8 485.4 406.6 484.4 C407.4 484.4 408.3 486.7 409.2 488.2 C410.1 489.7 411.2 492.4 412.0 493.5 C412.8 494.6 413.3 495.0 414.0 495.0 C414.7 494.0 415.5 489.6 416.0 487.5 C416.5 485.4 416.6 482.8 417.0 482.5 C417.4 482.5 418.0 484.8 418.5 486.0 C419.0 487.2 419.4 488.5 420.0 490.0 C420.6 491.5 421.3 493.9 422.0 495.0 C422.7 496.1 423.3 496.5 424.0 496.5 C424.7 495.7 425.4 492.5 426.0 490.0 C426.6 487.5 427.0 482.2 427.5 481.5 C428.0 481.5 428.4 484.4 429.0 486.0 C429.6 487.6 430.3 489.5 431.0 491.0 C431.7 492.5 432.3 494.1 433.0 495.0 C433.7 495.9 434.4 496.5 435.0 496.5 C435.6 495.7 436.0 491.7 436.5 490.0 C437.0 488.3 437.3 486.5 437.8 486.5 C438.3 486.5 438.8 488.8 439.5 490.0 C440.2 491.2 441.2 493.0 442.0 494.0 C442.8 495.0 443.8 495.2 444.5 496.0 C445.2 496.8 445.9 498.5 446.5 498.5 C447.1 498.3 447.4 495.7 448.0 495.0 C448.6 494.5 449.0 494.6 450.0 494.5 C451.0 494.5 453.0 494.5 454.0 494.5 C455.0 494.9 455.3 496.3 456.0 497.0 C456.7 497.7 457.3 498.5 458.0 498.5 C458.7 498.4 459.3 496.9 460.0 496.5 C460.7 496.1 461.3 496.0 462.0 496.0 C462.7 496.0 463.3 496.2 464.0 496.5 C464.7 496.8 465.2 498.0 466.0 498.0 C466.8 497.8 468.2 495.7 469.0 495.0 C469.8 494.3 470.3 494.1 471.0 494.0 C471.7 494.0 472.3 494.2 473.0 494.5 C473.7 494.8 474.2 495.9 475.0 496.0 C475.8 496.0 477.2 495.2 477.6 495.0 M478.1 498.7 C478.2 497.9 478.7 495.1 478.9 493.8 C479.1 492.4 479.2 492.4 479.3 490.6 C479.4 488.8 479.4 483.8 479.6 483.0 C479.7 483.0 480.1 485.0 480.3 485.4 C480.5 485.6 480.7 485.4 480.9 485.6 C481.1 486.3 481.4 489.0 481.6 489.5 C481.8 489.5 482.1 488.5 482.3 488.5 C482.5 488.7 482.6 489.4 482.9 490.6 C483.2 491.8 483.7 494.9 483.9 495.7 C484.2 495.7 484.2 495.3 484.4 495.3 C484.6 495.5 484.8 496.3 485.1 496.8 C485.4 497.3 485.8 497.8 486.1 498.1 C486.5 498.4 486.8 498.3 487.1 498.7 C487.4 499.1 487.7 500.3 487.9 500.4 C488.1 500.4 488.1 500.4 488.3 499.6 C488.6 498.5 488.9 495.7 489.2 494.2 C489.4 492.7 489.5 492.1 489.7 490.6 C489.9 489.1 490.1 485.6 490.4 485.2 C490.6 485.2 491.0 487.7 491.2 488.0 C491.4 488.0 491.5 487.0 491.7 486.9 C491.8 486.9 492.0 487.7 492.2 487.8 C492.3 487.8 492.5 487.4 492.7 487.4 C492.9 487.6 493.2 488.7 493.4 489.3 C493.6 489.8 493.7 489.6 493.9 490.6 C494.1 491.5 494.2 493.8 494.4 494.9 C494.6 495.9 494.9 496.3 495.2 497.0 C495.5 497.7 495.8 498.5 496.0 499.1 C496.3 499.8 496.4 500.4 496.7 500.9 C497.0 501.3 497.4 501.4 497.7 501.7 C498.1 502.1 498.4 503.0 498.7 503.0 C499.0 502.3 499.3 499.4 499.5 497.4 C499.7 495.4 499.8 492.4 500.0 491.0 C500.2 489.6 500.2 489.0 500.4 489.0 C500.7 489.2 501.1 492.6 501.4 492.6 C501.7 492.6 502.0 489.7 502.3 488.9 C502.5 488.0 502.6 487.9 502.8 487.6 C503.0 487.2 503.2 486.7 503.5 486.7 C503.7 486.9 504.1 487.9 504.3 488.6 C504.5 489.4 504.6 490.0 504.8 491.0 C504.9 492.0 505.1 493.8 505.2 494.4 C505.3 494.9 505.3 494.4 505.5 494.9 C505.7 495.5 506.0 497.1 506.3 498.1 C506.6 499.1 507.1 500.1 507.3 500.9 C507.6 501.6 507.6 502.0 507.8 502.6 C508.1 503.1 508.6 503.8 508.8 504.1 C509.1 504.3 509.1 504.3 509.3 504.3 C509.6 504.1 510.0 503.3 510.3 502.8 C510.6 502.3 510.9 501.5 511.1 501.3 C511.4 501.3 511.6 501.5 511.8 501.7 C512.1 501.9 512.5 502.0 512.8 502.4 C513.2 502.7 513.6 503.3 513.9 503.6 C514.1 504.0 514.1 504.1 514.4 504.3 C514.6 504.5 515.0 504.7 515.4 504.9 C515.7 505.2 516.0 505.5 516.4 505.8 C516.7 506.1 517.0 506.3 517.4 506.5 C517.7 506.8 518.1 507.0 518.4 507.3 C518.7 507.5 519.1 508.0 519.4 508.0 C519.7 508.0 519.9 508.0 520.2 507.1 C520.4 506.0 520.7 503.1 520.9 501.7 C521.1 500.4 521.3 499.7 521.4 499.0 C521.6 498.4 521.7 498.0 521.9 498.0 C522.2 498.1 522.6 499.0 522.9 499.6 C523.2 500.1 523.4 501.0 523.6 501.3 C523.8 501.3 524.0 501.1 524.2 501.1 C524.4 501.1 524.5 501.5 524.7 501.7 C524.9 502.0 525.1 502.1 525.2 502.6 C525.4 503.0 525.5 503.7 525.6 504.3 C525.7 504.9 525.7 504.6 525.9 506.0 C526.0 507.4 526.0 511.2 526.2 512.4 C526.4 513.3 526.8 513.2 527.0 513.3 C527.2 513.3 527.2 513.1 527.5 513.0 C527.7 512.8 528.2 512.4 528.5 512.2 C528.7 512.0 528.8 511.6 529.0 511.6 C529.2 511.6 529.5 512.1 529.7 512.2 C530.0 512.4 530.2 512.4 530.5 512.4 C530.8 512.4 531.2 512.3 531.5 512.3 C531.8 512.3 532.2 512.4 532.5 512.4 C532.8 512.4 533.2 512.4 533.5 512.2 C533.9 512.1 534.3 511.8 534.5 511.6 C534.8 511.4 534.8 511.1 535.0 511.1 C535.2 511.1 535.5 511.5 535.8 511.6 C536.0 511.6 536.3 511.5 536.5 511.4 C536.8 511.3 537.0 510.9 537.3 510.9 C537.5 511.0 537.8 511.4 538.1 511.6 C538.3 511.7 538.7 511.8 539.1 511.9 C539.4 512.0 539.7 512.0 540.1 512.0 C540.4 511.9 540.7 511.7 541.1 511.6 C541.4 511.4 541.8 511.3 542.1 511.3 C542.4 511.3 542.6 511.7 542.8 511.7 C543.1 511.7 543.3 511.4 543.6 511.4 C543.9 511.3 544.3 511.1 544.6 511.1 C544.9 511.2 545.3 511.9 545.6 511.9 C546.0 511.9 546.3 511.5 546.6 511.4 C547.0 511.3 547.3 511.3 547.6 511.3 C548.0 511.3 548.3 511.6 548.6 511.7 C549.0 511.8 549.5 511.9 549.6 512.0 M559.2 511.9 C559.5 511.9 560.2 511.7 560.7 511.7 C561.2 511.7 561.7 512.0 562.2 512.0 C562.8 511.9 563.3 511.6 563.8 511.4 C564.3 511.1 564.9 510.9 565.3 510.7 C565.6 510.6 565.5 510.5 565.8 510.5 C566.0 510.6 566.5 511.1 566.8 511.1 C567.1 511.1 567.5 510.8 567.8 510.3 C568.1 509.8 568.4 508.0 568.6 508.0 C568.8 508.1 568.9 510.2 569.1 510.8 C569.2 511.5 569.1 511.8 569.3 512.0 C569.6 512.2 570.3 512.2 570.8 512.2 C571.3 512.2 571.9 512.2 572.3 512.1 C572.8 512.0 573.0 511.9 573.3 511.6 C573.7 511.3 574.0 510.6 574.3 510.3 C574.7 509.9 575.0 509.6 575.4 509.4 C575.7 509.4 576.0 509.4 576.4 509.4 C576.7 509.5 577.1 509.6 577.4 510.1 C577.7 510.5 577.9 512.0 578.1 512.2 C578.3 512.2 578.4 511.8 578.6 511.4 C578.9 510.9 579.3 509.8 579.7 509.6 C580.1 509.6 580.4 510.4 580.9 510.7 C581.4 511.0 582.1 511.1 582.4 511.3 C582.7 511.4 582.8 511.3 582.9 511.4 M591.0 509.0 C591.2 509.2 592.1 509.9 592.5 510.1 C592.9 510.3 593.2 510.3 593.5 510.3 C593.8 510.0 594.2 509.5 594.5 508.6 C594.8 507.6 595.3 505.9 595.5 504.7 C595.8 503.6 595.9 502.7 596.0 501.7 C596.2 500.7 596.4 498.9 596.5 498.7 C596.7 498.7 596.9 500.1 597.0 500.6 C597.2 501.2 597.3 501.6 597.5 501.9 C597.8 502.3 598.3 502.1 598.5 502.8 C598.8 503.4 599.0 505.3 599.3 505.8 C599.5 505.8 599.8 505.8 600.1 505.8 C600.4 506.0 600.6 506.5 601.1 506.9 C601.5 507.2 602.2 507.5 602.6 507.9 C603.0 508.3 603.2 509.0 603.6 509.2 C603.9 509.2 604.3 509.1 604.6 509.0 C604.9 508.9 605.3 509.0 605.6 508.8 C605.9 508.5 606.3 507.8 606.6 507.5 C606.9 507.2 607.3 507.1 607.6 507.1 C608.0 507.1 608.3 507.2 608.6 507.3 C609.0 507.4 609.3 507.4 609.6 507.5 C610.0 507.6 610.3 507.9 610.6 507.9 C611.0 507.9 611.3 507.7 611.7 507.7 C612.0 507.8 612.3 508.4 612.7 508.6 C613.0 508.8 613.3 508.9 613.7 509.0 C614.0 509.1 614.3 509.4 614.7 509.4 C615.0 509.4 615.3 509.4 615.7 508.8 C616.0 508.1 616.4 505.9 616.7 505.1 C617.0 504.4 617.4 504.3 617.7 504.3 C618.0 504.3 618.4 504.8 618.7 504.9 C619.0 505.1 619.4 505.0 619.7 505.4 C620.1 505.7 620.5 506.5 620.7 506.9 C621.0 507.2 621.0 507.6 621.2 507.6 C621.5 507.4 621.9 505.6 622.2 505.6 C622.6 505.6 622.9 507.1 623.2 507.5 C623.6 507.9 623.9 508.0 624.3 508.1 C624.6 508.3 625.0 508.3 625.3 508.4 C625.6 508.5 625.8 508.8 626.1 508.8 C626.3 508.4 626.6 507.2 626.8 506.0 C627.0 504.8 627.1 504.1 627.3 501.7 C627.4 499.3 627.5 492.5 627.8 491.5 C628.0 491.5 628.5 494.7 628.8 496.1 C629.1 497.6 629.5 499.1 629.8 500.2 C630.1 501.3 630.1 501.6 630.3 502.6 C630.6 503.5 630.8 505.0 631.3 505.8 C631.8 506.5 632.7 506.6 633.3 507.1 C633.9 507.6 634.4 508.4 634.8 508.8 C635.3 509.2 635.5 509.4 635.8 509.4 C636.2 509.3 636.6 508.9 636.9 508.1 C637.1 507.4 637.3 506.0 637.6 504.7 C637.8 503.5 638.0 501.8 638.2 500.6 C638.3 499.5 638.3 498.2 638.4 497.6 C638.5 497.4 638.7 497.4 638.9 497.4 C639.1 497.6 639.3 498.3 639.6 498.7 C639.8 499.2 640.1 499.6 640.4 500.2 C640.7 500.9 640.9 501.7 641.2 502.6 C641.4 503.4 641.5 504.8 641.9 505.4 C642.3 505.8 642.9 505.4 643.4 505.8 C643.9 506.2 644.5 507.1 644.9 507.7 C645.4 508.3 645.8 509.0 646.2 509.2 C646.6 509.2 646.9 509.2 647.2 508.8 C647.6 508.0 648.0 506.8 648.2 504.7 C648.5 502.6 648.5 499.1 648.6 496.4 C648.7 493.6 648.8 488.7 649.0 488.2 C649.1 488.2 649.4 492.0 649.7 493.1 C649.9 494.2 650.2 494.3 650.5 494.9 C650.8 495.4 651.1 495.6 651.5 496.6 C651.8 497.6 652.2 499.5 652.5 500.9 C652.7 502.3 652.7 503.8 653.0 504.9 C653.3 506.1 654.0 507.2 654.5 507.9 C655.0 508.7 655.4 509.3 655.7 509.4 C656.0 509.4 656.1 509.4 656.5 509.0 C656.9 508.6 657.7 508.1 658.0 506.9 C658.4 505.6 658.5 504.5 658.7 501.7 C659.0 498.9 659.3 491.6 659.5 490.0 C659.8 490.0 660.0 491.8 660.2 492.5 C660.5 493.2 660.6 494.4 660.9 494.4 C661.1 494.4 661.5 492.9 661.8 492.9 C662.0 493.4 662.2 495.4 662.4 497.0 C662.5 498.6 662.6 501.1 662.9 502.6 C663.2 504.0 663.7 505.0 664.1 505.6 C664.4 505.8 664.7 505.6 665.1 505.8 C665.4 506.2 665.7 507.4 666.1 507.9 C666.5 508.4 667.0 508.6 667.4 508.8 C667.8 509.0 668.1 509.0 668.4 509.0 C668.7 508.5 669.1 507.0 669.4 505.8 C669.7 504.6 669.9 503.2 670.1 501.7 C670.3 500.3 670.4 498.8 670.6 497.0 C670.8 495.2 671.1 492.7 671.4 491.0 C671.7 489.3 672.2 486.9 672.4 486.7 C672.7 486.7 673.0 488.3 673.2 489.9 C673.3 491.5 673.3 494.2 673.5 496.4 C673.6 498.5 673.5 501.2 673.9 502.6 C674.3 503.9 675.1 503.9 675.7 504.4 C676.2 504.9 676.8 504.9 677.2 505.8 C677.6 506.6 677.9 508.9 678.2 509.4 C678.5 509.4 678.9 509.4 679.2 509.0 C679.5 508.4 679.9 506.6 680.2 505.8 C680.5 505.0 680.9 504.6 681.2 504.3 C681.5 504.0 681.8 503.9 682.0 503.9 C682.3 504.0 682.5 505.4 682.7 505.4 C683.0 505.4 683.3 503.9 683.5 503.9 C683.8 504.0 684.0 505.8 684.2 506.2 C684.5 506.6 684.9 506.6 685.2 506.6 C685.6 506.5 685.9 505.4 686.3 505.4 C686.6 505.7 687.0 508.3 687.3 508.6 C687.5 508.6 687.5 507.7 687.8 507.1 C688.0 506.4 688.4 505.3 688.8 504.7 C689.1 504.1 689.5 503.7 689.8 503.3 C690.0 503.0 690.0 502.9 690.3 502.6 C690.5 502.2 691.0 501.8 691.3 501.2 C691.6 500.6 692.0 499.7 692.3 499.0 C692.6 498.4 693.0 497.4 693.3 497.4 C693.6 497.5 693.8 498.6 694.0 499.6 C694.3 500.5 694.5 501.9 694.8 503.0 C695.1 504.1 695.5 506.1 695.8 506.4 C696.2 506.4 696.6 504.7 697.0 504.7 C697.5 505.0 698.0 507.1 698.4 507.9 C698.7 508.8 699.0 509.7 699.4 509.9 C699.7 509.9 700.0 509.9 700.4 509.0 C700.7 508.1 701.0 505.9 701.4 504.7 C701.7 503.5 702.1 502.5 702.4 501.7 C702.6 500.9 702.7 500.1 702.9 500.0 C703.1 500.0 703.2 500.8 703.4 501.2 C703.6 501.6 703.6 501.9 703.9 502.6 C704.2 503.2 704.6 504.7 704.9 504.9 C705.2 504.9 705.6 504.2 705.9 504.2 C706.2 504.6 706.4 507.1 706.7 507.7 C707.0 507.7 707.4 507.7 707.7 507.7 C708.1 507.9 708.4 508.5 708.7 508.8 C709.1 509.1 709.6 509.6 709.9 509.6 C710.3 509.6 710.6 509.3 711.0 508.6 C711.3 507.9 711.7 506.4 712.0 505.6 C712.2 504.8 712.4 503.6 712.6 503.6 C712.7 504.8 712.8 510.7 713.0 512.4 C713.1 514.1 713.3 514.1 713.5 514.1 C713.7 512.9 714.0 506.6 714.1 504.9 C714.3 504.3 714.3 504.3 714.5 504.3 C714.7 504.4 714.9 505.1 715.2 505.8 C715.4 506.4 715.8 508.1 716.0 508.3 C716.2 508.3 716.3 507.1 716.5 506.5 C716.8 506.0 717.2 505.4 717.5 504.9 C717.8 504.4 718.2 503.6 718.5 503.6 C718.9 503.6 719.2 504.5 719.5 504.9 C719.9 505.3 720.2 506.0 720.5 506.0 C720.9 506.0 721.2 505.6 721.5 504.9 C721.8 504.2 722.0 502.8 722.3 501.7 C722.6 500.6 722.8 498.5 723.1 498.3 C723.3 498.3 723.6 499.7 723.9 500.4 C724.1 501.1 724.2 501.4 724.6 502.6 C724.9 503.7 725.6 506.4 726.1 507.3 C726.6 507.7 727.1 507.5 727.6 507.7 C728.1 508.0 728.7 508.4 729.1 508.8 C729.6 509.2 729.9 509.7 730.3 510.1 C730.7 510.5 731.0 511.1 731.3 511.3 C731.6 511.3 731.8 511.3 732.1 510.7 C732.4 510.2 732.9 508.9 733.1 507.9 C733.4 507.0 733.5 506.0 733.6 504.9 C733.8 503.9 733.9 502.0 734.1 501.7 C734.4 501.7 734.8 502.7 735.2 503.0 C735.5 503.3 735.8 503.3 736.2 503.6 C736.5 504.0 736.8 504.4 737.2 504.9 C737.5 505.5 737.8 506.2 738.2 507.1 C738.5 507.9 738.8 509.4 739.2 510.0 C739.6 510.6 740.0 510.5 740.4 510.7 C740.8 510.9 741.3 511.0 741.7 511.0 C742.1 510.8 742.4 510.1 742.7 509.0 C743.1 507.9 743.5 506.1 743.7 504.7 C744.0 503.4 744.0 501.4 744.2 500.9 C744.4 500.9 744.7 501.4 745.0 501.7 C745.2 502.0 745.4 501.7 745.7 502.6 C746.1 503.6 746.7 506.9 747.3 507.9 C747.8 508.6 748.3 508.3 748.8 508.6 C749.2 508.8 749.4 509.1 749.8 509.4 C750.1 509.8 750.5 510.4 750.8 510.7 C751.1 511.0 751.2 511.4 751.5 511.4 C751.8 511.4 752.1 511.0 752.5 510.7 C752.9 510.4 753.3 509.8 753.8 509.4 C754.3 509.0 754.8 508.6 755.3 508.4 C755.8 508.1 756.4 507.9 756.8 507.7 C757.3 507.6 757.5 507.4 757.8 507.4 C758.2 507.4 758.7 507.4 759.1 507.4 C759.6 507.5 759.9 507.8 760.4 508.1 C760.8 508.5 761.4 509.2 761.9 509.6 C762.4 510.1 763.0 510.9 763.4 510.9 C763.8 510.5 764.0 508.2 764.4 507.1 C764.8 505.9 765.2 504.4 765.6 504.1 C766.0 504.1 766.3 504.7 766.6 504.9 C766.9 505.1 767.3 505.1 767.6 505.4 C768.0 505.6 768.3 506.0 768.6 506.4 C769.0 506.9 769.4 507.8 769.6 507.9 C769.9 507.9 770.0 507.4 770.2 507.3 C770.5 507.3 770.7 507.3 770.9 507.5 C771.2 507.8 771.4 508.5 771.7 509.0 C771.9 509.5 772.1 509.9 772.5 510.3 C772.8 510.6 773.3 511.1 773.7 511.1 C774.0 510.9 774.2 510.1 774.5 509.0 C774.7 507.9 775.0 506.4 775.3 504.7 C775.5 503.0 775.7 499.4 776.0 498.6 C776.3 498.6 776.7 499.6 777.0 500.2 C777.3 500.8 777.8 501.7 778.0 502.1 C778.3 502.6 778.3 502.1 778.5 502.8 C778.8 503.6 779.2 506.0 779.5 506.9 C779.9 507.7 780.2 507.5 780.5 507.7 C780.9 507.9 781.2 507.9 781.5 508.1 C781.9 508.4 782.2 508.6 782.5 509.0 C782.8 509.4 783.1 509.9 783.3 510.3 C783.6 510.7 783.8 511.5 784.1 511.5 C784.3 511.3 784.8 510.4 785.1 509.4 C785.3 508.5 785.5 507.7 785.8 505.8 C786.0 503.9 786.1 498.9 786.4 498.0 C786.6 498.0 787.1 499.4 787.4 500.0 C787.7 500.6 787.8 501.1 788.1 501.3 C788.3 501.3 788.6 501.3 788.8 501.3 C789.0 501.5 788.9 501.6 789.1 502.6 C789.3 503.5 789.8 505.9 790.1 506.9 C790.4 507.8 790.8 507.8 791.1 508.1 C791.4 508.5 791.8 508.7 792.1 508.8 C792.4 508.8 792.6 508.6 792.8 508.6 C793.1 508.8 793.3 509.6 793.6 509.9 C793.9 510.1 794.3 510.3 794.6 510.3 C795.0 510.1 795.3 509.9 795.6 509.0 C795.9 508.1 796.3 508.1 796.5 504.7 C796.7 501.4 796.7 492.1 796.9 488.9 C797.0 485.7 797.2 485.9 797.5 485.5 C797.7 485.5 797.9 486.0 798.2 486.7 C798.4 487.4 798.6 489.4 798.9 489.9 C799.1 490.1 799.5 489.9 799.7 490.1 C799.9 491.1 800.0 494.4 800.2 495.5 C800.3 496.6 800.3 495.8 800.5 497.0 C800.7 498.2 800.9 501.3 801.2 502.6 C801.5 503.9 801.9 504.0 802.2 504.7 C802.5 505.4 802.9 506.1 803.2 506.9 C803.5 507.6 803.9 508.4 804.2 509.0 C804.6 509.6 804.9 510.1 805.2 510.3 C805.5 510.3 805.7 510.3 805.9 510.3 C806.2 509.5 806.5 507.1 806.7 505.8 C807.0 504.5 807.1 504.3 807.2 502.6 C807.4 500.8 807.5 495.9 807.7 495.2 C808.0 495.2 808.3 497.8 808.6 498.1 C808.8 498.1 809.2 496.9 809.5 496.9 C809.7 497.2 810.0 498.8 810.3 499.8 C810.5 500.7 810.7 501.4 811.0 502.6 C811.2 503.8 811.5 505.9 811.8 506.9 C812.0 507.8 812.3 508.1 812.6 508.4 C812.8 508.4 813.1 508.1 813.3 508.1 C813.5 508.3 813.7 508.7 814.0 509.0 C814.3 509.3 814.7 509.5 815.0 509.9 C815.3 510.2 815.7 511.0 816.0 511.0 C816.3 510.9 816.5 510.1 816.8 509.0 C817.1 507.9 817.4 507.0 817.6 504.7 C817.8 502.5 817.9 496.6 818.1 495.5 C818.4 495.5 818.8 497.4 819.0 498.1 C819.3 498.7 819.4 499.1 819.6 499.4 C819.9 499.6 820.1 499.4 820.3 499.6 C820.6 500.1 820.8 501.4 821.1 502.6 C821.3 503.8 821.6 505.8 821.9 506.9 C822.2 507.9 822.5 508.4 822.9 508.8 C823.2 509.0 823.5 508.8 823.9 509.0 C824.2 509.2 824.5 509.8 824.9 510.1 C825.3 510.4 825.8 510.8 826.1 510.8 C826.4 510.5 826.7 508.9 826.9 508.1 C827.1 507.3 827.2 506.7 827.4 506.0 C827.6 505.3 827.9 504.1 828.2 504.1 C828.4 504.4 828.5 507.6 828.9 508.1 C829.3 508.1 829.9 507.7 830.4 507.3 C830.9 506.9 831.4 505.8 831.9 505.8 C832.4 505.8 832.9 506.6 833.5 507.1 C834.0 507.6 834.5 508.2 835.0 508.8 C835.5 509.4 836.1 510.8 836.5 510.8 C836.9 510.8 837.1 509.7 837.5 509.0 C837.8 508.3 838.2 507.5 838.5 506.9 C838.8 506.2 839.2 505.4 839.5 505.1 C839.8 505.0 840.2 505.0 840.5 505.0 C840.8 505.1 841.0 505.7 841.2 505.8 C841.5 505.8 841.7 505.4 842.0 505.4 C842.3 505.5 842.7 506.5 843.0 506.9 C843.4 507.3 843.7 507.5 844.0 507.7 C844.4 507.9 844.7 507.8 845.0 508.1 C845.4 508.5 845.9 509.2 846.3 509.6 C846.6 510.1 846.9 510.5 847.3 510.8 C847.6 511.1 848.0 511.4 848.3 511.4 C848.6 511.1 848.8 510.1 849.1 509.0 C849.3 507.9 849.7 506.3 849.9 504.7 C850.1 503.2 850.0 500.3 850.1 499.8 C850.2 499.8 850.3 501.0 850.6 501.7 C850.9 502.4 851.7 503.2 852.1 503.9 C852.5 504.5 852.8 505.1 853.1 505.8 C853.4 506.5 853.8 507.1 854.1 507.9 C854.5 508.8 854.8 510.1 855.1 510.7 C855.5 511.3 855.8 511.2 856.1 511.4 C856.4 511.5 856.7 511.8 856.9 511.8 C857.2 511.8 857.4 511.4 857.6 511.4 C857.9 511.4 858.4 511.8 858.7 511.8 C858.9 511.4 859.1 510.2 859.4 509.0 C859.6 507.8 860.0 506.3 860.2 504.7 C860.4 503.1 860.4 500.2 860.7 499.4 C860.9 499.4 861.3 499.4 861.7 499.8 C862.0 500.3 862.4 501.6 862.7 502.6 C863.0 503.6 863.4 505.0 863.7 505.8 C864.0 506.6 864.0 506.9 864.2 507.3 C864.5 507.7 864.9 507.9 865.2 508.1 C865.5 508.4 865.9 508.3 866.2 508.6 C866.6 508.9 866.9 509.7 867.2 510.1 C867.6 510.5 867.9 510.9 868.2 511.0 C868.6 511.0 869.0 511.0 869.2 510.7 C869.5 510.1 869.6 508.4 869.7 507.1 C869.9 505.7 870.0 504.6 870.3 502.6 C870.5 500.5 871.0 495.5 871.3 494.6 C871.6 494.6 871.8 497.2 872.1 497.6 C872.3 497.6 872.5 497.6 872.8 497.2 C873.0 496.7 873.2 494.5 873.5 494.5 C873.7 494.6 874.0 496.3 874.3 497.4 C874.6 498.6 874.8 500.6 875.1 501.3 C875.3 501.7 875.6 501.7 875.8 501.7 C876.0 501.7 876.3 501.5 876.5 501.5 C876.7 501.6 876.9 502.0 877.1 502.6 C877.3 503.1 877.5 504.1 877.8 504.7 C878.1 505.3 878.5 506.0 878.8 506.0 C879.2 506.0 879.6 505.3 879.8 504.7 C880.1 504.1 880.1 504.0 880.3 502.6 C880.5 501.2 880.9 498.4 881.1 496.4 C881.3 494.3 881.4 490.8 881.6 490.0 C881.9 490.0 882.1 490.9 882.4 491.6 C882.6 492.4 882.9 494.3 883.2 494.6 C883.4 494.6 883.8 493.8 884.0 493.8 C884.2 494.1 884.2 495.5 884.4 496.4 C884.5 497.3 884.7 498.1 884.9 499.1 C885.1 500.2 885.3 502.0 885.6 502.6 C885.8 502.6 886.0 502.6 886.4 502.6 C886.8 502.9 887.5 504.1 887.9 504.7 C888.3 505.3 888.6 505.9 888.9 506.2 C889.2 506.6 889.4 506.9 889.7 506.9 C890.0 506.8 890.6 506.5 890.9 505.8 C891.3 505.1 891.6 503.8 891.9 502.6 C892.2 501.4 892.4 499.4 892.6 498.7 C892.9 498.5 893.2 498.7 893.4 498.5 C893.7 498.3 894.0 497.3 894.2 497.3 C894.5 497.4 894.8 498.3 895.0 499.1 C895.2 500.0 895.2 501.7 895.5 502.6 C895.7 503.4 896.1 503.9 896.5 504.3 C896.8 504.6 897.3 504.5 897.7 504.7 C898.0 505.0 898.4 505.5 898.7 505.8 C899.0 506.1 899.2 506.3 899.5 506.3 C899.8 506.3 900.2 506.1 900.5 505.8 C900.8 505.5 901.2 505.1 901.5 504.7 C901.8 504.4 902.2 504.0 902.5 503.6 C902.9 503.3 903.2 503.0 903.5 502.6 C903.9 502.2 904.1 501.7 904.5 501.3 C905.0 500.9 905.6 500.4 906.0 500.2 C906.5 500.0 906.7 500.2 907.1 500.0 C907.4 499.8 907.7 498.9 908.1 498.9 C908.4 499.2 908.8 501.1 909.1 501.7 C909.3 502.3 909.3 502.2 909.6 502.6 C909.8 502.9 910.2 503.5 910.6 503.9 C910.9 504.2 911.3 504.5 911.6 504.5 C911.9 504.5 912.3 504.3 912.6 503.6 C912.8 503.0 912.8 500.8 913.1 500.4 C913.4 500.4 913.8 501.4 914.1 501.7 C914.4 502.1 914.8 502.3 915.1 502.6 C915.5 502.8 915.8 503.2 916.1 503.2 C916.5 503.2 916.7 502.6 917.1 502.6 C917.6 502.6 918.1 503.0 918.6 503.4 C919.1 503.8 919.7 504.5 920.2 504.9 C920.7 505.3 921.2 505.8 921.7 505.8 C922.1 505.8 922.3 505.3 922.7 504.7 C923.0 504.2 923.4 504.2 923.7 502.6 C923.9 501.0 924.0 495.9 924.2 495.1 C924.4 495.1 924.6 497.1 924.9 497.4 C925.1 497.4 925.5 497.2 925.7 497.0 C926.0 496.8 926.2 496.2 926.4 496.2 C926.6 496.4 926.7 497.2 926.9 498.1 C927.1 498.9 927.4 500.5 927.6 501.3 C927.8 502.0 928.0 502.4 928.2 502.6 C928.5 502.6 928.8 502.6 929.2 502.6 C929.7 502.9 930.3 504.3 930.7 504.7 C931.2 505.1 931.7 504.9 932.0 505.1 C932.3 505.4 932.3 506.4 932.6 506.4 C932.8 506.4 933.0 505.4 933.3 504.7 C933.5 504.1 933.9 503.3 934.3 502.6 C934.6 501.9 934.9 500.7 935.3 500.4 C935.6 500.4 935.9 500.9 936.3 500.9 C936.7 500.7 937.2 499.3 937.6 499.3 C938.0 499.3 938.3 500.9 938.6 501.3 C938.9 501.3 939.1 501.3 939.3 501.3 C939.5 500.7 939.9 497.6 940.0 497.6 C940.2 497.9 940.1 501.5 940.3 502.6 C940.5 503.6 941.0 503.8 941.3 504.1 C941.7 504.3 942.0 504.1 942.3 504.3 C942.6 504.5 942.9 505.3 943.1 505.3 C943.4 505.2 943.6 504.5 943.9 504.1 C944.1 503.6 944.6 504.1 944.9 502.6 C945.1 500.4 945.0 492.7 945.2 491.3 C945.4 491.3 945.7 493.9 946.1 494.0 C946.4 494.0 946.8 492.0 947.1 491.6 C947.4 491.6 947.6 491.6 947.9 492.1 C948.2 492.7 948.5 494.6 948.7 495.5 C948.9 496.4 948.9 496.4 949.1 497.4 C949.3 498.5 949.6 500.9 949.9 501.7 C950.2 502.6 950.6 502.3 950.9 502.6 C951.2 502.9 951.5 503.4 951.7 503.6 C952.0 503.9 952.1 504.0 952.4 504.2 C952.8 504.3 953.4 504.6 953.7 504.6 C954.1 504.5 954.2 503.8 954.4 503.4 C954.7 503.1 955.0 503.4 955.1 502.6 C955.3 500.8 955.3 494.8 955.4 492.7 C955.6 490.6 955.8 490.7 955.9 490.1 C956.1 489.6 956.3 489.4 956.5 489.4 C956.7 489.4 956.9 489.7 957.2 490.1 C957.4 490.6 957.6 491.5 957.8 491.9 C957.9 492.2 958.1 492.1 958.2 492.2 M958.8 502.0 C959.0 502.2 959.1 502.7 960.0 503.0 C960.9 503.3 962.9 504.0 964.0 504.0 C965.1 502.3 965.8 495.4 966.5 493.0 C967.2 490.6 967.5 489.5 968.0 489.5 C968.5 489.7 969.0 492.4 969.5 494.0 C970.0 495.6 970.4 497.8 971.0 499.0 C971.6 500.2 972.4 500.3 973.0 501.0 C973.6 501.7 974.0 502.8 974.5 503.0 C975.0 503.0 975.4 502.4 976.0 502.0 C976.6 501.6 977.3 500.5 978.0 500.5 C978.7 500.5 979.2 501.4 980.0 502.0 C980.8 502.6 982.2 503.5 983.0 504.0 C983.8 504.5 984.3 505.0 985.0 505.0 C985.7 504.8 986.4 504.1 987.0 503.0 C987.6 501.9 988.0 499.2 988.5 498.5 C989.0 498.5 989.4 498.7 990.0 499.0 C990.6 499.3 991.2 500.0 992.0 500.5 C992.8 501.0 994.3 501.8 994.8 502.0" stroke="#ef9f4a" stroke-width="1.1"/>
<path d="M42.7 478.8 L477.6 478.8 M478.1 478.6 L522.4 478.6 L523.9 478.6 L524.7 478.7 L525.2 478.8 L525.7 479.7 L526.1 481.6 L526.3 491.0 L526.4 512.4 L526.7 513.5 L527.5 512.6 L528.0 510.8 L528.5 512.6 L530.0 512.6 L547.6 512.5 L557.7 512.5 L567.3 512.4 L568.3 511.9 L569.3 512.3 L577.9 512.3 L578.6 512.2 L578.9 502.6 L579.7 497.0 L580.2 496.4 L580.9 495.9 L582.4 495.1 L583.9 494.7 L584.9 494.6 L585.4 493.8 L585.9 491.6 L586.2 490.6 L586.4 489.6 L587.5 484.6 L588.5 480.3 L589.0 479.7 L590.0 479.6 L593.0 479.6 L596.0 479.6 L599.0 479.3 L602.1 479.3 L611.1 479.3 L612.7 479.4 L617.2 479.5 L621.2 479.4 L629.3 479.3 L630.3 478.7 L673.7 478.6 L702.9 478.6 L703.9 478.7 L705.4 479.1 L706.9 478.7 L712.0 478.7 L712.3 491.0 L712.5 514.5 L713.7 514.5 L714.2 491.0 L714.5 479.2 L715.0 478.9 L719.0 478.8 L725.1 478.7 L739.2 478.6 L769.4 478.7 L779.5 478.7 L809.8 478.6 L837.0 478.6 L837.5 478.8 L838.0 478.6 L887.9 478.6 L889.4 478.7 L892.9 478.6 L900.5 478.7 L910.6 478.6 L916.6 478.5 L930.7 478.7 L958.2 478.6 M958.8 478.5 L994.8 478.5" stroke="#4cae4c" stroke-width="1.3"/>
<path d="M42.7 480.1 L120.0 480.1 L121.0 480.8 L122.0 480.1 L396.0 480.1 L397.6 481.8 L399.0 480.1 L421.0 480.3 L422.0 481.3 L423.0 480.3 L451.0 480.3 L452.0 481.3 L453.0 480.3 L462.0 480.3 L463.0 481.1 L464.0 480.3 L477.6 480.1 M478.1 481.0 L478.6 480.5 L479.6 480.2 L482.1 480.3 L484.6 480.2 L487.1 480.3 L489.7 480.2 L492.2 480.4 L494.7 480.3 L497.2 480.3 L499.7 480.2 L502.3 480.4 L504.8 480.3 L507.3 480.2 L509.8 480.3 L512.3 480.3 L514.9 480.3 L516.4 480.4 L517.4 480.7 L518.9 480.4 L521.4 480.2 L522.9 480.4 L523.7 480.4 L524.2 480.9 L524.5 481.5 L524.8 480.7 L525.2 480.9 L525.6 483.0 L526.0 485.6 L526.3 496.4 L526.6 512.4 L527.0 514.0 L527.5 513.7 L528.0 514.0 L568.3 514.0 L568.8 513.9 L569.3 514.0 L577.9 514.0 L578.9 513.9 L579.4 513.5 L579.9 502.6 L580.9 501.7 L581.9 500.6 L582.9 500.2 L583.9 500.2 L584.7 500.4 L585.4 500.0 L586.1 498.1 L587.0 494.9 L587.8 492.7 L588.2 490.6 L588.5 489.6 L589.5 486.6 L590.2 485.7 L591.0 486.0 L592.0 483.2 L593.5 482.2 L594.5 482.5 L596.5 483.9 L598.0 484.0 L599.3 482.7 L600.6 483.7 L601.6 483.3 L603.1 481.9 L604.6 481.3 L605.6 481.7 L607.1 483.4 L607.9 482.6 L608.6 483.6 L609.9 483.3 M634.8 478.6 L635.3 479.2 L637.4 479.7 L639.4 480.0 L641.9 480.3 L643.4 481.6 L644.9 479.7 L646.9 479.3 L648.5 479.7 L650.5 480.1 L652.5 480.0 L654.3 481.2 L655.5 479.7 L657.5 479.2 L659.5 479.6 L662.1 480.8 L663.6 480.4 L665.1 480.4 L666.6 479.1 L668.1 478.8 L668.6 478.9 L670.1 479.6 L671.6 479.5 L673.2 479.7 L674.2 479.4 L675.2 479.7 L677.2 478.9 L678.7 479.0 L682.7 479.0 L683.7 479.2 L685.8 479.3 L687.3 479.0 L688.8 478.8 L691.8 479.0 L694.8 479.0 L696.8 479.0 L698.9 478.8 L702.9 478.8 L703.9 479.6 L705.4 480.2 L707.1 481.5 L707.9 480.2 L709.4 479.4 L711.0 479.4 L712.0 479.7 L712.5 491.0 L712.7 514.1 L714.2 514.1 L714.5 491.0 L715.2 479.9 L716.5 479.6 L717.5 480.0 L718.2 481.7 L719.0 479.6 L719.5 480.3 L720.2 479.4 L722.0 479.3 L725.1 479.1 L727.6 479.3 L729.1 479.1 L733.1 478.9 L737.2 478.9 L738.0 480.3 L738.7 478.9 L744.2 478.8 L749.3 479.0 L752.3 479.1 L754.3 478.9 L759.4 479.0 L764.4 478.8 L769.4 478.9 L770.4 479.0 L779.5 478.9 L790.6 479.0 L797.7 478.7 L804.7 479.0 L808.8 479.0 L820.9 478.9 L824.9 479.0 L829.9 478.9 L837.0 479.2 L842.0 479.1 L850.1 479.0 L855.1 479.1 L862.2 478.8 L865.2 479.0 L866.2 479.1 L875.3 479.2 L883.4 478.9 L887.4 479.1 L887.9 480.0 L888.9 479.1 L892.4 479.0 L897.5 479.0 L900.5 479.3 L910.6 479.2 L915.4 479.0 L916.4 480.6 L917.1 478.7 L920.7 479.0 L924.7 478.7 L930.7 479.0 L934.8 478.7 L935.3 479.2 L938.8 478.8 L945.9 478.7 L949.9 479.0 L952.9 478.6 L957.0 478.8 L958.2 478.5 M958.8 479.3 L994.8 479.3" stroke="#3a87c6" stroke-width="1.2"/>
</g>
<rect x="477.6" y="474.5" width="481.19999999999993" height="40.0" fill="rgba(60,180,220,0.33)"/>
<rect x="525.8" y="474.5" width="62.5" height="40.0" fill="rgba(220,95,125,0.42)"/>
<rect x="535.3" y="474.5" width="2.7" height="40.0" fill="rgba(200,50,85,0.28)"/>
<rect x="538.0" y="474.5" width="1.0" height="40.0" fill="rgba(200,50,85,0.36)"/>
<rect x="539.0" y="474.5" width="2.3" height="40.0" fill="rgba(200,50,85,0.28)"/>
<rect x="542.7" y="474.5" width="1.9" height="40.0" fill="rgba(200,50,85,0.34)"/>
<rect x="544.6" y="474.5" width="2.0" height="40.0" fill="rgba(200,50,85,0.28)"/>
<rect x="546.6" y="474.5" width="1.4" height="40.0" fill="rgba(200,50,85,0.36)"/>
<rect x="548.0" y="474.5" width="1.4" height="40.0" fill="rgba(200,50,85,0.28)"/>
<rect x="588.3" y="474.5" width="117.8" height="40.0" fill="rgba(185,73,108,0.3)"/>
<rect x="706.1" y="474.5" width="6.3" height="40.0" fill="rgba(185,73,108,0.12)"/>
<rect x="712.4" y="474.5" width="1.9" height="40.0" fill="rgba(185,73,108,0.4)"/>
<rect x="916.5" y="474.5" width="1.1" height="40.0" fill="rgba(255,255,255,0.1)"/>
<g fill="none" stroke-linejoin="round" clip-path="url(#navmaskclip)" opacity="0.85"><path d="M42.7 478.8 L477.6 478.8 M478.1 478.6 L522.4 478.6 L523.9 478.6 L524.7 478.7 L525.2 478.8 L525.7 479.7 L526.1 481.6 L526.3 491.0 L526.4 512.4 L526.7 513.5 L527.5 512.6 L528.0 510.8 L528.5 512.6 L530.0 512.6 L547.6 512.5 L557.7 512.5 L567.3 512.4 L568.3 511.9 L569.3 512.3 L577.9 512.3 L578.6 512.2 L578.9 502.6 L579.7 497.0 L580.2 496.4 L580.9 495.9 L582.4 495.1 L583.9 494.7 L584.9 494.6 L585.4 493.8 L585.9 491.6 L586.2 490.6 L586.4 489.6 L587.5 484.6 L588.5 480.3 L589.0 479.7 L590.0 479.6 L593.0 479.6 L596.0 479.6 L599.0 479.3 L602.1 479.3 L611.1 479.3 L612.7 479.4 L617.2 479.5 L621.2 479.4 L629.3 479.3 L630.3 478.7 L673.7 478.6 L702.9 478.6 L703.9 478.7 L705.4 479.1 L706.9 478.7 L712.0 478.7 L712.3 491.0 L712.5 514.5 L713.7 514.5 L714.2 491.0 L714.5 479.2 L715.0 478.9 L719.0 478.8 L725.1 478.7 L739.2 478.6 L769.4 478.7 L779.5 478.7 L809.8 478.6 L837.0 478.6 L837.5 478.8 L838.0 478.6 L887.9 478.6 L889.4 478.7 L892.9 478.6 L900.5 478.7 L910.6 478.6 L916.6 478.5 L930.7 478.7 L958.2 478.6 M958.8 478.5 L994.8 478.5" stroke="#3fae55" stroke-width="1.1"/><path d="M42.7 480.1 L120.0 480.1 L121.0 480.8 L122.0 480.1 L396.0 480.1 L397.6 481.8 L399.0 480.1 L421.0 480.3 L422.0 481.3 L423.0 480.3 L451.0 480.3 L452.0 481.3 L453.0 480.3 L462.0 480.3 L463.0 481.1 L464.0 480.3 L477.6 480.1 M478.1 481.0 L478.6 480.5 L479.6 480.2 L482.1 480.3 L484.6 480.2 L487.1 480.3 L489.7 480.2 L492.2 480.4 L494.7 480.3 L497.2 480.3 L499.7 480.2 L502.3 480.4 L504.8 480.3 L507.3 480.2 L509.8 480.3 L512.3 480.3 L514.9 480.3 L516.4 480.4 L517.4 480.7 L518.9 480.4 L521.4 480.2 L522.9 480.4 L523.7 480.4 L524.2 480.9 L524.5 481.5 L524.8 480.7 L525.2 480.9 L525.6 483.0 L526.0 485.6 L526.3 496.4 L526.6 512.4 L527.0 514.0 L527.5 513.7 L528.0 514.0 L568.3 514.0 L568.8 513.9 L569.3 514.0 L577.9 514.0 L578.9 513.9 L579.4 513.5 L579.9 502.6 L580.9 501.7 L581.9 500.6 L582.9 500.2 L583.9 500.2 L584.7 500.4 L585.4 500.0 L586.1 498.1 L587.0 494.9 L587.8 492.7 L588.2 490.6 L588.5 489.6 L589.5 486.6 L590.2 485.7 L591.0 486.0 L592.0 483.2 L593.5 482.2 L594.5 482.5 L596.5 483.9 L598.0 484.0 L599.3 482.7 L600.6 483.7 L601.6 483.3 L603.1 481.9 L604.6 481.3 L605.6 481.7 L607.1 483.4 L607.9 482.6 L608.6 483.6 L609.9 483.3 M634.8 478.6 L635.3 479.2 L637.4 479.7 L639.4 480.0 L641.9 480.3 L643.4 481.6 L644.9 479.7 L646.9 479.3 L648.5 479.7 L650.5 480.1 L652.5 480.0 L654.3 481.2 L655.5 479.7 L657.5 479.2 L659.5 479.6 L662.1 480.8 L663.6 480.4 L665.1 480.4 L666.6 479.1 L668.1 478.8 L668.6 478.9 L670.1 479.6 L671.6 479.5 L673.2 479.7 L674.2 479.4 L675.2 479.7 L677.2 478.9 L678.7 479.0 L682.7 479.0 L683.7 479.2 L685.8 479.3 L687.3 479.0 L688.8 478.8 L691.8 479.0 L694.8 479.0 L696.8 479.0 L698.9 478.8 L702.9 478.8 L703.9 479.6 L705.4 480.2 L707.1 481.5 L707.9 480.2 L709.4 479.4 L711.0 479.4 L712.0 479.7 L712.5 491.0 L712.7 514.1 L714.2 514.1 L714.5 491.0 L715.2 479.9 L716.5 479.6 L717.5 480.0 L718.2 481.7 L719.0 479.6 L719.5 480.3 L720.2 479.4 L722.0 479.3 L725.1 479.1 L727.6 479.3 L729.1 479.1 L733.1 478.9 L737.2 478.9 L738.0 480.3 L738.7 478.9 L744.2 478.8 L749.3 479.0 L752.3 479.1 L754.3 478.9 L759.4 479.0 L764.4 478.8 L769.4 478.9 L770.4 479.0 L779.5 478.9 L790.6 479.0 L797.7 478.7 L804.7 479.0 L808.8 479.0 L820.9 478.9 L824.9 479.0 L829.9 478.9 L837.0 479.2 L842.0 479.1 L850.1 479.0 L855.1 479.1 L862.2 478.8 L865.2 479.0 L866.2 479.1 L875.3 479.2 L883.4 478.9 L887.4 479.1 L887.9 480.0 L888.9 479.1 L892.4 479.0 L897.5 479.0 L900.5 479.3 L910.6 479.2 L915.4 479.0 L916.4 480.6 L917.1 478.7 L920.7 479.0 L924.7 478.7 L930.7 479.0 L934.8 478.7 L935.3 479.2 L938.8 478.8 L945.9 478.7 L949.9 479.0 L952.9 478.6 L957.0 478.8 L958.2 478.5 M958.8 479.3 L994.8 479.3" stroke="#2f86cc" stroke-width="1.1"/></g>
<path d="M42.7 474.5 H995 M477.6 474.5 V514.5 M958.8 514.5 V474.5" fill="none" stroke="#999" stroke-width="1"/>
<rect x="473.6" y="487.5" width="8" height="14.5" rx="1" fill="#f4f4f4" stroke="#999" stroke-width="1"/>
<line x1="476.1" x2="476.1" y1="491" y2="498.5" stroke="#555" stroke-width="1"/><line x1="479.1" x2="479.1" y1="491" y2="498.5" stroke="#555" stroke-width="1"/>
<rect x="954.5" y="487.5" width="8" height="14.5" rx="1" fill="#f4f4f4" stroke="#999" stroke-width="1"/>
<line x1="957.0" x2="957.0" y1="491" y2="498.5" stroke="#555" stroke-width="1"/><line x1="960.0" x2="960.0" y1="491" y2="498.5" stroke="#555" stroke-width="1"/>
<line x1="130.4" x2="145.6" y1="546" y2="546" stroke="#b9a3e0" stroke-width="1.5"/>
<circle cx="138.0" cy="546" r="2" fill="#4a1a99"/>
<text x="151.2" y="550" font-size="12" fill="#333">Google (Search)</text>
<line x1="283.2" x2="300" y1="546" y2="546" stroke="#f8dcb8" stroke-width="1.5"/>
<rect x="289.6" y="544" width="4" height="4" fill="#ec9530"/>
<text x="305" y="550" font-size="12" fill="#333">Telescope (# Unique Source IPs)</text>
<line x1="530.2" x2="546.8" y1="546" y2="546" stroke="#a8dba8" stroke-width="1.5"/>
<path d="M536.3 544.2 L540.7 544.2 L538.5 547.5Z" fill="#2ca02c"/>
<text x="551.5" y="550" font-size="12" fill="#333">BGP (#Visible /24s)</text>
<line x1="702" x2="718.6" y1="546" y2="546" stroke="#b4d4ea" stroke-width="1.5"/>
<path d="M710.3 543.5 L712.8 546 L710.3 548.5 L707.8 546Z" fill="#1f6fb4"/>
<text x="723.5" y="550" font-size="12" fill="#333">Active Probing (#/24s Up)</text>
</svg>
</body></html>
